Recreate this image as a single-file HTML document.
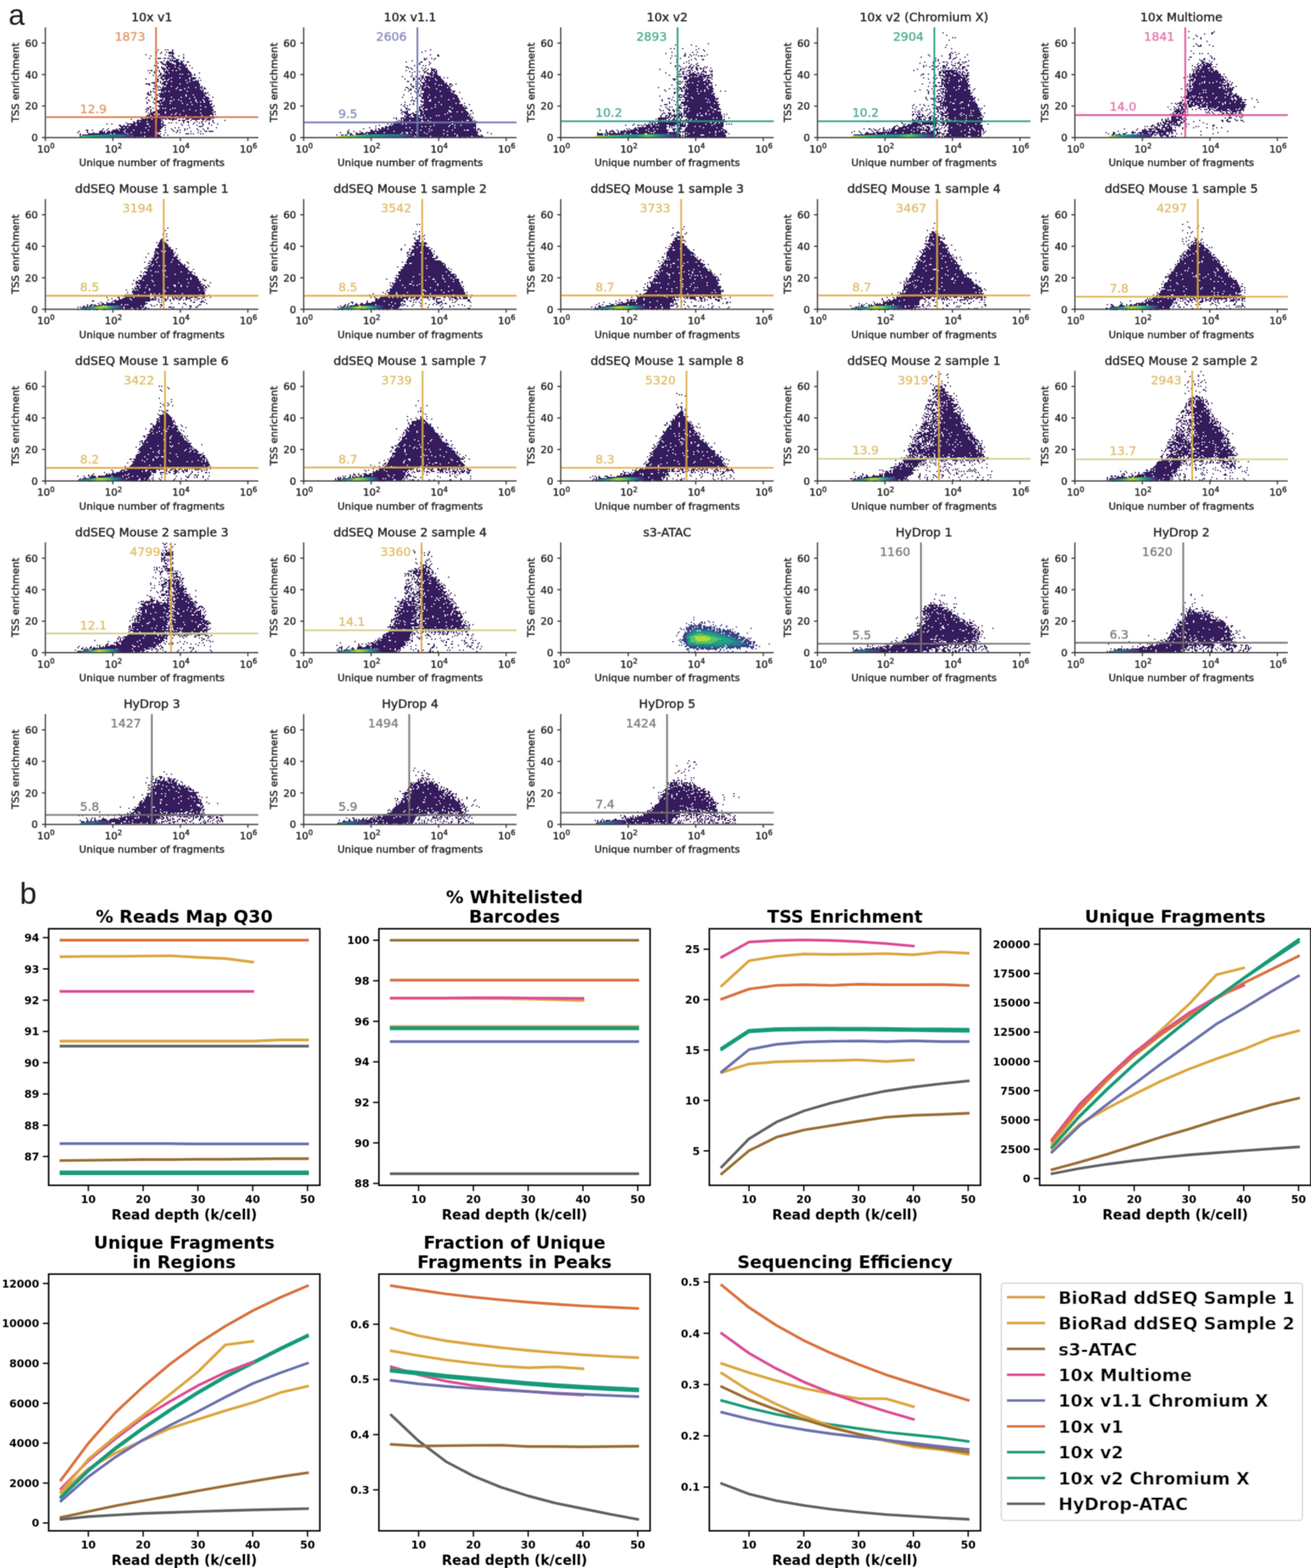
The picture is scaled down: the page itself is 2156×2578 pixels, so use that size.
<!DOCTYPE html><html><head><meta charset="utf-8"><style>html,body{margin:0;padding:0;background:#fff;}svg{display:block;}</style></head><body>
<svg width="2156" height="2578" viewBox="0 0 2156 2578">
<style>.pa text{stroke:currentColor;stroke-width:0.55px;paint-order:stroke}</style>
<rect width="2156" height="2578" fill="#fff"/>
<filter id="soft" x="0" y="0" width="100%" height="100%" filterUnits="userSpaceOnUse"><feConvolveMatrix order="3" kernelMatrix="1 2 1 2 4 2 1 2 1" divisor="16" edgeMode="duplicate" preserveAlpha="false"/></filter>
<g filter="url(#soft)">
<g class="pa" font-family="'DejaVu Sans', 'Liberation Sans', sans-serif" fill="#262626" color="#262626">
<g transform="translate(75 45)"><path fill="#341a5c" d="M184 36h2v2h-2zM196 36h2v2h-2zM200 36h2v2h-2zM208 36h2v2h-2zM208 38h2v2h-2zM182 40h2v2h-2zM190 40h2v2h-2zM198 40h2v2h-2zM202 40h8v2h-8zM188 42h2v2h-2zM202 42h10v2h-10zM164 44h2v2h-2zM180 44h2v2h-2zM196 44h2v2h-2zM208 44h2v2h-2zM226 44h2v2h-2zM172 46h2v2h-2zM202 46h8v2h-8zM218 46h2v2h-2zM208 48h4v2h-4zM226 48h2v2h-2zM170 50h2v2h-2zM184 50h6v2h-6zM194 50h4v2h-4zM200 50h4v2h-4zM206 50h2v2h-2zM210 50h4v2h-4zM226 50h2v2h-2zM180 52h2v2h-2zM204 52h2v2h-2zM208 52h2v2h-2zM214 52h6v2h-6zM194 54h2v2h-2zM200 54h2v2h-2zM204 54h14v2h-14zM222 54h2v2h-2zM226 54h2v2h-2zM180 56h4v2h-4zM188 56h4v2h-4zM198 56h6v2h-6zM210 56h10v2h-10zM222 56h4v2h-4zM232 56h4v2h-4zM184 58h2v2h-2zM190 58h4v2h-4zM198 58h10v2h-10zM214 58h12v2h-12zM192 60h20v2h-20zM214 60h14v2h-14zM230 60h2v2h-2zM178 62h2v2h-2zM182 62h2v2h-2zM196 62h2v2h-2zM200 62h20v2h-20zM222 62h10v2h-10zM236 62h2v2h-2zM184 64h2v2h-2zM190 64h2v2h-2zM198 64h14v2h-14zM214 64h16v2h-16zM184 66h2v2h-2zM190 66h6v2h-6zM198 66h4v2h-4zM204 66h14v2h-14zM220 66h14v2h-14zM240 66h2v2h-2zM180 68h2v2h-2zM192 68h6v2h-6zM200 68h20v2h-20zM222 68h12v2h-12zM168 70h2v2h-2zM172 70h4v2h-4zM182 70h2v2h-2zM186 70h2v2h-2zM194 70h2v2h-2zM198 70h2v2h-2zM202 70h6v2h-6zM210 70h4v2h-4zM216 70h20v2h-20zM178 72h2v2h-2zM186 72h2v2h-2zM194 72h44v2h-44zM170 74h2v2h-2zM178 74h2v2h-2zM188 74h2v2h-2zM196 74h6v2h-6zM204 74h36v2h-36zM252 74h2v2h-2zM188 76h4v2h-4zM194 76h2v2h-2zM198 76h22v2h-22zM222 76h2v2h-2zM226 76h8v2h-8zM236 76h4v2h-4zM244 76h2v2h-2zM176 78h2v2h-2zM186 78h4v2h-4zM192 78h50v2h-50zM244 78h2v2h-2zM184 80h2v2h-2zM190 80h50v2h-50zM188 82h4v2h-4zM196 82h10v2h-10zM208 82h12v2h-12zM222 82h14v2h-14zM238 82h10v2h-10zM252 82h2v2h-2zM164 84h2v2h-2zM182 84h4v2h-4zM190 84h12v2h-12zM204 84h32v2h-32zM238 84h8v2h-8zM184 86h2v2h-2zM192 86h2v2h-2zM198 86h2v2h-2zM202 86h28v2h-28zM232 86h10v2h-10zM246 86h2v2h-2zM250 86h2v2h-2zM254 86h2v2h-2zM182 88h4v2h-4zM188 88h2v2h-2zM194 88h12v2h-12zM208 88h28v2h-28zM238 88h14v2h-14zM174 90h6v2h-6zM188 90h2v2h-2zM192 90h6v2h-6zM200 90h32v2h-32zM234 90h18v2h-18zM164 92h8v2h-8zM178 92h2v2h-2zM190 92h8v2h-8zM200 92h20v2h-20zM222 92h32v2h-32zM170 94h2v2h-2zM180 94h4v2h-4zM194 94h60v2h-60zM178 96h6v2h-6zM186 96h2v2h-2zM192 96h2v2h-2zM198 96h8v2h-8zM208 96h46v2h-46zM256 96h2v2h-2zM184 98h2v2h-2zM188 98h2v2h-2zM192 98h24v2h-24zM218 98h16v2h-16zM236 98h10v2h-10zM248 98h10v2h-10zM260 98h2v2h-2zM176 100h6v2h-6zM190 100h24v2h-24zM216 100h12v2h-12zM230 100h24v2h-24zM256 100h2v2h-2zM260 100h4v2h-4zM184 102h36v2h-36zM224 102h32v2h-32zM258 102h2v2h-2zM172 104h2v2h-2zM176 104h2v2h-2zM190 104h6v2h-6zM198 104h4v2h-4zM204 104h28v2h-28zM234 104h26v2h-26zM168 106h2v2h-2zM172 106h2v2h-2zM178 106h2v2h-2zM190 106h2v2h-2zM194 106h66v2h-66zM262 106h2v2h-2zM266 106h2v2h-2zM166 108h4v2h-4zM186 108h80v2h-80zM168 110h6v2h-6zM180 110h6v2h-6zM188 110h42v2h-42zM232 110h10v2h-10zM244 110h18v2h-18zM268 110h2v2h-2zM186 112h44v2h-44zM232 112h32v2h-32zM166 114h2v2h-2zM174 114h2v2h-2zM182 114h2v2h-2zM188 114h18v2h-18zM208 114h14v2h-14zM224 114h20v2h-20zM246 114h14v2h-14zM262 114h6v2h-6zM274 114h2v2h-2zM164 116h2v2h-2zM178 116h2v2h-2zM182 116h2v2h-2zM192 116h2v2h-2zM196 116h40v2h-40zM238 116h32v2h-32zM168 118h2v2h-2zM178 118h2v2h-2zM188 118h6v2h-6zM196 118h14v2h-14zM212 118h6v2h-6zM220 118h26v2h-26zM248 118h10v2h-10zM260 118h8v2h-8zM170 120h2v2h-2zM182 120h10v2h-10zM194 120h10v2h-10zM208 120h14v2h-14zM224 120h22v2h-22zM248 120h12v2h-12zM262 120h12v2h-12zM166 122h2v2h-2zM176 122h2v2h-2zM182 122h6v2h-6zM190 122h48v2h-48zM240 122h8v2h-8zM250 122h4v2h-4zM256 122h4v2h-4zM262 122h8v2h-8zM166 124h2v2h-2zM178 124h2v2h-2zM186 124h18v2h-18zM206 124h18v2h-18zM226 124h44v2h-44zM272 124h2v2h-2zM188 126h2v2h-2zM192 126h40v2h-40zM234 126h6v2h-6zM242 126h32v2h-32zM184 128h70v2h-70zM256 128h16v2h-16zM276 128h2v2h-2zM170 130h4v2h-4zM186 130h76v2h-76zM264 130h12v2h-12zM166 132h4v2h-4zM176 132h2v2h-2zM188 132h4v2h-4zM194 132h2v2h-2zM198 132h10v2h-10zM210 132h2v2h-2zM214 132h60v2h-60zM164 134h2v2h-2zM168 134h2v2h-2zM172 134h2v2h-2zM182 134h2v2h-2zM186 134h18v2h-18zM206 134h30v2h-30zM238 134h16v2h-16zM256 134h20v2h-20zM166 136h2v2h-2zM172 136h2v2h-2zM182 136h44v2h-44zM228 136h18v2h-18zM248 136h28v2h-28zM164 138h2v2h-2zM172 138h2v2h-2zM176 138h6v2h-6zM184 138h12v2h-12zM198 138h76v2h-76zM276 138h4v2h-4zM168 140h2v2h-2zM172 140h10v2h-10zM184 140h12v2h-12zM198 140h16v2h-16zM216 140h38v2h-38zM256 140h20v2h-20zM170 142h8v2h-8zM182 142h2v2h-2zM188 142h18v2h-18zM208 142h4v2h-4zM214 142h6v2h-6zM222 142h54v2h-54zM278 142h2v2h-2zM166 144h6v2h-6zM174 144h8v2h-8zM184 144h46v2h-46zM232 144h24v2h-24zM258 144h12v2h-12zM274 144h2v2h-2zM164 146h24v2h-24zM190 146h2v2h-2zM194 146h2v2h-2zM198 146h4v2h-4zM206 146h8v2h-8zM216 146h30v2h-30zM248 146h30v2h-30zM280 146h2v2h-2zM156 148h4v2h-4zM164 148h2v2h-2zM168 148h30v2h-30zM200 148h6v2h-6zM208 148h4v2h-4zM214 148h2v2h-2zM218 148h4v2h-4zM224 148h4v2h-4zM230 148h34v2h-34zM266 148h12v2h-12zM140 150h2v2h-2zM158 150h16v2h-16zM176 150h14v2h-14zM192 150h2v2h-2zM196 150h4v2h-4zM202 150h14v2h-14zM230 150h6v2h-6zM240 150h14v2h-14zM256 150h6v2h-6zM264 150h8v2h-8zM150 152h42v2h-42zM208 152h2v2h-2zM218 152h4v2h-4zM224 152h6v2h-6zM238 152h2v2h-2zM246 152h2v2h-2zM258 152h2v2h-2zM264 152h2v2h-2zM268 152h2v2h-2zM274 152h2v2h-2zM294 152h2v2h-2zM144 154h2v2h-2zM150 154h4v2h-4zM156 154h10v2h-10zM168 154h12v2h-12zM182 154h8v2h-8zM192 154h2v2h-2zM226 154h2v2h-2zM232 154h4v2h-4zM248 154h2v2h-2zM256 154h2v2h-2zM262 154h2v2h-2zM274 154h2v2h-2zM132 156h2v2h-2zM144 156h46v2h-46zM192 156h2v2h-2zM202 156h2v2h-2zM206 156h2v2h-2zM214 156h2v2h-2zM226 156h2v2h-2zM234 156h2v2h-2zM244 156h2v2h-2zM252 156h2v2h-2zM256 156h2v2h-2zM268 156h2v2h-2zM276 156h2v2h-2zM100 158h2v2h-2zM108 158h2v2h-2zM134 158h14v2h-14zM150 158h16v2h-16zM170 158h24v2h-24zM222 158h2v2h-2zM242 158h2v2h-2zM258 158h2v2h-2zM268 158h2v2h-2zM282 158h2v2h-2zM120 160h4v2h-4zM128 160h2v2h-2zM134 160h2v2h-2zM140 160h8v2h-8zM150 160h40v2h-40zM192 160h6v2h-6zM224 160h2v2h-2zM234 160h2v2h-2zM248 160h2v2h-2zM258 160h2v2h-2zM272 160h2v2h-2zM122 162h48v2h-48zM172 162h22v2h-22zM252 162h6v2h-6zM124 164h4v2h-4zM130 164h4v2h-4zM136 164h28v2h-28zM166 164h26v2h-26zM196 164h2v2h-2zM212 164h2v2h-2zM218 164h2v2h-2zM236 164h2v2h-2zM266 164h2v2h-2zM280 164h2v2h-2zM94 166h2v2h-2zM102 166h2v2h-2zM116 166h2v2h-2zM120 166h70v2h-70zM206 166h2v2h-2zM228 166h2v2h-2zM232 166h2v2h-2zM248 166h2v2h-2zM258 166h2v2h-2zM266 166h2v2h-2zM66 168h4v2h-4zM76 168h2v2h-2zM92 168h2v2h-2zM100 168h2v2h-2zM110 168h10v2h-10zM122 168h8v2h-8zM132 168h12v2h-12zM146 168h22v2h-22zM170 168h18v2h-18zM196 168h2v2h-2zM208 168h2v2h-2zM216 168h2v2h-2zM220 168h2v2h-2zM228 168h2v2h-2zM250 168h2v2h-2zM260 168h2v2h-2zM54 170h2v2h-2zM68 170h2v2h-2zM88 170h6v2h-6zM96 170h2v2h-2zM102 170h4v2h-4zM108 170h20v2h-20zM130 170h60v2h-60zM210 170h2v2h-2zM216 170h2v2h-2zM238 170h2v2h-2zM254 170h2v2h-2zM262 170h4v2h-4zM268 170h8v2h-8zM52 172h2v2h-2zM68 172h2v2h-2zM78 172h2v2h-2zM88 172h10v2h-10zM100 172h30v2h-30zM132 172h8v2h-8zM142 172h14v2h-14zM158 172h4v2h-4zM164 172h16v2h-16zM184 172h2v2h-2zM196 172h2v2h-2zM214 172h2v2h-2zM220 172h2v2h-2zM250 172h2v2h-2zM56 174h2v2h-2zM70 174h36v2h-36zM108 174h4v2h-4zM114 174h20v2h-20zM136 174h48v2h-48zM188 174h2v2h-2zM230 174h6v2h-6zM238 174h2v2h-2zM242 174h2v2h-2zM254 174h2v2h-2zM258 174h2v2h-2zM56 176h2v2h-2zM60 176h52v2h-52zM114 176h66v2h-66zM182 176h6v2h-6zM194 176h2v2h-2zM200 176h2v2h-2zM56 178h56v2h-56zM114 178h4v2h-4zM120 178h10v2h-10zM132 178h2v2h-2zM136 178h2v2h-2zM140 178h2v2h-2zM144 178h18v2h-18zM164 178h26v2h-26zM58 180h12v2h-12zM72 180h2v2h-2zM80 180h4v2h-4zM94 180h4v2h-4zM100 180h4v2h-4zM106 180h2v2h-2zM114 180h2v2h-2zM120 180h4v2h-4zM128 180h2v2h-2zM132 180h2v2h-2zM136 180h2v2h-2zM144 180h4v2h-4zM152 180h2v2h-2zM160 180h2v2h-2zM164 180h8v2h-8zM174 180h4v2h-4zM180 180h2v2h-2zM184 180h2v2h-2zM188 180h2v2h-2z"/><linearGradient id="vg0" x1="0" x2="1" y1="0" y2="0"><stop offset="0.00" stop-color="#5ec962"/><stop offset="0.25" stop-color="#21a585"/><stop offset="0.50" stop-color="#23898e"/><stop offset="0.75" stop-color="#2d6f8e"/><stop offset="1.00" stop-color="#46307e"/></linearGradient><path fill="url(#vg0)" d="M57.8 181.2L57.8 178.2L100.7 175.9L143.5 175.2L143.5 181.2z"/></g>
<line x1="256.5" y1="226.2" x2="256.5" y2="44.9" stroke="#D9703C" stroke-width="2.9" stroke-opacity="0.9"/>
<line x1="74.6" y1="192.6" x2="424.8" y2="192.6" stroke="#D9703C" stroke-width="2.9" stroke-opacity="0.9"/>
<text x="239" y="67" font-size="19.8" text-anchor="end" fill="#E29C6E" color="#E29C6E">1873</text>
<text x="131.6" y="185.6" font-size="19.8" fill="#E29C6E" color="#E29C6E">12.9</text>
<path d="M74.6 44.9V226.2H424.8" fill="none" stroke="#3a3a3a" stroke-width="2"/>
<line x1="69" y1="226.2" x2="74.6" y2="226.2" stroke="#3a3a3a" stroke-width="2"/>
<text x="62.3" y="232.2" font-size="16.5" text-anchor="end">0</text>
<line x1="69" y1="174.4" x2="74.6" y2="174.4" stroke="#3a3a3a" stroke-width="2"/>
<text x="62.3" y="180.4" font-size="16.5" text-anchor="end">20</text>
<line x1="69" y1="122.6" x2="74.6" y2="122.6" stroke="#3a3a3a" stroke-width="2"/>
<text x="62.3" y="128.6" font-size="16.5" text-anchor="end">40</text>
<line x1="69" y1="70.8" x2="74.6" y2="70.8" stroke="#3a3a3a" stroke-width="2"/>
<text x="62.3" y="76.8" font-size="16.5" text-anchor="end">60</text>
<line x1="74.6" y1="226.2" x2="74.6" y2="231.8" stroke="#3a3a3a" stroke-width="2"/>
<text x="75.6" y="250.6" font-size="16.5" text-anchor="middle">10<tspan font-size="12" dy="-6.5">0</tspan></text>
<line x1="185.6" y1="226.2" x2="185.6" y2="231.8" stroke="#3a3a3a" stroke-width="2"/>
<text x="186.6" y="250.6" font-size="16.5" text-anchor="middle">10<tspan font-size="12" dy="-6.5">2</tspan></text>
<line x1="296.6" y1="226.2" x2="296.6" y2="231.8" stroke="#3a3a3a" stroke-width="2"/>
<text x="297.6" y="250.6" font-size="16.5" text-anchor="middle">10<tspan font-size="12" dy="-6.5">4</tspan></text>
<line x1="407.6" y1="226.2" x2="407.6" y2="231.8" stroke="#3a3a3a" stroke-width="2"/>
<text x="408.6" y="250.6" font-size="16.5" text-anchor="middle">10<tspan font-size="12" dy="-6.5">6</tspan></text>
<text x="249.7" y="273.2" font-size="16.5" text-anchor="middle">Unique number of fragments</text>
<text transform="translate(31.3 135.6) rotate(-90)" font-size="16.5" text-anchor="middle">TSS enrichment</text>
<text x="249.7" y="35.1" font-size="19.8" text-anchor="middle">10x v1</text>
<g transform="translate(499 45)"><path fill="#341a5c" d="M208 36h2v2h-2zM200 38h2v2h-2zM194 40h2v2h-2zM208 44h2v2h-2zM220 44h2v2h-2zM220 46h4v2h-4zM198 50h2v2h-2zM202 50h2v2h-2zM210 50h2v2h-2zM216 50h2v2h-2zM198 52h4v2h-4zM214 52h2v2h-2zM178 54h2v2h-2zM168 56h2v2h-2zM192 56h4v2h-4zM206 56h2v2h-2zM190 58h2v2h-2zM208 58h2v2h-2zM190 60h2v2h-2zM206 60h2v2h-2zM182 62h2v2h-2zM196 62h2v2h-2zM200 62h2v2h-2zM168 64h4v2h-4zM186 64h2v2h-2zM172 66h2v2h-2zM176 66h2v2h-2zM194 66h2v2h-2zM200 66h2v2h-2zM210 66h2v2h-2zM178 68h2v2h-2zM198 68h2v2h-2zM204 68h2v2h-2zM210 68h8v2h-8zM168 70h2v2h-2zM196 70h2v2h-2zM202 70h2v2h-2zM210 70h6v2h-6zM218 70h2v2h-2zM174 72h2v2h-2zM182 72h2v2h-2zM190 72h2v2h-2zM198 72h4v2h-4zM210 72h2v2h-2zM214 72h6v2h-6zM178 74h2v2h-2zM198 74h2v2h-2zM202 74h4v2h-4zM208 74h6v2h-6zM216 74h4v2h-4zM204 76h8v2h-8zM214 76h6v2h-6zM178 78h2v2h-2zM192 78h2v2h-2zM196 78h2v2h-2zM208 78h14v2h-14zM162 80h2v2h-2zM176 80h2v2h-2zM184 80h2v2h-2zM194 80h4v2h-4zM200 80h8v2h-8zM210 80h2v2h-2zM214 80h12v2h-12zM180 82h2v2h-2zM186 82h2v2h-2zM190 82h2v2h-2zM194 82h4v2h-4zM200 82h26v2h-26zM230 82h2v2h-2zM236 82h2v2h-2zM166 84h2v2h-2zM180 84h4v2h-4zM188 84h4v2h-4zM194 84h2v2h-2zM198 84h2v2h-2zM202 84h14v2h-14zM218 84h10v2h-10zM180 86h2v2h-2zM192 86h2v2h-2zM198 86h8v2h-8zM208 86h10v2h-10zM220 86h10v2h-10zM170 88h4v2h-4zM184 88h2v2h-2zM192 88h2v2h-2zM200 88h32v2h-32zM186 90h4v2h-4zM194 90h38v2h-38zM234 90h2v2h-2zM176 92h2v2h-2zM184 92h4v2h-4zM190 92h2v2h-2zM196 92h4v2h-4zM202 92h14v2h-14zM218 92h18v2h-18zM240 92h4v2h-4zM250 92h2v2h-2zM176 94h2v2h-2zM186 94h2v2h-2zM192 94h2v2h-2zM196 94h26v2h-26zM224 94h2v2h-2zM228 94h10v2h-10zM240 94h2v2h-2zM244 94h2v2h-2zM178 96h4v2h-4zM184 96h2v2h-2zM192 96h8v2h-8zM202 96h2v2h-2zM206 96h34v2h-34zM242 96h2v2h-2zM168 98h4v2h-4zM180 98h2v2h-2zM186 98h2v2h-2zM190 98h2v2h-2zM194 98h4v2h-4zM200 98h6v2h-6zM208 98h28v2h-28zM238 98h4v2h-4zM172 100h2v2h-2zM176 100h2v2h-2zM184 100h2v2h-2zM190 100h2v2h-2zM194 100h24v2h-24zM220 100h22v2h-22zM166 102h2v2h-2zM174 102h4v2h-4zM188 102h2v2h-2zM194 102h50v2h-50zM172 104h2v2h-2zM182 104h2v2h-2zM188 104h2v2h-2zM192 104h2v2h-2zM198 104h26v2h-26zM226 104h16v2h-16zM244 104h6v2h-6zM184 106h2v2h-2zM188 106h2v2h-2zM198 106h46v2h-46zM246 106h2v2h-2zM256 106h2v2h-2zM176 108h2v2h-2zM186 108h2v2h-2zM192 108h56v2h-56zM164 110h2v2h-2zM190 110h2v2h-2zM196 110h10v2h-10zM208 110h44v2h-44zM186 112h2v2h-2zM190 112h4v2h-4zM196 112h30v2h-30zM228 112h26v2h-26zM162 114h2v2h-2zM178 114h2v2h-2zM186 114h2v2h-2zM194 114h10v2h-10zM206 114h10v2h-10zM218 114h36v2h-36zM184 116h2v2h-2zM194 116h52v2h-52zM248 116h8v2h-8zM260 116h2v2h-2zM178 118h2v2h-2zM198 118h10v2h-10zM210 118h28v2h-28zM240 118h16v2h-16zM176 120h2v2h-2zM180 120h4v2h-4zM186 120h2v2h-2zM192 120h4v2h-4zM198 120h8v2h-8zM210 120h48v2h-48zM166 122h2v2h-2zM186 122h2v2h-2zM194 122h28v2h-28zM224 122h34v2h-34zM180 124h2v2h-2zM198 124h52v2h-52zM252 124h4v2h-4zM264 124h2v2h-2zM160 126h2v2h-2zM166 126h2v2h-2zM174 126h2v2h-2zM180 126h2v2h-2zM192 126h2v2h-2zM196 126h20v2h-20zM218 126h8v2h-8zM228 126h34v2h-34zM272 126h2v2h-2zM164 128h2v2h-2zM170 128h2v2h-2zM194 128h68v2h-68zM264 128h2v2h-2zM166 130h2v2h-2zM190 130h6v2h-6zM198 130h18v2h-18zM218 130h22v2h-22zM242 130h22v2h-22zM266 130h2v2h-2zM168 132h4v2h-4zM190 132h2v2h-2zM196 132h14v2h-14zM212 132h32v2h-32zM246 132h24v2h-24zM160 134h2v2h-2zM168 134h2v2h-2zM172 134h4v2h-4zM190 134h4v2h-4zM196 134h4v2h-4zM204 134h62v2h-62zM160 136h2v2h-2zM170 136h2v2h-2zM186 136h2v2h-2zM190 136h6v2h-6zM198 136h40v2h-40zM242 136h26v2h-26zM274 136h4v2h-4zM162 138h10v2h-10zM184 138h2v2h-2zM188 138h2v2h-2zM192 138h48v2h-48zM244 138h8v2h-8zM254 138h6v2h-6zM262 138h8v2h-8zM160 140h2v2h-2zM166 140h6v2h-6zM178 140h4v2h-4zM186 140h2v2h-2zM192 140h4v2h-4zM198 140h38v2h-38zM238 140h34v2h-34zM278 140h2v2h-2zM162 142h2v2h-2zM168 142h10v2h-10zM180 142h8v2h-8zM192 142h40v2h-40zM234 142h38v2h-38zM274 142h2v2h-2zM166 144h2v2h-2zM170 144h6v2h-6zM180 144h6v2h-6zM188 144h10v2h-10zM200 144h18v2h-18zM220 144h2v2h-2zM224 144h46v2h-46zM272 144h2v2h-2zM166 146h8v2h-8zM176 146h2v2h-2zM182 146h8v2h-8zM192 146h2v2h-2zM196 146h46v2h-46zM244 146h30v2h-30zM276 146h2v2h-2zM148 148h2v2h-2zM152 148h2v2h-2zM160 148h6v2h-6zM168 148h24v2h-24zM196 148h4v2h-4zM202 148h6v2h-6zM210 148h66v2h-66zM278 148h2v2h-2zM152 150h2v2h-2zM160 150h2v2h-2zM164 150h74v2h-74zM240 150h38v2h-38zM156 152h2v2h-2zM160 152h2v2h-2zM164 152h10v2h-10zM176 152h18v2h-18zM196 152h8v2h-8zM206 152h62v2h-62zM272 152h6v2h-6zM280 152h2v2h-2zM152 154h4v2h-4zM158 154h36v2h-36zM198 154h10v2h-10zM210 154h34v2h-34zM246 154h14v2h-14zM262 154h18v2h-18zM282 154h4v2h-4zM148 156h4v2h-4zM154 156h34v2h-34zM190 156h2v2h-2zM194 156h12v2h-12zM208 156h6v2h-6zM216 156h68v2h-68zM138 158h2v2h-2zM144 158h2v2h-2zM148 158h14v2h-14zM164 158h4v2h-4zM170 158h74v2h-74zM246 158h38v2h-38zM124 160h2v2h-2zM142 160h2v2h-2zM146 160h68v2h-68zM216 160h24v2h-24zM242 160h6v2h-6zM250 160h8v2h-8zM260 160h24v2h-24zM118 162h2v2h-2zM134 162h4v2h-4zM140 162h54v2h-54zM196 162h4v2h-4zM202 162h6v2h-6zM210 162h28v2h-28zM240 162h44v2h-44zM108 164h2v2h-2zM128 164h4v2h-4zM134 164h34v2h-34zM170 164h4v2h-4zM176 164h72v2h-72zM250 164h30v2h-30zM282 164h2v2h-2zM98 166h2v2h-2zM118 166h2v2h-2zM122 166h4v2h-4zM128 166h10v2h-10zM140 166h66v2h-66zM208 166h76v2h-76zM286 166h4v2h-4zM74 168h2v2h-2zM110 168h4v2h-4zM118 168h2v2h-2zM124 168h54v2h-54zM180 168h12v2h-12zM194 168h16v2h-16zM212 168h18v2h-18zM232 168h12v2h-12zM246 168h18v2h-18zM266 168h2v2h-2zM272 168h12v2h-12zM286 168h2v2h-2zM290 168h2v2h-2zM72 170h2v2h-2zM82 170h2v2h-2zM92 170h2v2h-2zM110 170h38v2h-38zM150 170h56v2h-56zM208 170h28v2h-28zM238 170h48v2h-48zM290 170h2v2h-2zM60 172h2v2h-2zM72 172h4v2h-4zM86 172h2v2h-2zM94 172h4v2h-4zM102 172h16v2h-16zM120 172h12v2h-12zM134 172h28v2h-28zM164 172h4v2h-4zM172 172h4v2h-4zM178 172h6v2h-6zM186 172h12v2h-12zM200 172h88v2h-88zM302 172h2v2h-2zM72 174h2v2h-2zM76 174h4v2h-4zM86 174h18v2h-18zM106 174h54v2h-54zM162 174h8v2h-8zM172 174h30v2h-30zM204 174h26v2h-26zM232 174h16v2h-16zM250 174h36v2h-36zM308 174h2v2h-2zM54 176h2v2h-2zM62 176h4v2h-4zM68 176h4v2h-4zM76 176h6v2h-6zM86 176h14v2h-14zM102 176h70v2h-70zM174 176h62v2h-62zM238 176h14v2h-14zM254 176h34v2h-34zM292 176h2v2h-2zM60 178h6v2h-6zM68 178h2v2h-2zM72 178h20v2h-20zM94 178h10v2h-10zM106 178h12v2h-12zM120 178h14v2h-14zM138 178h26v2h-26zM166 178h6v2h-6zM174 178h8v2h-8zM184 178h24v2h-24zM210 178h42v2h-42zM254 178h22v2h-22zM278 178h18v2h-18zM54 180h2v2h-2zM66 180h2v2h-2zM72 180h2v2h-2zM80 180h2v2h-2zM88 180h2v2h-2zM94 180h2v2h-2zM98 180h4v2h-4zM104 180h4v2h-4zM110 180h2v2h-2zM114 180h2v2h-2zM120 180h2v2h-2zM130 180h2v2h-2zM142 180h6v2h-6zM158 180h4v2h-4zM174 180h2v2h-2zM180 180h2v2h-2zM194 180h2v2h-2zM200 180h2v2h-2zM204 180h2v2h-2zM208 180h2v2h-2zM212 180h2v2h-2zM218 180h2v2h-2zM222 180h4v2h-4zM230 180h4v2h-4zM236 180h2v2h-2zM240 180h2v2h-2zM244 180h2v2h-2zM254 180h6v2h-6zM264 180h2v2h-2zM274 180h2v2h-2zM288 180h2v2h-2z"/><linearGradient id="vg1" x1="0" x2="1" y1="0" y2="0"><stop offset="0.00" stop-color="#b8de29"/><stop offset="0.20" stop-color="#5ec962"/><stop offset="0.40" stop-color="#21a585"/><stop offset="0.60" stop-color="#23898e"/><stop offset="0.80" stop-color="#2d6f8e"/><stop offset="1.00" stop-color="#46307e"/></linearGradient><path fill="url(#vg1)" d="M57.8 181.2L57.8 178.2L118.6 175.9L179.4 175.2L179.4 181.2z"/></g>
<line x1="686.4" y1="226.2" x2="686.4" y2="44.9" stroke="#6E74AE" stroke-width="2.9" stroke-opacity="0.9"/>
<line x1="499.4" y1="201.3" x2="849.6" y2="201.3" stroke="#6E74AE" stroke-width="2.9" stroke-opacity="0.9"/>
<text x="668.9" y="67" font-size="19.8" text-anchor="end" fill="#8A8FC0" color="#8A8FC0">2606</text>
<text x="556.4" y="194.3" font-size="19.8" fill="#8A8FC0" color="#8A8FC0">9.5</text>
<path d="M499.4 44.9V226.2H849.6" fill="none" stroke="#3a3a3a" stroke-width="2"/>
<line x1="493.8" y1="226.2" x2="499.4" y2="226.2" stroke="#3a3a3a" stroke-width="2"/>
<text x="487.1" y="232.2" font-size="16.5" text-anchor="end">0</text>
<line x1="493.8" y1="174.4" x2="499.4" y2="174.4" stroke="#3a3a3a" stroke-width="2"/>
<text x="487.1" y="180.4" font-size="16.5" text-anchor="end">20</text>
<line x1="493.8" y1="122.6" x2="499.4" y2="122.6" stroke="#3a3a3a" stroke-width="2"/>
<text x="487.1" y="128.6" font-size="16.5" text-anchor="end">40</text>
<line x1="493.8" y1="70.8" x2="499.4" y2="70.8" stroke="#3a3a3a" stroke-width="2"/>
<text x="487.1" y="76.8" font-size="16.5" text-anchor="end">60</text>
<line x1="499.4" y1="226.2" x2="499.4" y2="231.8" stroke="#3a3a3a" stroke-width="2"/>
<text x="500.4" y="250.6" font-size="16.5" text-anchor="middle">10<tspan font-size="12" dy="-6.5">0</tspan></text>
<line x1="610.4" y1="226.2" x2="610.4" y2="231.8" stroke="#3a3a3a" stroke-width="2"/>
<text x="611.4" y="250.6" font-size="16.5" text-anchor="middle">10<tspan font-size="12" dy="-6.5">2</tspan></text>
<line x1="721.4" y1="226.2" x2="721.4" y2="231.8" stroke="#3a3a3a" stroke-width="2"/>
<text x="722.4" y="250.6" font-size="16.5" text-anchor="middle">10<tspan font-size="12" dy="-6.5">4</tspan></text>
<line x1="832.4" y1="226.2" x2="832.4" y2="231.8" stroke="#3a3a3a" stroke-width="2"/>
<text x="833.4" y="250.6" font-size="16.5" text-anchor="middle">10<tspan font-size="12" dy="-6.5">6</tspan></text>
<text x="674.5" y="273.2" font-size="16.5" text-anchor="middle">Unique number of fragments</text>
<text transform="translate(456.1 135.6) rotate(-90)" font-size="16.5" text-anchor="middle">TSS enrichment</text>
<text x="674.5" y="35.1" font-size="19.8" text-anchor="middle">10x v1.1</text>
<g transform="translate(922 45)"><path fill="#341a5c" d="M242 26h2v2h-2zM188 28h2v2h-2zM214 28h2v2h-2zM222 30h2v2h-2zM180 34h2v2h-2zM186 34h2v2h-2zM200 34h2v2h-2zM226 34h2v2h-2zM222 36h2v2h-2zM234 36h2v2h-2zM236 38h2v2h-2zM182 40h2v2h-2zM216 40h2v2h-2zM224 40h2v2h-2zM172 42h2v2h-2zM204 42h2v2h-2zM204 44h2v2h-2zM212 44h2v2h-2zM218 44h2v2h-2zM222 44h2v2h-2zM240 44h2v2h-2zM182 46h2v2h-2zM188 46h2v2h-2zM202 46h4v2h-4zM214 46h2v2h-2zM226 46h2v2h-2zM230 46h4v2h-4zM236 46h2v2h-2zM210 48h2v2h-2zM180 50h2v2h-2zM196 50h2v2h-2zM220 50h2v2h-2zM190 52h2v2h-2zM214 52h2v2h-2zM222 52h2v2h-2zM232 52h4v2h-4zM210 54h2v2h-2zM190 56h2v2h-2zM206 56h2v2h-2zM180 58h2v2h-2zM202 58h2v2h-2zM210 58h2v2h-2zM224 58h2v2h-2zM214 60h2v2h-2zM222 60h2v2h-2zM188 62h2v2h-2zM194 62h2v2h-2zM212 62h2v2h-2zM218 62h2v2h-2zM224 62h4v2h-4zM188 64h2v2h-2zM196 64h2v2h-2zM206 64h2v2h-2zM210 64h4v2h-4zM216 64h2v2h-2zM222 64h2v2h-2zM236 64h2v2h-2zM240 64h2v2h-2zM200 66h2v2h-2zM204 66h2v2h-2zM210 66h2v2h-2zM214 66h4v2h-4zM222 66h4v2h-4zM228 66h4v2h-4zM234 66h2v2h-2zM238 66h2v2h-2zM246 66h2v2h-2zM162 68h2v2h-2zM190 68h2v2h-2zM196 68h4v2h-4zM202 68h2v2h-2zM214 68h2v2h-2zM222 68h4v2h-4zM230 68h2v2h-2zM234 68h2v2h-2zM196 70h2v2h-2zM208 70h6v2h-6zM216 70h2v2h-2zM224 70h2v2h-2zM234 70h2v2h-2zM244 70h2v2h-2zM248 70h2v2h-2zM194 72h2v2h-2zM200 72h4v2h-4zM206 72h2v2h-2zM212 72h2v2h-2zM220 72h2v2h-2zM232 72h8v2h-8zM246 72h4v2h-4zM172 74h2v2h-2zM200 74h2v2h-2zM210 74h4v2h-4zM216 74h4v2h-4zM224 74h4v2h-4zM230 74h2v2h-2zM238 74h2v2h-2zM194 76h4v2h-4zM200 76h4v2h-4zM206 76h2v2h-2zM212 76h12v2h-12zM226 76h2v2h-2zM230 76h6v2h-6zM246 76h4v2h-4zM178 78h2v2h-2zM192 78h2v2h-2zM208 78h18v2h-18zM228 78h4v2h-4zM234 78h12v2h-12zM248 78h2v2h-2zM190 80h2v2h-2zM194 80h6v2h-6zM202 80h6v2h-6zM210 80h4v2h-4zM216 80h4v2h-4zM222 80h2v2h-2zM226 80h14v2h-14zM242 80h2v2h-2zM248 80h2v2h-2zM202 82h6v2h-6zM212 82h22v2h-22zM236 82h2v2h-2zM240 82h8v2h-8zM184 84h6v2h-6zM202 84h6v2h-6zM210 84h26v2h-26zM240 84h2v2h-2zM248 84h2v2h-2zM186 86h2v2h-2zM208 86h26v2h-26zM238 86h8v2h-8zM194 88h4v2h-4zM200 88h2v2h-2zM204 88h22v2h-22zM228 88h12v2h-12zM242 88h4v2h-4zM190 90h4v2h-4zM198 90h2v2h-2zM206 90h4v2h-4zM212 90h4v2h-4zM218 90h32v2h-32zM192 92h6v2h-6zM204 92h2v2h-2zM208 92h28v2h-28zM238 92h6v2h-6zM246 92h2v2h-2zM182 94h2v2h-2zM204 94h20v2h-20zM226 94h18v2h-18zM248 94h2v2h-2zM254 94h2v2h-2zM192 96h2v2h-2zM202 96h2v2h-2zM206 96h34v2h-34zM242 96h8v2h-8zM160 98h2v2h-2zM194 98h4v2h-4zM200 98h6v2h-6zM208 98h32v2h-32zM242 98h8v2h-8zM178 100h2v2h-2zM186 100h2v2h-2zM190 100h4v2h-4zM196 100h4v2h-4zM202 100h2v2h-2zM206 100h2v2h-2zM210 100h14v2h-14zM226 100h16v2h-16zM244 100h8v2h-8zM170 102h2v2h-2zM194 102h2v2h-2zM198 102h2v2h-2zM204 102h32v2h-32zM238 102h12v2h-12zM172 104h2v2h-2zM192 104h2v2h-2zM198 104h4v2h-4zM204 104h20v2h-20zM226 104h4v2h-4zM232 104h4v2h-4zM238 104h14v2h-14zM262 104h2v2h-2zM270 104h2v2h-2zM186 106h4v2h-4zM192 106h2v2h-2zM204 106h46v2h-46zM186 108h2v2h-2zM204 108h4v2h-4zM210 108h16v2h-16zM228 108h20v2h-20zM250 108h4v2h-4zM194 110h6v2h-6zM202 110h50v2h-50zM162 112h2v2h-2zM194 112h2v2h-2zM200 112h4v2h-4zM208 112h46v2h-46zM184 114h2v2h-2zM194 114h6v2h-6zM202 114h12v2h-12zM216 114h38v2h-38zM176 116h4v2h-4zM204 116h12v2h-12zM218 116h20v2h-20zM240 116h20v2h-20zM166 118h2v2h-2zM182 118h2v2h-2zM194 118h4v2h-4zM200 118h2v2h-2zM204 118h38v2h-38zM244 118h10v2h-10zM256 118h2v2h-2zM166 120h2v2h-2zM186 120h2v2h-2zM192 120h2v2h-2zM204 120h4v2h-4zM210 120h46v2h-46zM178 122h2v2h-2zM190 122h2v2h-2zM198 122h42v2h-42zM242 122h2v2h-2zM246 122h14v2h-14zM178 124h2v2h-2zM198 124h54v2h-54zM254 124h4v2h-4zM170 126h6v2h-6zM188 126h2v2h-2zM192 126h2v2h-2zM196 126h2v2h-2zM202 126h60v2h-60zM164 128h2v2h-2zM194 128h2v2h-2zM198 128h2v2h-2zM202 128h4v2h-4zM208 128h52v2h-52zM172 130h2v2h-2zM178 130h2v2h-2zM182 130h2v2h-2zM194 130h4v2h-4zM208 130h38v2h-38zM248 130h12v2h-12zM174 132h2v2h-2zM192 132h8v2h-8zM202 132h8v2h-8zM212 132h18v2h-18zM232 132h16v2h-16zM250 132h12v2h-12zM162 134h2v2h-2zM176 134h4v2h-4zM184 134h2v2h-2zM190 134h2v2h-2zM202 134h2v2h-2zM206 134h46v2h-46zM256 134h8v2h-8zM164 136h2v2h-2zM168 136h2v2h-2zM178 136h2v2h-2zM184 136h4v2h-4zM190 136h6v2h-6zM202 136h8v2h-8zM212 136h30v2h-30zM244 136h14v2h-14zM186 138h2v2h-2zM196 138h2v2h-2zM202 138h6v2h-6zM210 138h40v2h-40zM252 138h12v2h-12zM168 140h4v2h-4zM176 140h6v2h-6zM194 140h2v2h-2zM198 140h2v2h-2zM202 140h26v2h-26zM230 140h8v2h-8zM240 140h24v2h-24zM166 142h2v2h-2zM178 142h4v2h-4zM186 142h2v2h-2zM190 142h2v2h-2zM194 142h6v2h-6zM202 142h2v2h-2zM206 142h18v2h-18zM226 142h12v2h-12zM240 142h4v2h-4zM246 142h18v2h-18zM268 142h2v2h-2zM272 142h2v2h-2zM164 144h2v2h-2zM172 144h4v2h-4zM178 144h2v2h-2zM182 144h10v2h-10zM194 144h6v2h-6zM202 144h2v2h-2zM206 144h18v2h-18zM226 144h4v2h-4zM234 144h32v2h-32zM164 146h2v2h-2zM172 146h2v2h-2zM176 146h4v2h-4zM182 146h2v2h-2zM186 146h4v2h-4zM192 146h4v2h-4zM198 146h4v2h-4zM204 146h62v2h-62zM268 146h2v2h-2zM160 148h18v2h-18zM180 148h2v2h-2zM186 148h2v2h-2zM190 148h2v2h-2zM194 148h2v2h-2zM198 148h2v2h-2zM208 148h42v2h-42zM252 148h4v2h-4zM258 148h8v2h-8zM276 148h2v2h-2zM156 150h2v2h-2zM160 150h14v2h-14zM178 150h2v2h-2zM184 150h4v2h-4zM190 150h2v2h-2zM196 150h2v2h-2zM206 150h2v2h-2zM210 150h4v2h-4zM216 150h6v2h-6zM224 150h42v2h-42zM268 150h2v2h-2zM160 152h6v2h-6zM168 152h2v2h-2zM172 152h2v2h-2zM176 152h4v2h-4zM182 152h12v2h-12zM196 152h4v2h-4zM202 152h10v2h-10zM214 152h56v2h-56zM146 154h2v2h-2zM150 154h4v2h-4zM158 154h16v2h-16zM176 154h22v2h-22zM200 154h4v2h-4zM206 154h40v2h-40zM248 154h26v2h-26zM146 156h2v2h-2zM150 156h2v2h-2zM154 156h2v2h-2zM160 156h38v2h-38zM200 156h2v2h-2zM204 156h2v2h-2zM208 156h38v2h-38zM248 156h6v2h-6zM256 156h4v2h-4zM262 156h6v2h-6zM120 158h2v2h-2zM138 158h2v2h-2zM144 158h2v2h-2zM148 158h4v2h-4zM154 158h40v2h-40zM196 158h6v2h-6zM204 158h2v2h-2zM210 158h28v2h-28zM240 158h12v2h-12zM254 158h14v2h-14zM272 158h2v2h-2zM276 158h2v2h-2zM280 158h2v2h-2zM106 160h2v2h-2zM118 160h2v2h-2zM126 160h4v2h-4zM132 160h2v2h-2zM136 160h2v2h-2zM140 160h8v2h-8zM150 160h6v2h-6zM158 160h2v2h-2zM162 160h12v2h-12zM178 160h10v2h-10zM190 160h16v2h-16zM208 160h40v2h-40zM250 160h18v2h-18zM134 162h2v2h-2zM140 162h8v2h-8zM150 162h26v2h-26zM178 162h2v2h-2zM182 162h2v2h-2zM186 162h2v2h-2zM192 162h2v2h-2zM196 162h10v2h-10zM208 162h12v2h-12zM222 162h6v2h-6zM230 162h38v2h-38zM122 164h2v2h-2zM126 164h48v2h-48zM178 164h2v2h-2zM182 164h2v2h-2zM194 164h4v2h-4zM206 164h28v2h-28zM236 164h20v2h-20zM258 164h8v2h-8zM108 166h2v2h-2zM112 166h2v2h-2zM120 166h6v2h-6zM128 166h16v2h-16zM146 166h6v2h-6zM154 166h4v2h-4zM160 166h14v2h-14zM184 166h6v2h-6zM192 166h8v2h-8zM204 166h64v2h-64zM64 168h2v2h-2zM74 168h2v2h-2zM84 168h2v2h-2zM92 168h2v2h-2zM104 168h2v2h-2zM110 168h2v2h-2zM114 168h26v2h-26zM142 168h36v2h-36zM184 168h4v2h-4zM192 168h4v2h-4zM204 168h60v2h-60zM266 168h6v2h-6zM74 170h2v2h-2zM80 170h8v2h-8zM94 170h2v2h-2zM98 170h26v2h-26zM126 170h18v2h-18zM146 170h8v2h-8zM156 170h20v2h-20zM186 170h2v2h-2zM190 170h8v2h-8zM200 170h54v2h-54zM256 170h4v2h-4zM262 170h6v2h-6zM270 170h4v2h-4zM60 172h2v2h-2zM74 172h4v2h-4zM80 172h2v2h-2zM86 172h4v2h-4zM94 172h2v2h-2zM98 172h8v2h-8zM108 172h18v2h-18zM128 172h20v2h-20zM150 172h2v2h-2zM154 172h40v2h-40zM196 172h2v2h-2zM200 172h2v2h-2zM204 172h2v2h-2zM208 172h10v2h-10zM220 172h24v2h-24zM246 172h8v2h-8zM256 172h18v2h-18zM60 174h10v2h-10zM72 174h2v2h-2zM76 174h28v2h-28zM106 174h8v2h-8zM116 174h22v2h-22zM142 174h34v2h-34zM178 174h18v2h-18zM204 174h6v2h-6zM212 174h58v2h-58zM276 174h2v2h-2zM60 176h10v2h-10zM72 176h6v2h-6zM80 176h28v2h-28zM110 176h4v2h-4zM116 176h48v2h-48zM166 176h32v2h-32zM200 176h2v2h-2zM204 176h2v2h-2zM208 176h22v2h-22zM236 176h18v2h-18zM256 176h16v2h-16zM58 178h40v2h-40zM100 178h14v2h-14zM116 178h20v2h-20zM138 178h10v2h-10zM150 178h18v2h-18zM170 178h28v2h-28zM200 178h2v2h-2zM204 178h68v2h-68zM54 180h2v2h-2zM60 180h2v2h-2zM64 180h2v2h-2zM68 180h2v2h-2zM74 180h8v2h-8zM84 180h2v2h-2zM92 180h12v2h-12zM106 180h4v2h-4zM112 180h8v2h-8zM124 180h2v2h-2zM138 180h2v2h-2zM142 180h2v2h-2zM148 180h4v2h-4zM154 180h2v2h-2zM162 180h38v2h-38zM202 180h4v2h-4zM208 180h34v2h-34zM244 180h28v2h-28z"/><linearGradient id="vg2" x1="0" x2="1" y1="0" y2="0"><stop offset="0.00" stop-color="#b8de29"/><stop offset="0.15" stop-color="#5ec962"/><stop offset="0.35" stop-color="#21a585"/><stop offset="0.50" stop-color="#23898e"/><stop offset="0.65" stop-color="#5ec962"/><stop offset="0.80" stop-color="#23898e"/><stop offset="1.00" stop-color="#46307e"/></linearGradient><path fill="url(#vg2)" d="M57.8 181.2L57.8 178.2L123.6 175.9L189.4 175.2L189.4 181.2z"/></g>
<line x1="1114.3" y1="226.2" x2="1114.3" y2="44.9" stroke="#1E9A7E" stroke-width="2.9" stroke-opacity="0.9"/>
<line x1="922.2" y1="199.4" x2="1272.4" y2="199.4" stroke="#1E9A7E" stroke-width="2.9" stroke-opacity="0.9"/>
<text x="1096.8" y="67" font-size="19.8" text-anchor="end" fill="#4FAE93" color="#4FAE93">2893</text>
<text x="979.2" y="192.4" font-size="19.8" fill="#4FAE93" color="#4FAE93">10.2</text>
<path d="M922.2 44.9V226.2H1272.4" fill="none" stroke="#3a3a3a" stroke-width="2"/>
<line x1="916.6" y1="226.2" x2="922.2" y2="226.2" stroke="#3a3a3a" stroke-width="2"/>
<text x="909.9" y="232.2" font-size="16.5" text-anchor="end">0</text>
<line x1="916.6" y1="174.4" x2="922.2" y2="174.4" stroke="#3a3a3a" stroke-width="2"/>
<text x="909.9" y="180.4" font-size="16.5" text-anchor="end">20</text>
<line x1="916.6" y1="122.6" x2="922.2" y2="122.6" stroke="#3a3a3a" stroke-width="2"/>
<text x="909.9" y="128.6" font-size="16.5" text-anchor="end">40</text>
<line x1="916.6" y1="70.8" x2="922.2" y2="70.8" stroke="#3a3a3a" stroke-width="2"/>
<text x="909.9" y="76.8" font-size="16.5" text-anchor="end">60</text>
<line x1="922.2" y1="226.2" x2="922.2" y2="231.8" stroke="#3a3a3a" stroke-width="2"/>
<text x="923.2" y="250.6" font-size="16.5" text-anchor="middle">10<tspan font-size="12" dy="-6.5">0</tspan></text>
<line x1="1033.2" y1="226.2" x2="1033.2" y2="231.8" stroke="#3a3a3a" stroke-width="2"/>
<text x="1034.2" y="250.6" font-size="16.5" text-anchor="middle">10<tspan font-size="12" dy="-6.5">2</tspan></text>
<line x1="1144.2" y1="226.2" x2="1144.2" y2="231.8" stroke="#3a3a3a" stroke-width="2"/>
<text x="1145.2" y="250.6" font-size="16.5" text-anchor="middle">10<tspan font-size="12" dy="-6.5">4</tspan></text>
<line x1="1255.2" y1="226.2" x2="1255.2" y2="231.8" stroke="#3a3a3a" stroke-width="2"/>
<text x="1256.2" y="250.6" font-size="16.5" text-anchor="middle">10<tspan font-size="12" dy="-6.5">6</tspan></text>
<text x="1097.3" y="273.2" font-size="16.5" text-anchor="middle">Unique number of fragments</text>
<text transform="translate(878.9 135.6) rotate(-90)" font-size="16.5" text-anchor="middle">TSS enrichment</text>
<text x="1097.3" y="35.1" font-size="19.8" text-anchor="middle">10x v2</text>
<g transform="translate(1344 45)"><path fill="#341a5c" d="M206 8h2v2h-2zM212 12h2v2h-2zM222 16h2v2h-2zM226 16h2v2h-2zM216 20h2v2h-2zM212 28h2v2h-2zM210 32h2v2h-2zM220 34h2v2h-2zM220 40h2v2h-2zM226 40h2v2h-2zM218 42h2v2h-2zM222 42h2v2h-2zM232 42h2v2h-2zM182 44h2v2h-2zM216 44h4v2h-4zM228 44h2v2h-2zM246 44h2v2h-2zM184 46h2v2h-2zM204 46h2v2h-2zM218 46h2v2h-2zM170 48h2v2h-2zM218 48h2v2h-2zM228 48h2v2h-2zM242 48h2v2h-2zM194 50h2v2h-2zM216 50h4v2h-4zM224 50h4v2h-4zM198 52h2v2h-2zM222 52h2v2h-2zM234 52h2v2h-2zM194 54h2v2h-2zM198 54h2v2h-2zM248 54h2v2h-2zM176 56h2v2h-2zM190 56h2v2h-2zM206 56h4v2h-4zM212 56h2v2h-2zM220 56h2v2h-2zM232 56h2v2h-2zM238 56h2v2h-2zM242 56h4v2h-4zM168 58h2v2h-2zM190 58h2v2h-2zM200 58h2v2h-2zM214 58h2v2h-2zM226 58h2v2h-2zM230 58h4v2h-4zM240 58h2v2h-2zM212 60h2v2h-2zM220 60h2v2h-2zM234 60h4v2h-4zM174 62h2v2h-2zM178 62h2v2h-2zM188 62h4v2h-4zM198 62h2v2h-2zM206 62h4v2h-4zM212 62h2v2h-2zM222 62h6v2h-6zM234 62h2v2h-2zM246 62h4v2h-4zM174 64h2v2h-2zM184 64h2v2h-2zM194 64h4v2h-4zM206 64h6v2h-6zM232 64h2v2h-2zM238 64h6v2h-6zM202 66h2v2h-2zM206 66h2v2h-2zM210 66h2v2h-2zM214 66h4v2h-4zM222 66h2v2h-2zM226 66h4v2h-4zM232 66h2v2h-2zM238 66h4v2h-4zM164 68h2v2h-2zM188 68h6v2h-6zM198 68h2v2h-2zM208 68h2v2h-2zM220 68h2v2h-2zM230 68h2v2h-2zM234 68h2v2h-2zM238 68h2v2h-2zM244 68h2v2h-2zM158 70h2v2h-2zM204 70h4v2h-4zM210 70h20v2h-20zM244 70h4v2h-4zM200 72h4v2h-4zM206 72h20v2h-20zM228 72h2v2h-2zM232 72h4v2h-4zM238 72h4v2h-4zM192 74h2v2h-2zM200 74h4v2h-4zM206 74h6v2h-6zM214 74h4v2h-4zM220 74h12v2h-12zM234 74h2v2h-2zM238 74h2v2h-2zM242 74h2v2h-2zM246 74h4v2h-4zM172 76h4v2h-4zM182 76h2v2h-2zM200 76h2v2h-2zM210 76h10v2h-10zM222 76h12v2h-12zM236 76h4v2h-4zM246 76h2v2h-2zM170 78h2v2h-2zM194 78h2v2h-2zM200 78h8v2h-8zM210 78h14v2h-14zM228 78h8v2h-8zM238 78h12v2h-12zM206 80h32v2h-32zM240 80h2v2h-2zM244 80h4v2h-4zM174 82h2v2h-2zM190 82h2v2h-2zM196 82h2v2h-2zM202 82h2v2h-2zM208 82h2v2h-2zM212 82h4v2h-4zM218 82h28v2h-28zM182 84h2v2h-2zM192 84h4v2h-4zM204 84h4v2h-4zM210 84h26v2h-26zM238 84h6v2h-6zM246 84h4v2h-4zM204 86h12v2h-12zM218 86h14v2h-14zM234 86h2v2h-2zM238 86h10v2h-10zM192 88h2v2h-2zM204 88h2v2h-2zM208 88h24v2h-24zM234 88h12v2h-12zM248 88h2v2h-2zM184 90h2v2h-2zM190 90h4v2h-4zM198 90h4v2h-4zM204 90h4v2h-4zM210 90h4v2h-4zM216 90h32v2h-32zM172 92h2v2h-2zM204 92h44v2h-44zM194 94h2v2h-2zM204 94h2v2h-2zM208 94h44v2h-44zM182 96h2v2h-2zM190 96h2v2h-2zM194 96h4v2h-4zM200 96h6v2h-6zM208 96h24v2h-24zM236 96h14v2h-14zM210 98h14v2h-14zM226 98h22v2h-22zM250 98h2v2h-2zM188 100h2v2h-2zM202 100h8v2h-8zM212 100h20v2h-20zM234 100h14v2h-14zM258 100h2v2h-2zM168 102h2v2h-2zM180 102h2v2h-2zM198 102h4v2h-4zM206 102h2v2h-2zM210 102h18v2h-18zM230 102h12v2h-12zM244 102h8v2h-8zM256 102h2v2h-2zM160 104h2v2h-2zM182 104h2v2h-2zM190 104h2v2h-2zM196 104h2v2h-2zM202 104h2v2h-2zM206 104h2v2h-2zM210 104h2v2h-2zM214 104h38v2h-38zM182 106h2v2h-2zM192 106h2v2h-2zM204 106h48v2h-48zM254 106h2v2h-2zM182 108h2v2h-2zM190 108h2v2h-2zM198 108h4v2h-4zM204 108h2v2h-2zM210 108h44v2h-44zM206 110h2v2h-2zM210 110h42v2h-42zM196 112h8v2h-8zM208 112h10v2h-10zM220 112h36v2h-36zM178 114h2v2h-2zM196 114h2v2h-2zM204 114h4v2h-4zM210 114h46v2h-46zM258 114h2v2h-2zM178 116h2v2h-2zM186 116h6v2h-6zM194 116h2v2h-2zM198 116h4v2h-4zM204 116h2v2h-2zM208 116h52v2h-52zM180 118h2v2h-2zM190 118h4v2h-4zM198 118h2v2h-2zM204 118h2v2h-2zM208 118h18v2h-18zM228 118h30v2h-30zM264 118h2v2h-2zM194 120h2v2h-2zM200 120h6v2h-6zM208 120h2v2h-2zM212 120h38v2h-38zM252 120h4v2h-4zM258 120h2v2h-2zM196 122h8v2h-8zM206 122h12v2h-12zM220 122h16v2h-16zM240 122h20v2h-20zM202 124h20v2h-20zM226 124h8v2h-8zM236 124h26v2h-26zM158 126h2v2h-2zM168 126h2v2h-2zM174 126h2v2h-2zM188 126h6v2h-6zM202 126h2v2h-2zM206 126h42v2h-42zM250 126h14v2h-14zM156 128h2v2h-2zM176 128h2v2h-2zM182 128h2v2h-2zM194 128h2v2h-2zM202 128h46v2h-46zM250 128h14v2h-14zM274 128h2v2h-2zM162 130h2v2h-2zM196 130h6v2h-6zM206 130h2v2h-2zM210 130h2v2h-2zM214 130h50v2h-50zM156 132h2v2h-2zM172 132h2v2h-2zM190 132h8v2h-8zM200 132h8v2h-8zM210 132h2v2h-2zM214 132h22v2h-22zM238 132h2v2h-2zM242 132h26v2h-26zM270 132h2v2h-2zM160 134h2v2h-2zM170 134h2v2h-2zM180 134h2v2h-2zM184 134h2v2h-2zM196 134h4v2h-4zM202 134h2v2h-2zM206 134h2v2h-2zM212 134h12v2h-12zM228 134h38v2h-38zM268 134h2v2h-2zM166 136h2v2h-2zM172 136h2v2h-2zM178 136h2v2h-2zM198 136h2v2h-2zM208 136h2v2h-2zM212 136h40v2h-40zM254 136h2v2h-2zM258 136h10v2h-10zM156 138h2v2h-2zM160 138h2v2h-2zM164 138h2v2h-2zM168 138h2v2h-2zM186 138h2v2h-2zM192 138h2v2h-2zM196 138h4v2h-4zM202 138h4v2h-4zM210 138h58v2h-58zM166 140h2v2h-2zM184 140h2v2h-2zM190 140h4v2h-4zM200 140h2v2h-2zM204 140h10v2h-10zM216 140h20v2h-20zM238 140h14v2h-14zM254 140h16v2h-16zM274 140h2v2h-2zM156 142h4v2h-4zM162 142h2v2h-2zM166 142h4v2h-4zM172 142h2v2h-2zM182 142h2v2h-2zM194 142h2v2h-2zM202 142h6v2h-6zM214 142h20v2h-20zM236 142h4v2h-4zM242 142h28v2h-28zM156 144h2v2h-2zM164 144h2v2h-2zM172 144h4v2h-4zM180 144h2v2h-2zM188 144h2v2h-2zM198 144h2v2h-2zM204 144h32v2h-32zM238 144h6v2h-6zM246 144h4v2h-4zM252 144h2v2h-2zM256 144h16v2h-16zM164 146h10v2h-10zM176 146h2v2h-2zM184 146h4v2h-4zM190 146h2v2h-2zM198 146h2v2h-2zM204 146h2v2h-2zM210 146h4v2h-4zM216 146h52v2h-52zM272 146h2v2h-2zM162 148h2v2h-2zM166 148h4v2h-4zM178 148h2v2h-2zM182 148h6v2h-6zM190 148h2v2h-2zM194 148h4v2h-4zM202 148h2v2h-2zM206 148h2v2h-2zM210 148h2v2h-2zM214 148h12v2h-12zM228 148h16v2h-16zM246 148h18v2h-18zM266 148h6v2h-6zM156 150h2v2h-2zM162 150h2v2h-2zM166 150h6v2h-6zM174 150h4v2h-4zM184 150h4v2h-4zM190 150h2v2h-2zM194 150h2v2h-2zM202 150h6v2h-6zM212 150h2v2h-2zM216 150h56v2h-56zM156 152h6v2h-6zM164 152h4v2h-4zM170 152h2v2h-2zM176 152h2v2h-2zM182 152h4v2h-4zM190 152h10v2h-10zM206 152h2v2h-2zM210 152h6v2h-6zM220 152h6v2h-6zM228 152h16v2h-16zM246 152h26v2h-26zM82 154h2v2h-2zM138 154h2v2h-2zM152 154h2v2h-2zM158 154h4v2h-4zM164 154h4v2h-4zM170 154h6v2h-6zM178 154h18v2h-18zM200 154h2v2h-2zM206 154h4v2h-4zM212 154h24v2h-24zM238 154h34v2h-34zM274 154h2v2h-2zM138 156h2v2h-2zM156 156h10v2h-10zM168 156h2v2h-2zM172 156h26v2h-26zM202 156h8v2h-8zM212 156h30v2h-30zM244 156h26v2h-26zM140 158h2v2h-2zM144 158h2v2h-2zM150 158h2v2h-2zM154 158h16v2h-16zM172 158h24v2h-24zM198 158h2v2h-2zM206 158h4v2h-4zM212 158h18v2h-18zM232 158h28v2h-28zM262 158h6v2h-6zM280 158h2v2h-2zM130 160h2v2h-2zM142 160h2v2h-2zM148 160h26v2h-26zM176 160h2v2h-2zM186 160h2v2h-2zM190 160h2v2h-2zM194 160h2v2h-2zM200 160h2v2h-2zM204 160h4v2h-4zM210 160h4v2h-4zM216 160h18v2h-18zM236 160h36v2h-36zM126 162h4v2h-4zM132 162h2v2h-2zM140 162h26v2h-26zM168 162h4v2h-4zM178 162h6v2h-6zM190 162h6v2h-6zM210 162h2v2h-2zM216 162h32v2h-32zM250 162h22v2h-22zM108 164h2v2h-2zM124 164h4v2h-4zM134 164h14v2h-14zM150 164h8v2h-8zM160 164h4v2h-4zM166 164h2v2h-2zM172 164h4v2h-4zM180 164h6v2h-6zM188 164h2v2h-2zM198 164h2v2h-2zM204 164h2v2h-2zM208 164h2v2h-2zM214 164h6v2h-6zM222 164h32v2h-32zM256 164h16v2h-16zM76 166h2v2h-2zM84 166h4v2h-4zM92 166h2v2h-2zM102 166h2v2h-2zM108 166h2v2h-2zM118 166h2v2h-2zM122 166h6v2h-6zM132 166h10v2h-10zM144 166h28v2h-28zM174 166h2v2h-2zM178 166h2v2h-2zM182 166h4v2h-4zM192 166h8v2h-8zM202 166h2v2h-2zM216 166h34v2h-34zM252 166h4v2h-4zM258 166h16v2h-16zM88 168h2v2h-2zM94 168h4v2h-4zM100 168h2v2h-2zM108 168h4v2h-4zM114 168h2v2h-2zM118 168h2v2h-2zM122 168h32v2h-32zM156 168h8v2h-8zM166 168h20v2h-20zM190 168h8v2h-8zM200 168h2v2h-2zM210 168h2v2h-2zM214 168h28v2h-28zM244 168h6v2h-6zM252 168h6v2h-6zM260 168h10v2h-10zM272 168h2v2h-2zM60 170h2v2h-2zM68 170h2v2h-2zM90 170h2v2h-2zM98 170h2v2h-2zM108 170h2v2h-2zM112 170h2v2h-2zM116 170h2v2h-2zM120 170h38v2h-38zM160 170h10v2h-10zM178 170h6v2h-6zM186 170h6v2h-6zM196 170h2v2h-2zM208 170h4v2h-4zM214 170h22v2h-22zM238 170h26v2h-26zM266 170h4v2h-4zM272 170h2v2h-2zM276 170h2v2h-2zM56 172h2v2h-2zM70 172h2v2h-2zM80 172h4v2h-4zM92 172h2v2h-2zM96 172h32v2h-32zM130 172h10v2h-10zM142 172h28v2h-28zM172 172h6v2h-6zM180 172h12v2h-12zM196 172h8v2h-8zM216 172h32v2h-32zM252 172h18v2h-18zM274 172h2v2h-2zM72 174h2v2h-2zM78 174h18v2h-18zM98 174h14v2h-14zM114 174h40v2h-40zM156 174h38v2h-38zM196 174h6v2h-6zM204 174h6v2h-6zM212 174h58v2h-58zM272 174h2v2h-2zM60 176h48v2h-48zM110 176h44v2h-44zM156 176h42v2h-42zM206 176h2v2h-2zM212 176h6v2h-6zM220 176h22v2h-22zM244 176h20v2h-20zM266 176h4v2h-4zM58 178h4v2h-4zM66 178h14v2h-14zM82 178h6v2h-6zM90 178h6v2h-6zM98 178h14v2h-14zM116 178h30v2h-30zM148 178h48v2h-48zM198 178h4v2h-4zM204 178h2v2h-2zM208 178h40v2h-40zM252 178h18v2h-18zM56 180h2v2h-2zM60 180h2v2h-2zM64 180h4v2h-4zM70 180h2v2h-2zM78 180h4v2h-4zM86 180h2v2h-2zM90 180h4v2h-4zM96 180h2v2h-2zM104 180h2v2h-2zM112 180h2v2h-2zM118 180h2v2h-2zM122 180h4v2h-4zM128 180h2v2h-2zM142 180h4v2h-4zM156 180h2v2h-2zM162 180h4v2h-4zM168 180h4v2h-4zM174 180h14v2h-14zM214 180h2v2h-2zM218 180h2v2h-2zM228 180h2v2h-2zM232 180h2v2h-2zM238 180h4v2h-4zM258 180h2v2h-2zM264 180h2v2h-2zM280 180h2v2h-2z"/><linearGradient id="vg3" x1="0" x2="1" y1="0" y2="0"><stop offset="0.00" stop-color="#b8de29"/><stop offset="0.15" stop-color="#5ec962"/><stop offset="0.35" stop-color="#21a585"/><stop offset="0.55" stop-color="#23898e"/><stop offset="0.70" stop-color="#5ec962"/><stop offset="0.85" stop-color="#23898e"/><stop offset="1.00" stop-color="#46307e"/></linearGradient><path fill="url(#vg3)" d="M57.8 181.2L57.8 178.2L123.6 175.9L189.4 175.2L189.4 181.2z"/></g>
<line x1="1536.6" y1="226.2" x2="1536.6" y2="44.9" stroke="#1E9A7E" stroke-width="2.9" stroke-opacity="0.9"/>
<line x1="1344.4" y1="199.4" x2="1694.6" y2="199.4" stroke="#1E9A7E" stroke-width="2.9" stroke-opacity="0.9"/>
<text x="1519.1" y="67" font-size="19.8" text-anchor="end" fill="#4FAE93" color="#4FAE93">2904</text>
<text x="1401.4" y="192.4" font-size="19.8" fill="#4FAE93" color="#4FAE93">10.2</text>
<path d="M1344.4 44.9V226.2H1694.6" fill="none" stroke="#3a3a3a" stroke-width="2"/>
<line x1="1338.8" y1="226.2" x2="1344.4" y2="226.2" stroke="#3a3a3a" stroke-width="2"/>
<text x="1332.1" y="232.2" font-size="16.5" text-anchor="end">0</text>
<line x1="1338.8" y1="174.4" x2="1344.4" y2="174.4" stroke="#3a3a3a" stroke-width="2"/>
<text x="1332.1" y="180.4" font-size="16.5" text-anchor="end">20</text>
<line x1="1338.8" y1="122.6" x2="1344.4" y2="122.6" stroke="#3a3a3a" stroke-width="2"/>
<text x="1332.1" y="128.6" font-size="16.5" text-anchor="end">40</text>
<line x1="1338.8" y1="70.8" x2="1344.4" y2="70.8" stroke="#3a3a3a" stroke-width="2"/>
<text x="1332.1" y="76.8" font-size="16.5" text-anchor="end">60</text>
<line x1="1344.4" y1="226.2" x2="1344.4" y2="231.8" stroke="#3a3a3a" stroke-width="2"/>
<text x="1345.4" y="250.6" font-size="16.5" text-anchor="middle">10<tspan font-size="12" dy="-6.5">0</tspan></text>
<line x1="1455.4" y1="226.2" x2="1455.4" y2="231.8" stroke="#3a3a3a" stroke-width="2"/>
<text x="1456.4" y="250.6" font-size="16.5" text-anchor="middle">10<tspan font-size="12" dy="-6.5">2</tspan></text>
<line x1="1566.4" y1="226.2" x2="1566.4" y2="231.8" stroke="#3a3a3a" stroke-width="2"/>
<text x="1567.4" y="250.6" font-size="16.5" text-anchor="middle">10<tspan font-size="12" dy="-6.5">4</tspan></text>
<line x1="1677.4" y1="226.2" x2="1677.4" y2="231.8" stroke="#3a3a3a" stroke-width="2"/>
<text x="1678.4" y="250.6" font-size="16.5" text-anchor="middle">10<tspan font-size="12" dy="-6.5">6</tspan></text>
<text x="1519.5" y="273.2" font-size="16.5" text-anchor="middle">Unique number of fragments</text>
<text transform="translate(1301.1 135.6) rotate(-90)" font-size="16.5" text-anchor="middle">TSS enrichment</text>
<text x="1519.5" y="35.1" font-size="19.8" text-anchor="middle">10x v2 (Chromium X)</text>
<g transform="translate(1768 45)"><path fill="#341a5c" d="M186 6h2v2h-2zM228 6h2v2h-2zM224 8h4v2h-4zM212 10h2v2h-2zM224 10h2v2h-2zM198 12h2v2h-2zM200 14h2v2h-2zM186 16h2v2h-2zM206 16h2v2h-2zM194 18h2v2h-2zM206 18h2v2h-2zM216 22h2v2h-2zM198 26h2v2h-2zM200 28h2v2h-2zM206 28h2v2h-2zM220 28h2v2h-2zM194 30h2v2h-2zM202 30h6v2h-6zM226 30h2v2h-2zM190 38h2v2h-2zM194 42h2v2h-2zM204 42h2v2h-2zM208 42h2v2h-2zM218 42h2v2h-2zM222 46h2v2h-2zM188 48h4v2h-4zM224 48h2v2h-2zM212 50h2v2h-2zM224 50h2v2h-2zM228 50h2v2h-2zM186 52h2v2h-2zM204 52h2v2h-2zM210 52h4v2h-4zM228 52h2v2h-2zM206 54h4v2h-4zM220 54h2v2h-2zM208 56h6v2h-6zM224 56h2v2h-2zM202 58h2v2h-2zM208 58h4v2h-4zM214 58h6v2h-6zM222 58h2v2h-2zM200 60h2v2h-2zM206 60h2v2h-2zM210 60h4v2h-4zM216 60h10v2h-10zM232 60h2v2h-2zM192 62h2v2h-2zM202 62h6v2h-6zM210 62h14v2h-14zM196 64h2v2h-2zM200 64h4v2h-4zM208 64h16v2h-16zM226 64h2v2h-2zM230 64h2v2h-2zM198 66h2v2h-2zM202 66h4v2h-4zM208 66h10v2h-10zM222 66h4v2h-4zM192 68h2v2h-2zM196 68h2v2h-2zM200 68h4v2h-4zM206 68h22v2h-22zM194 70h2v2h-2zM198 70h22v2h-22zM222 70h6v2h-6zM230 70h4v2h-4zM194 72h2v2h-2zM198 72h4v2h-4zM204 72h6v2h-6zM212 72h12v2h-12zM226 72h10v2h-10zM194 74h2v2h-2zM198 74h38v2h-38zM188 76h2v2h-2zM192 76h48v2h-48zM244 76h2v2h-2zM188 78h2v2h-2zM192 78h6v2h-6zM200 78h40v2h-40zM184 80h2v2h-2zM188 80h20v2h-20zM210 80h2v2h-2zM214 80h30v2h-30zM246 80h2v2h-2zM178 82h4v2h-4zM188 82h2v2h-2zM194 82h46v2h-46zM242 82h2v2h-2zM248 82h2v2h-2zM190 84h6v2h-6zM198 84h48v2h-48zM186 86h10v2h-10zM198 86h50v2h-50zM250 86h2v2h-2zM188 88h2v2h-2zM192 88h2v2h-2zM196 88h16v2h-16zM214 88h18v2h-18zM234 88h10v2h-10zM248 88h2v2h-2zM254 88h2v2h-2zM188 90h2v2h-2zM194 90h14v2h-14zM210 90h2v2h-2zM214 90h6v2h-6zM222 90h4v2h-4zM228 90h10v2h-10zM240 90h8v2h-8zM250 90h2v2h-2zM258 90h2v2h-2zM184 92h2v2h-2zM188 92h2v2h-2zM192 92h12v2h-12zM206 92h36v2h-36zM250 92h4v2h-4zM256 92h2v2h-2zM180 94h2v2h-2zM184 94h2v2h-2zM188 94h2v2h-2zM192 94h62v2h-62zM256 94h2v2h-2zM182 96h2v2h-2zM186 96h6v2h-6zM194 96h48v2h-48zM244 96h4v2h-4zM250 96h4v2h-4zM264 96h2v2h-2zM188 98h2v2h-2zM194 98h42v2h-42zM240 98h4v2h-4zM246 98h2v2h-2zM250 98h2v2h-2zM254 98h2v2h-2zM258 98h4v2h-4zM174 100h2v2h-2zM184 100h2v2h-2zM188 100h56v2h-56zM246 100h14v2h-14zM182 102h4v2h-4zM188 102h2v2h-2zM192 102h18v2h-18zM212 102h2v2h-2zM216 102h32v2h-32zM250 102h10v2h-10zM184 104h4v2h-4zM190 104h68v2h-68zM184 106h26v2h-26zM212 106h2v2h-2zM216 106h36v2h-36zM254 106h4v2h-4zM184 108h20v2h-20zM206 108h20v2h-20zM228 108h18v2h-18zM248 108h2v2h-2zM252 108h8v2h-8zM264 108h2v2h-2zM184 110h66v2h-66zM252 110h6v2h-6zM260 110h6v2h-6zM182 112h10v2h-10zM194 112h2v2h-2zM198 112h58v2h-58zM258 112h12v2h-12zM174 114h2v2h-2zM178 114h10v2h-10zM190 114h4v2h-4zM196 114h6v2h-6zM204 114h2v2h-2zM210 114h6v2h-6zM218 114h14v2h-14zM234 114h12v2h-12zM248 114h14v2h-14zM264 114h6v2h-6zM272 114h2v2h-2zM182 116h48v2h-48zM232 116h24v2h-24zM260 116h2v2h-2zM266 116h8v2h-8zM290 116h2v2h-2zM176 118h2v2h-2zM188 118h20v2h-20zM210 118h48v2h-48zM260 118h4v2h-4zM266 118h10v2h-10zM278 118h4v2h-4zM298 118h2v2h-2zM176 120h2v2h-2zM184 120h6v2h-6zM192 120h6v2h-6zM200 120h8v2h-8zM210 120h64v2h-64zM172 122h4v2h-4zM184 122h4v2h-4zM190 122h12v2h-12zM204 122h8v2h-8zM214 122h8v2h-8zM224 122h12v2h-12zM238 122h8v2h-8zM248 122h14v2h-14zM264 122h16v2h-16zM300 122h2v2h-2zM158 124h2v2h-2zM164 124h2v2h-2zM168 124h8v2h-8zM178 124h4v2h-4zM184 124h4v2h-4zM190 124h4v2h-4zM196 124h14v2h-14zM212 124h4v2h-4zM218 124h24v2h-24zM244 124h2v2h-2zM248 124h6v2h-6zM256 124h16v2h-16zM274 124h4v2h-4zM166 126h2v2h-2zM172 126h2v2h-2zM176 126h4v2h-4zM182 126h2v2h-2zM186 126h8v2h-8zM196 126h10v2h-10zM208 126h34v2h-34zM244 126h38v2h-38zM170 128h6v2h-6zM178 128h6v2h-6zM186 128h12v2h-12zM202 128h4v2h-4zM208 128h8v2h-8zM218 128h62v2h-62zM152 130h2v2h-2zM162 130h2v2h-2zM168 130h2v2h-2zM174 130h4v2h-4zM180 130h4v2h-4zM186 130h6v2h-6zM204 130h12v2h-12zM218 130h16v2h-16zM236 130h44v2h-44zM294 130h2v2h-2zM164 132h2v2h-2zM170 132h2v2h-2zM174 132h4v2h-4zM182 132h2v2h-2zM202 132h4v2h-4zM218 132h4v2h-4zM224 132h2v2h-2zM228 132h4v2h-4zM234 132h36v2h-36zM272 132h6v2h-6zM156 134h2v2h-2zM162 134h2v2h-2zM166 134h6v2h-6zM174 134h8v2h-8zM184 134h2v2h-2zM192 134h2v2h-2zM198 134h2v2h-2zM206 134h2v2h-2zM212 134h6v2h-6zM220 134h4v2h-4zM226 134h2v2h-2zM232 134h18v2h-18zM254 134h10v2h-10zM266 134h2v2h-2zM270 134h8v2h-8zM164 136h12v2h-12zM178 136h4v2h-4zM220 136h2v2h-2zM228 136h12v2h-12zM242 136h12v2h-12zM256 136h18v2h-18zM276 136h2v2h-2zM162 138h12v2h-12zM176 138h6v2h-6zM184 138h2v2h-2zM214 138h2v2h-2zM218 138h2v2h-2zM224 138h2v2h-2zM238 138h4v2h-4zM248 138h2v2h-2zM254 138h2v2h-2zM258 138h8v2h-8zM270 138h2v2h-2zM160 140h2v2h-2zM166 140h4v2h-4zM172 140h6v2h-6zM180 140h2v2h-2zM216 140h2v2h-2zM220 140h2v2h-2zM226 140h2v2h-2zM242 140h4v2h-4zM248 140h4v2h-4zM256 140h4v2h-4zM264 140h2v2h-2zM268 140h6v2h-6zM156 142h2v2h-2zM160 142h8v2h-8zM170 142h4v2h-4zM176 142h4v2h-4zM184 142h2v2h-2zM228 142h2v2h-2zM236 142h2v2h-2zM240 142h4v2h-4zM250 142h14v2h-14zM274 142h2v2h-2zM160 144h6v2h-6zM170 144h2v2h-2zM176 144h2v2h-2zM180 144h6v2h-6zM252 144h4v2h-4zM266 144h2v2h-2zM276 144h2v2h-2zM158 146h18v2h-18zM180 146h2v2h-2zM254 146h2v2h-2zM264 146h2v2h-2zM270 146h2v2h-2zM274 146h2v2h-2zM152 148h2v2h-2zM158 148h8v2h-8zM170 148h6v2h-6zM178 148h2v2h-2zM246 148h2v2h-2zM252 148h6v2h-6zM272 148h2v2h-2zM142 150h2v2h-2zM148 150h2v2h-2zM152 150h2v2h-2zM158 150h14v2h-14zM174 150h4v2h-4zM182 150h2v2h-2zM250 150h2v2h-2zM262 150h2v2h-2zM142 152h2v2h-2zM148 152h4v2h-4zM154 152h2v2h-2zM158 152h16v2h-16zM178 152h4v2h-4zM204 152h2v2h-2zM240 152h4v2h-4zM248 152h4v2h-4zM264 152h4v2h-4zM272 152h4v2h-4zM144 154h2v2h-2zM148 154h20v2h-20zM174 154h2v2h-2zM178 154h4v2h-4zM194 154h2v2h-2zM242 154h2v2h-2zM250 154h6v2h-6zM276 154h2v2h-2zM136 156h2v2h-2zM140 156h2v2h-2zM144 156h6v2h-6zM154 156h6v2h-6zM162 156h6v2h-6zM172 156h6v2h-6zM210 156h2v2h-2zM134 158h4v2h-4zM140 158h2v2h-2zM146 158h10v2h-10zM158 158h6v2h-6zM166 158h4v2h-4zM172 158h2v2h-2zM182 158h2v2h-2zM186 158h2v2h-2zM216 158h2v2h-2zM126 160h4v2h-4zM136 160h4v2h-4zM142 160h6v2h-6zM152 160h4v2h-4zM158 160h2v2h-2zM162 160h12v2h-12zM226 160h4v2h-4zM114 162h2v2h-2zM118 162h2v2h-2zM124 162h4v2h-4zM130 162h2v2h-2zM134 162h2v2h-2zM138 162h2v2h-2zM144 162h4v2h-4zM150 162h8v2h-8zM170 162h2v2h-2zM182 162h2v2h-2zM198 162h2v2h-2zM202 162h2v2h-2zM226 162h2v2h-2zM130 164h6v2h-6zM142 164h10v2h-10zM154 164h6v2h-6zM164 164h2v2h-2zM176 164h2v2h-2zM194 164h2v2h-2zM216 164h2v2h-2zM232 164h2v2h-2zM240 164h2v2h-2zM80 166h2v2h-2zM102 166h2v2h-2zM114 166h2v2h-2zM120 166h10v2h-10zM132 166h8v2h-8zM142 166h2v2h-2zM148 166h12v2h-12zM176 166h2v2h-2zM226 166h2v2h-2zM100 168h2v2h-2zM110 168h8v2h-8zM122 168h4v2h-4zM130 168h2v2h-2zM134 168h12v2h-12zM148 168h18v2h-18zM70 170h2v2h-2zM94 170h2v2h-2zM110 170h22v2h-22zM136 170h24v2h-24zM164 170h2v2h-2zM206 170h2v2h-2zM250 170h2v2h-2zM50 172h2v2h-2zM62 172h4v2h-4zM84 172h2v2h-2zM92 172h8v2h-8zM104 172h16v2h-16zM122 172h2v2h-2zM126 172h24v2h-24zM154 172h2v2h-2zM158 172h4v2h-4zM234 172h2v2h-2zM54 174h2v2h-2zM62 174h4v2h-4zM72 174h2v2h-2zM78 174h6v2h-6zM94 174h2v2h-2zM102 174h2v2h-2zM106 174h4v2h-4zM112 174h10v2h-10zM124 174h6v2h-6zM134 174h2v2h-2zM138 174h4v2h-4zM144 174h6v2h-6zM154 174h2v2h-2zM158 174h2v2h-2zM166 174h2v2h-2zM174 174h2v2h-2zM226 174h2v2h-2zM60 176h4v2h-4zM66 176h10v2h-10zM80 176h2v2h-2zM86 176h2v2h-2zM92 176h8v2h-8zM102 176h6v2h-6zM110 176h2v2h-2zM114 176h2v2h-2zM118 176h4v2h-4zM124 176h4v2h-4zM130 176h4v2h-4zM138 176h16v2h-16zM206 176h2v2h-2zM60 178h2v2h-2zM66 178h4v2h-4zM74 178h2v2h-2zM84 178h6v2h-6zM92 178h8v2h-8zM102 178h8v2h-8zM116 178h4v2h-4zM122 178h4v2h-4zM140 178h4v2h-4zM150 178h4v2h-4zM158 178h4v2h-4zM164 178h2v2h-2zM52 180h2v2h-2zM68 180h2v2h-2zM72 180h2v2h-2zM76 180h4v2h-4zM86 180h4v2h-4zM96 180h2v2h-2zM102 180h2v2h-2zM128 180h6v2h-6zM142 180h2v2h-2zM146 180h2v2h-2zM150 180h8v2h-8z"/><linearGradient id="vg4" x1="0" x2="1" y1="0" y2="0"><stop offset="0.00" stop-color="#b8de29"/><stop offset="0.30" stop-color="#21a585"/><stop offset="0.60" stop-color="#2d6f8e"/><stop offset="1.00" stop-color="#46307e"/></linearGradient><path fill="url(#vg4)" d="M55.8 181.2L55.8 178.2L89.7 175.9L123.6 175.2L123.6 181.2z"/></g>
<line x1="1949.2" y1="226.2" x2="1949.2" y2="44.9" stroke="#DB4A92" stroke-width="2.9" stroke-opacity="0.9"/>
<line x1="1767.7" y1="189.2" x2="2117.9" y2="189.2" stroke="#DB4A92" stroke-width="2.9" stroke-opacity="0.9"/>
<text x="1931.7" y="67" font-size="19.8" text-anchor="end" fill="#E27AAE" color="#E27AAE">1841</text>
<text x="1824.7" y="182.2" font-size="19.8" fill="#E27AAE" color="#E27AAE">14.0</text>
<path d="M1767.7 44.9V226.2H2117.9" fill="none" stroke="#3a3a3a" stroke-width="2"/>
<line x1="1762.1" y1="226.2" x2="1767.7" y2="226.2" stroke="#3a3a3a" stroke-width="2"/>
<text x="1755.4" y="232.2" font-size="16.5" text-anchor="end">0</text>
<line x1="1762.1" y1="174.4" x2="1767.7" y2="174.4" stroke="#3a3a3a" stroke-width="2"/>
<text x="1755.4" y="180.4" font-size="16.5" text-anchor="end">20</text>
<line x1="1762.1" y1="122.6" x2="1767.7" y2="122.6" stroke="#3a3a3a" stroke-width="2"/>
<text x="1755.4" y="128.6" font-size="16.5" text-anchor="end">40</text>
<line x1="1762.1" y1="70.8" x2="1767.7" y2="70.8" stroke="#3a3a3a" stroke-width="2"/>
<text x="1755.4" y="76.8" font-size="16.5" text-anchor="end">60</text>
<line x1="1767.7" y1="226.2" x2="1767.7" y2="231.8" stroke="#3a3a3a" stroke-width="2"/>
<text x="1768.7" y="250.6" font-size="16.5" text-anchor="middle">10<tspan font-size="12" dy="-6.5">0</tspan></text>
<line x1="1878.7" y1="226.2" x2="1878.7" y2="231.8" stroke="#3a3a3a" stroke-width="2"/>
<text x="1879.7" y="250.6" font-size="16.5" text-anchor="middle">10<tspan font-size="12" dy="-6.5">2</tspan></text>
<line x1="1989.7" y1="226.2" x2="1989.7" y2="231.8" stroke="#3a3a3a" stroke-width="2"/>
<text x="1990.7" y="250.6" font-size="16.5" text-anchor="middle">10<tspan font-size="12" dy="-6.5">4</tspan></text>
<line x1="2100.7" y1="226.2" x2="2100.7" y2="231.8" stroke="#3a3a3a" stroke-width="2"/>
<text x="2101.7" y="250.6" font-size="16.5" text-anchor="middle">10<tspan font-size="12" dy="-6.5">6</tspan></text>
<text x="1942.8" y="273.2" font-size="16.5" text-anchor="middle">Unique number of fragments</text>
<text transform="translate(1724.4 135.6) rotate(-90)" font-size="16.5" text-anchor="middle">TSS enrichment</text>
<text x="1942.8" y="35.1" font-size="19.8" text-anchor="middle">10x Multiome</text>
<g transform="translate(75 328)"><path fill="#341a5c" d="M200 46h2v2h-2zM196 50h2v2h-2zM192 56h2v2h-2zM198 56h2v2h-2zM198 60h2v2h-2zM190 64h4v2h-4zM188 66h4v2h-4zM198 66h4v2h-4zM188 68h8v2h-8zM182 70h2v2h-2zM186 70h12v2h-12zM186 72h14v2h-14zM184 74h18v2h-18zM184 76h18v2h-18zM186 78h8v2h-8zM196 78h10v2h-10zM180 80h26v2h-26zM214 80h2v2h-2zM180 82h30v2h-30zM180 84h10v2h-10zM192 84h4v2h-4zM198 84h12v2h-12zM178 86h4v2h-4zM184 86h10v2h-10zM196 86h14v2h-14zM212 86h2v2h-2zM168 88h2v2h-2zM180 88h4v2h-4zM186 88h26v2h-26zM178 90h34v2h-34zM216 90h2v2h-2zM178 92h32v2h-32zM214 92h2v2h-2zM164 94h2v2h-2zM178 94h6v2h-6zM186 94h32v2h-32zM174 96h8v2h-8zM184 96h32v2h-32zM176 98h4v2h-4zM182 98h26v2h-26zM210 98h8v2h-8zM220 98h2v2h-2zM170 100h2v2h-2zM174 100h46v2h-46zM162 102h2v2h-2zM172 102h10v2h-10zM184 102h22v2h-22zM208 102h14v2h-14zM232 102h2v2h-2zM168 104h4v2h-4zM174 104h50v2h-50zM234 104h2v2h-2zM172 106h4v2h-4zM178 106h40v2h-40zM220 106h6v2h-6zM228 106h2v2h-2zM168 108h6v2h-6zM176 108h10v2h-10zM188 108h8v2h-8zM198 108h32v2h-32zM166 110h2v2h-2zM170 110h60v2h-60zM234 110h2v2h-2zM162 112h4v2h-4zM168 112h66v2h-66zM166 114h68v2h-68zM242 114h2v2h-2zM168 116h4v2h-4zM174 116h18v2h-18zM194 116h2v2h-2zM198 116h38v2h-38zM156 118h2v2h-2zM162 118h18v2h-18zM182 118h2v2h-2zM186 118h36v2h-36zM224 118h18v2h-18zM160 120h2v2h-2zM164 120h70v2h-70zM236 120h4v2h-4zM244 120h2v2h-2zM166 122h46v2h-46zM214 122h28v2h-28zM154 124h4v2h-4zM160 124h14v2h-14zM176 124h18v2h-18zM196 124h50v2h-50zM156 126h2v2h-2zM160 126h38v2h-38zM200 126h50v2h-50zM150 128h2v2h-2zM158 128h80v2h-80zM240 128h10v2h-10zM158 130h74v2h-74zM234 130h4v2h-4zM240 130h12v2h-12zM258 130h2v2h-2zM144 132h2v2h-2zM152 132h8v2h-8zM162 132h12v2h-12zM176 132h76v2h-76zM260 132h4v2h-4zM148 134h4v2h-4zM154 134h22v2h-22zM178 134h78v2h-78zM148 136h70v2h-70zM220 136h14v2h-14zM236 136h18v2h-18zM270 136h2v2h-2zM142 138h2v2h-2zM148 138h2v2h-2zM152 138h106v2h-106zM150 140h2v2h-2zM156 140h10v2h-10zM168 140h10v2h-10zM180 140h30v2h-30zM214 140h8v2h-8zM224 140h32v2h-32zM258 140h4v2h-4zM266 140h2v2h-2zM148 142h64v2h-64zM214 142h8v2h-8zM224 142h8v2h-8zM234 142h26v2h-26zM262 142h2v2h-2zM268 142h2v2h-2zM146 144h2v2h-2zM150 144h4v2h-4zM156 144h8v2h-8zM166 144h34v2h-34zM202 144h48v2h-48zM252 144h8v2h-8zM262 144h4v2h-4zM142 146h2v2h-2zM146 146h24v2h-24zM172 146h90v2h-90zM132 148h2v2h-2zM144 148h2v2h-2zM148 148h2v2h-2zM152 148h18v2h-18zM172 148h22v2h-22zM196 148h56v2h-56zM254 148h6v2h-6zM262 148h2v2h-2zM142 150h54v2h-54zM198 150h14v2h-14zM214 150h48v2h-48zM134 152h2v2h-2zM142 152h20v2h-20zM164 152h98v2h-98zM144 154h28v2h-28zM174 154h4v2h-4zM180 154h6v2h-6zM188 154h36v2h-36zM226 154h36v2h-36zM130 156h22v2h-22zM154 156h18v2h-18zM176 156h18v2h-18zM196 156h58v2h-58zM256 156h6v2h-6zM268 156h2v2h-2zM126 158h44v2h-44zM174 158h2v2h-2zM178 158h16v2h-16zM200 158h14v2h-14zM216 158h20v2h-20zM240 158h26v2h-26zM100 160h2v2h-2zM118 160h4v2h-4zM130 160h14v2h-14zM146 160h26v2h-26zM178 160h4v2h-4zM188 160h6v2h-6zM200 160h2v2h-2zM208 160h2v2h-2zM212 160h4v2h-4zM218 160h2v2h-2zM222 160h4v2h-4zM230 160h4v2h-4zM236 160h6v2h-6zM244 160h6v2h-6zM258 160h4v2h-4zM270 160h2v2h-2zM108 162h2v2h-2zM120 162h2v2h-2zM126 162h12v2h-12zM140 162h32v2h-32zM174 162h4v2h-4zM180 162h2v2h-2zM184 162h2v2h-2zM194 162h4v2h-4zM200 162h2v2h-2zM208 162h4v2h-4zM214 162h4v2h-4zM220 162h4v2h-4zM230 162h8v2h-8zM250 162h4v2h-4zM256 162h2v2h-2zM102 164h2v2h-2zM114 164h2v2h-2zM120 164h20v2h-20zM142 164h40v2h-40zM186 164h2v2h-2zM190 164h2v2h-2zM196 164h4v2h-4zM204 164h2v2h-2zM210 164h2v2h-2zM218 164h4v2h-4zM226 164h2v2h-2zM230 164h2v2h-2zM238 164h2v2h-2zM244 164h2v2h-2zM248 164h2v2h-2zM262 164h2v2h-2zM76 166h4v2h-4zM110 166h62v2h-62zM184 166h2v2h-2zM196 166h2v2h-2zM204 166h2v2h-2zM238 166h2v2h-2zM256 166h4v2h-4zM90 168h2v2h-2zM100 168h2v2h-2zM108 168h2v2h-2zM114 168h50v2h-50zM186 168h2v2h-2zM190 168h2v2h-2zM242 168h4v2h-4zM254 168h4v2h-4zM260 168h2v2h-2zM86 170h2v2h-2zM92 170h4v2h-4zM100 170h68v2h-68zM206 170h2v2h-2zM218 170h2v2h-2zM226 170h4v2h-4zM264 170h2v2h-2zM68 172h2v2h-2zM74 172h4v2h-4zM80 172h2v2h-2zM88 172h2v2h-2zM92 172h32v2h-32zM126 172h4v2h-4zM132 172h2v2h-2zM136 172h28v2h-28zM172 172h2v2h-2zM182 172h2v2h-2zM188 172h4v2h-4zM230 172h2v2h-2zM252 172h4v2h-4zM62 174h2v2h-2zM68 174h2v2h-2zM72 174h4v2h-4zM78 174h16v2h-16zM96 174h2v2h-2zM100 174h16v2h-16zM118 174h38v2h-38zM158 174h4v2h-4zM174 174h2v2h-2zM178 174h2v2h-2zM190 174h2v2h-2zM236 174h4v2h-4zM250 174h2v2h-2zM52 176h2v2h-2zM56 176h2v2h-2zM60 176h64v2h-64zM126 176h2v2h-2zM130 176h32v2h-32zM164 176h2v2h-2zM188 176h2v2h-2zM202 176h6v2h-6zM210 176h2v2h-2zM224 176h2v2h-2zM238 176h2v2h-2zM246 176h4v2h-4zM58 178h46v2h-46zM106 178h18v2h-18zM126 178h2v2h-2zM130 178h10v2h-10zM144 178h6v2h-6zM152 178h6v2h-6zM162 178h4v2h-4zM168 178h2v2h-2zM208 178h2v2h-2zM236 178h2v2h-2zM52 180h2v2h-2zM60 180h2v2h-2zM64 180h4v2h-4zM70 180h4v2h-4zM78 180h2v2h-2zM82 180h4v2h-4zM94 180h6v2h-6zM104 180h2v2h-2zM114 180h2v2h-2zM118 180h2v2h-2zM130 180h4v2h-4zM136 180h2v2h-2zM140 180h2v2h-2zM146 180h4v2h-4zM152 180h6v2h-6zM160 180h4v2h-4z"/><linearGradient id="vg5" x1="0" x2="1" y1="0" y2="0"><stop offset="0.00" stop-color="#2a6f8e"/><stop offset="0.25" stop-color="#22a384"/><stop offset="0.45" stop-color="#b5dd2b"/><stop offset="0.60" stop-color="#6ccd5a"/><stop offset="0.75" stop-color="#1f9a8a"/><stop offset="0.90" stop-color="#3b528b"/><stop offset="1.00" stop-color="#3f2373"/></linearGradient><path fill="url(#vg5)" d="M57.8 180.5L57.8 178.0L92.7 175.2L127.6 174.0L127.6 180.5z"/></g>
<line x1="269.2" y1="508.5" x2="269.2" y2="327.2" stroke="#DDAA40" stroke-width="2.9" stroke-opacity="0.9"/>
<line x1="74.6" y1="486.2" x2="424.8" y2="486.2" stroke="#DDAA40" stroke-width="2.9" stroke-opacity="0.9"/>
<text x="251.7" y="349.3" font-size="19.8" text-anchor="end" fill="#E2C070" color="#E2C070">3194</text>
<text x="131.6" y="479.2" font-size="19.8" fill="#E2C070" color="#E2C070">8.5</text>
<path d="M74.6 327.2V508.5H424.8" fill="none" stroke="#3a3a3a" stroke-width="2"/>
<line x1="69" y1="508.5" x2="74.6" y2="508.5" stroke="#3a3a3a" stroke-width="2"/>
<text x="62.3" y="514.5" font-size="16.5" text-anchor="end">0</text>
<line x1="69" y1="456.7" x2="74.6" y2="456.7" stroke="#3a3a3a" stroke-width="2"/>
<text x="62.3" y="462.7" font-size="16.5" text-anchor="end">20</text>
<line x1="69" y1="404.9" x2="74.6" y2="404.9" stroke="#3a3a3a" stroke-width="2"/>
<text x="62.3" y="410.9" font-size="16.5" text-anchor="end">40</text>
<line x1="69" y1="353.1" x2="74.6" y2="353.1" stroke="#3a3a3a" stroke-width="2"/>
<text x="62.3" y="359.1" font-size="16.5" text-anchor="end">60</text>
<line x1="74.6" y1="508.5" x2="74.6" y2="514.1" stroke="#3a3a3a" stroke-width="2"/>
<text x="75.6" y="532.9" font-size="16.5" text-anchor="middle">10<tspan font-size="12" dy="-6.5">0</tspan></text>
<line x1="185.6" y1="508.5" x2="185.6" y2="514.1" stroke="#3a3a3a" stroke-width="2"/>
<text x="186.6" y="532.9" font-size="16.5" text-anchor="middle">10<tspan font-size="12" dy="-6.5">2</tspan></text>
<line x1="296.6" y1="508.5" x2="296.6" y2="514.1" stroke="#3a3a3a" stroke-width="2"/>
<text x="297.6" y="532.9" font-size="16.5" text-anchor="middle">10<tspan font-size="12" dy="-6.5">4</tspan></text>
<line x1="407.6" y1="508.5" x2="407.6" y2="514.1" stroke="#3a3a3a" stroke-width="2"/>
<text x="408.6" y="532.9" font-size="16.5" text-anchor="middle">10<tspan font-size="12" dy="-6.5">6</tspan></text>
<text x="249.7" y="555.5" font-size="16.5" text-anchor="middle">Unique number of fragments</text>
<text transform="translate(31.3 417.9) rotate(-90)" font-size="16.5" text-anchor="middle">TSS enrichment</text>
<text x="249.7" y="317.4" font-size="19.8" text-anchor="middle">ddSEQ Mouse 1 sample 1</text>
<g transform="translate(499 328)"><path fill="#341a5c" d="M186 40h2v2h-2zM190 40h2v2h-2zM184 52h2v2h-2zM190 52h2v2h-2zM180 56h2v2h-2zM184 56h2v2h-2zM190 58h2v2h-2zM198 58h2v2h-2zM188 60h4v2h-4zM196 60h2v2h-2zM182 62h2v2h-2zM190 62h2v2h-2zM182 64h2v2h-2zM190 64h2v2h-2zM198 64h2v2h-2zM184 66h8v2h-8zM186 68h4v2h-4zM194 68h4v2h-4zM182 70h14v2h-14zM198 70h4v2h-4zM182 72h22v2h-22zM166 74h2v2h-2zM184 74h6v2h-6zM192 74h4v2h-4zM198 74h2v2h-2zM178 76h24v2h-24zM180 78h6v2h-6zM188 78h20v2h-20zM160 80h2v2h-2zM174 80h2v2h-2zM182 80h24v2h-24zM210 80h2v2h-2zM160 82h2v2h-2zM174 82h2v2h-2zM178 82h32v2h-32zM178 84h32v2h-32zM214 84h2v2h-2zM170 86h4v2h-4zM176 86h16v2h-16zM194 86h18v2h-18zM170 88h2v2h-2zM176 88h4v2h-4zM182 88h22v2h-22zM206 88h6v2h-6zM214 88h2v2h-2zM172 90h6v2h-6zM182 90h32v2h-32zM170 92h2v2h-2zM176 92h38v2h-38zM218 92h2v2h-2zM172 94h40v2h-40zM218 94h4v2h-4zM172 96h28v2h-28zM202 96h18v2h-18zM170 98h46v2h-46zM170 100h56v2h-56zM162 102h2v2h-2zM168 102h60v2h-60zM170 104h4v2h-4zM178 104h54v2h-54zM166 106h64v2h-64zM232 106h2v2h-2zM166 108h36v2h-36zM204 108h30v2h-30zM154 110h2v2h-2zM162 110h72v2h-72zM164 112h38v2h-38zM204 112h32v2h-32zM238 112h2v2h-2zM160 114h78v2h-78zM242 114h2v2h-2zM160 116h80v2h-80zM156 118h78v2h-78zM236 118h8v2h-8zM156 120h86v2h-86zM158 122h32v2h-32zM192 122h58v2h-58zM152 124h76v2h-76zM230 124h8v2h-8zM240 124h8v2h-8zM250 124h2v2h-2zM156 126h24v2h-24zM182 126h24v2h-24zM208 126h44v2h-44zM150 128h4v2h-4zM156 128h72v2h-72zM230 128h12v2h-12zM244 128h6v2h-6zM136 130h2v2h-2zM152 130h60v2h-60zM216 130h14v2h-14zM232 130h14v2h-14zM248 130h8v2h-8zM150 132h8v2h-8zM160 132h40v2h-40zM202 132h54v2h-54zM152 134h26v2h-26zM180 134h36v2h-36zM218 134h14v2h-14zM234 134h12v2h-12zM248 134h8v2h-8zM260 134h2v2h-2zM142 136h2v2h-2zM146 136h2v2h-2zM150 136h108v2h-108zM260 136h2v2h-2zM146 138h28v2h-28zM178 138h12v2h-12zM192 138h28v2h-28zM222 138h36v2h-36zM142 140h2v2h-2zM148 140h14v2h-14zM164 140h16v2h-16zM182 140h4v2h-4zM188 140h32v2h-32zM222 140h38v2h-38zM144 142h94v2h-94zM240 142h20v2h-20zM262 142h2v2h-2zM146 144h20v2h-20zM168 144h40v2h-40zM210 144h52v2h-52zM142 146h122v2h-122zM138 148h2v2h-2zM142 148h54v2h-54zM200 148h16v2h-16zM218 148h8v2h-8zM228 148h16v2h-16zM246 148h18v2h-18zM136 150h2v2h-2zM142 150h58v2h-58zM202 150h36v2h-36zM240 150h24v2h-24zM130 152h2v2h-2zM138 152h14v2h-14zM154 152h16v2h-16zM172 152h58v2h-58zM232 152h34v2h-34zM268 152h2v2h-2zM114 154h2v2h-2zM134 154h2v2h-2zM140 154h12v2h-12zM154 154h42v2h-42zM198 154h10v2h-10zM210 154h56v2h-56zM108 156h2v2h-2zM138 156h16v2h-16zM156 156h8v2h-8zM166 156h30v2h-30zM198 156h48v2h-48zM248 156h22v2h-22zM276 156h2v2h-2zM118 158h2v2h-2zM128 158h2v2h-2zM132 158h34v2h-34zM168 158h46v2h-46zM216 158h2v2h-2zM220 158h26v2h-26zM248 158h22v2h-22zM110 160h2v2h-2zM116 160h2v2h-2zM126 160h14v2h-14zM142 160h4v2h-4zM148 160h6v2h-6zM156 160h4v2h-4zM162 160h12v2h-12zM176 160h6v2h-6zM184 160h8v2h-8zM194 160h12v2h-12zM208 160h2v2h-2zM212 160h6v2h-6zM230 160h4v2h-4zM238 160h2v2h-2zM242 160h10v2h-10zM256 160h2v2h-2zM262 160h8v2h-8zM274 160h2v2h-2zM118 162h4v2h-4zM124 162h42v2h-42zM168 162h4v2h-4zM176 162h2v2h-2zM184 162h6v2h-6zM204 162h2v2h-2zM212 162h4v2h-4zM218 162h8v2h-8zM240 162h2v2h-2zM248 162h6v2h-6zM256 162h4v2h-4zM262 162h8v2h-8zM118 164h46v2h-46zM170 164h2v2h-2zM180 164h4v2h-4zM186 164h2v2h-2zM192 164h4v2h-4zM206 164h2v2h-2zM214 164h2v2h-2zM218 164h2v2h-2zM230 164h2v2h-2zM240 164h2v2h-2zM244 164h2v2h-2zM252 164h2v2h-2zM270 164h4v2h-4zM104 166h2v2h-2zM118 166h14v2h-14zM134 166h34v2h-34zM174 166h4v2h-4zM194 166h2v2h-2zM218 166h2v2h-2zM226 166h2v2h-2zM250 166h2v2h-2zM270 166h4v2h-4zM78 168h4v2h-4zM104 168h2v2h-2zM112 168h32v2h-32zM146 168h14v2h-14zM166 168h2v2h-2zM180 168h2v2h-2zM184 168h2v2h-2zM190 168h2v2h-2zM218 168h10v2h-10zM244 168h2v2h-2zM248 168h2v2h-2zM274 168h2v2h-2zM74 170h2v2h-2zM80 170h2v2h-2zM86 170h2v2h-2zM94 170h4v2h-4zM102 170h48v2h-48zM152 170h8v2h-8zM162 170h2v2h-2zM192 170h4v2h-4zM200 170h2v2h-2zM214 170h2v2h-2zM220 170h4v2h-4zM228 170h2v2h-2zM232 170h4v2h-4zM68 172h2v2h-2zM72 172h2v2h-2zM84 172h6v2h-6zM92 172h26v2h-26zM120 172h20v2h-20zM142 172h20v2h-20zM164 172h4v2h-4zM180 172h2v2h-2zM194 172h2v2h-2zM206 172h2v2h-2zM212 172h2v2h-2zM218 172h2v2h-2zM226 172h2v2h-2zM254 172h2v2h-2zM260 172h2v2h-2zM60 174h2v2h-2zM66 174h4v2h-4zM72 174h2v2h-2zM76 174h16v2h-16zM94 174h30v2h-30zM126 174h20v2h-20zM148 174h12v2h-12zM162 174h2v2h-2zM170 174h2v2h-2zM178 174h2v2h-2zM192 174h2v2h-2zM224 174h2v2h-2zM240 174h2v2h-2zM246 174h2v2h-2zM264 174h2v2h-2zM274 174h2v2h-2zM56 176h2v2h-2zM62 176h6v2h-6zM70 176h14v2h-14zM86 176h34v2h-34zM122 176h36v2h-36zM204 176h2v2h-2zM228 176h2v2h-2zM240 176h2v2h-2zM58 178h22v2h-22zM82 178h12v2h-12zM96 178h4v2h-4zM104 178h4v2h-4zM110 178h14v2h-14zM126 178h18v2h-18zM146 178h10v2h-10zM226 178h2v2h-2zM270 178h4v2h-4zM52 180h2v2h-2zM56 180h2v2h-2zM62 180h4v2h-4zM72 180h2v2h-2zM78 180h2v2h-2zM94 180h4v2h-4zM100 180h2v2h-2zM104 180h2v2h-2zM110 180h2v2h-2zM116 180h2v2h-2zM124 180h2v2h-2zM130 180h2v2h-2zM136 180h4v2h-4zM150 180h2v2h-2zM154 180h2v2h-2zM158 180h4v2h-4z"/><linearGradient id="vg6" x1="0" x2="1" y1="0" y2="0"><stop offset="0.00" stop-color="#2a6f8e"/><stop offset="0.25" stop-color="#22a384"/><stop offset="0.45" stop-color="#b5dd2b"/><stop offset="0.60" stop-color="#6ccd5a"/><stop offset="0.75" stop-color="#1f9a8a"/><stop offset="0.90" stop-color="#3b528b"/><stop offset="1.00" stop-color="#3f2373"/></linearGradient><path fill="url(#vg6)" d="M57.8 180.5L57.8 178.0L94.7 175.2L131.6 174.0L131.6 180.5z"/></g>
<line x1="694.3" y1="508.5" x2="694.3" y2="327.2" stroke="#DDAA40" stroke-width="2.9" stroke-opacity="0.9"/>
<line x1="499.4" y1="486.2" x2="849.6" y2="486.2" stroke="#DDAA40" stroke-width="2.9" stroke-opacity="0.9"/>
<text x="676.8" y="349.3" font-size="19.8" text-anchor="end" fill="#E2C070" color="#E2C070">3542</text>
<text x="556.4" y="479.2" font-size="19.8" fill="#E2C070" color="#E2C070">8.5</text>
<path d="M499.4 327.2V508.5H849.6" fill="none" stroke="#3a3a3a" stroke-width="2"/>
<line x1="493.8" y1="508.5" x2="499.4" y2="508.5" stroke="#3a3a3a" stroke-width="2"/>
<text x="487.1" y="514.5" font-size="16.5" text-anchor="end">0</text>
<line x1="493.8" y1="456.7" x2="499.4" y2="456.7" stroke="#3a3a3a" stroke-width="2"/>
<text x="487.1" y="462.7" font-size="16.5" text-anchor="end">20</text>
<line x1="493.8" y1="404.9" x2="499.4" y2="404.9" stroke="#3a3a3a" stroke-width="2"/>
<text x="487.1" y="410.9" font-size="16.5" text-anchor="end">40</text>
<line x1="493.8" y1="353.1" x2="499.4" y2="353.1" stroke="#3a3a3a" stroke-width="2"/>
<text x="487.1" y="359.1" font-size="16.5" text-anchor="end">60</text>
<line x1="499.4" y1="508.5" x2="499.4" y2="514.1" stroke="#3a3a3a" stroke-width="2"/>
<text x="500.4" y="532.9" font-size="16.5" text-anchor="middle">10<tspan font-size="12" dy="-6.5">0</tspan></text>
<line x1="610.4" y1="508.5" x2="610.4" y2="514.1" stroke="#3a3a3a" stroke-width="2"/>
<text x="611.4" y="532.9" font-size="16.5" text-anchor="middle">10<tspan font-size="12" dy="-6.5">2</tspan></text>
<line x1="721.4" y1="508.5" x2="721.4" y2="514.1" stroke="#3a3a3a" stroke-width="2"/>
<text x="722.4" y="532.9" font-size="16.5" text-anchor="middle">10<tspan font-size="12" dy="-6.5">4</tspan></text>
<line x1="832.4" y1="508.5" x2="832.4" y2="514.1" stroke="#3a3a3a" stroke-width="2"/>
<text x="833.4" y="532.9" font-size="16.5" text-anchor="middle">10<tspan font-size="12" dy="-6.5">6</tspan></text>
<text x="674.5" y="555.5" font-size="16.5" text-anchor="middle">Unique number of fragments</text>
<text transform="translate(456.1 417.9) rotate(-90)" font-size="16.5" text-anchor="middle">TSS enrichment</text>
<text x="674.5" y="317.4" font-size="19.8" text-anchor="middle">ddSEQ Mouse 1 sample 2</text>
<g transform="translate(922 328)"><path fill="#341a5c" d="M202 44h2v2h-2zM184 46h2v2h-2zM200 48h2v2h-2zM192 52h2v2h-2zM190 54h6v2h-6zM206 54h2v2h-2zM184 56h2v2h-2zM204 56h2v2h-2zM182 58h2v2h-2zM190 58h2v2h-2zM192 60h10v2h-10zM188 62h10v2h-10zM200 62h2v2h-2zM186 64h6v2h-6zM196 64h2v2h-2zM188 66h10v2h-10zM200 66h4v2h-4zM184 68h16v2h-16zM204 68h2v2h-2zM184 70h16v2h-16zM180 72h24v2h-24zM182 74h22v2h-22zM178 76h2v2h-2zM182 76h26v2h-26zM172 78h2v2h-2zM180 78h4v2h-4zM186 78h22v2h-22zM176 80h20v2h-20zM198 80h12v2h-12zM178 82h6v2h-6zM188 82h24v2h-24zM218 82h2v2h-2zM176 84h38v2h-38zM174 86h44v2h-44zM170 88h2v2h-2zM174 88h46v2h-46zM174 90h28v2h-28zM204 90h10v2h-10zM216 90h2v2h-2zM220 90h2v2h-2zM174 92h46v2h-46zM166 94h4v2h-4zM174 94h2v2h-2zM178 94h44v2h-44zM224 94h2v2h-2zM174 96h50v2h-50zM168 98h2v2h-2zM172 98h2v2h-2zM176 98h2v2h-2zM180 98h12v2h-12zM194 98h32v2h-32zM228 98h4v2h-4zM160 100h2v2h-2zM170 100h60v2h-60zM234 100h2v2h-2zM166 102h2v2h-2zM170 102h38v2h-38zM210 102h12v2h-12zM224 102h6v2h-6zM162 104h2v2h-2zM168 104h16v2h-16zM188 104h14v2h-14zM204 104h30v2h-30zM166 106h4v2h-4zM172 106h2v2h-2zM176 106h4v2h-4zM182 106h56v2h-56zM242 106h2v2h-2zM164 108h10v2h-10zM176 108h24v2h-24zM202 108h24v2h-24zM228 108h8v2h-8zM160 110h4v2h-4zM166 110h14v2h-14zM182 110h10v2h-10zM194 110h40v2h-40zM236 110h2v2h-2zM164 112h34v2h-34zM200 112h40v2h-40zM162 114h56v2h-56zM220 114h22v2h-22zM244 114h2v2h-2zM156 116h4v2h-4zM162 116h4v2h-4zM168 116h42v2h-42zM212 116h30v2h-30zM246 116h2v2h-2zM154 118h2v2h-2zM160 118h2v2h-2zM164 118h38v2h-38zM204 118h12v2h-12zM218 118h10v2h-10zM230 118h18v2h-18zM154 120h4v2h-4zM160 120h14v2h-14zM176 120h8v2h-8zM186 120h8v2h-8zM196 120h20v2h-20zM218 120h32v2h-32zM158 122h2v2h-2zM162 122h14v2h-14zM180 122h30v2h-30zM212 122h38v2h-38zM252 122h2v2h-2zM262 122h2v2h-2zM154 124h24v2h-24zM180 124h34v2h-34zM216 124h4v2h-4zM222 124h2v2h-2zM226 124h4v2h-4zM232 124h20v2h-20zM148 126h2v2h-2zM156 126h82v2h-82zM240 126h18v2h-18zM144 128h4v2h-4zM154 128h2v2h-2zM158 128h20v2h-20zM180 128h32v2h-32zM214 128h18v2h-18zM234 128h22v2h-22zM258 128h2v2h-2zM152 130h48v2h-48zM202 130h18v2h-18zM222 130h34v2h-34zM258 130h2v2h-2zM152 132h44v2h-44zM198 132h64v2h-64zM146 134h2v2h-2zM150 134h36v2h-36zM188 134h70v2h-70zM142 136h2v2h-2zM146 136h6v2h-6zM154 136h2v2h-2zM160 136h2v2h-2zM164 136h54v2h-54zM220 136h20v2h-20zM242 136h18v2h-18zM138 138h2v2h-2zM148 138h28v2h-28zM178 138h22v2h-22zM202 138h12v2h-12zM216 138h44v2h-44zM142 140h2v2h-2zM148 140h92v2h-92zM242 140h16v2h-16zM142 142h2v2h-2zM148 142h52v2h-52zM202 142h10v2h-10zM214 142h50v2h-50zM136 144h2v2h-2zM142 144h22v2h-22zM166 144h24v2h-24zM192 144h28v2h-28zM222 144h2v2h-2zM226 144h38v2h-38zM144 146h30v2h-30zM176 146h6v2h-6zM184 146h22v2h-22zM208 146h54v2h-54zM136 148h82v2h-82zM220 148h32v2h-32zM254 148h10v2h-10zM266 148h2v2h-2zM124 150h2v2h-2zM142 150h14v2h-14zM158 150h24v2h-24zM184 150h84v2h-84zM140 152h108v2h-108zM250 152h4v2h-4zM256 152h8v2h-8zM130 154h2v2h-2zM136 154h72v2h-72zM210 154h54v2h-54zM124 156h2v2h-2zM128 156h32v2h-32zM162 156h32v2h-32zM196 156h24v2h-24zM222 156h4v2h-4zM228 156h6v2h-6zM236 156h28v2h-28zM124 158h4v2h-4zM130 158h40v2h-40zM172 158h26v2h-26zM200 158h30v2h-30zM232 158h16v2h-16zM250 158h16v2h-16zM116 160h2v2h-2zM126 160h48v2h-48zM176 160h12v2h-12zM190 160h4v2h-4zM196 160h2v2h-2zM202 160h2v2h-2zM206 160h4v2h-4zM212 160h10v2h-10zM228 160h4v2h-4zM234 160h2v2h-2zM242 160h6v2h-6zM250 160h4v2h-4zM258 160h6v2h-6zM278 160h2v2h-2zM126 162h10v2h-10zM138 162h46v2h-46zM186 162h2v2h-2zM204 162h2v2h-2zM208 162h2v2h-2zM212 162h10v2h-10zM228 162h6v2h-6zM236 162h2v2h-2zM246 162h2v2h-2zM254 162h2v2h-2zM264 162h2v2h-2zM270 162h2v2h-2zM96 164h2v2h-2zM108 164h4v2h-4zM114 164h8v2h-8zM124 164h12v2h-12zM138 164h52v2h-52zM192 164h2v2h-2zM220 164h4v2h-4zM230 164h2v2h-2zM236 164h2v2h-2zM240 164h2v2h-2zM254 164h8v2h-8zM90 166h2v2h-2zM110 166h2v2h-2zM114 166h4v2h-4zM120 166h2v2h-2zM124 166h34v2h-34zM160 166h26v2h-26zM188 166h2v2h-2zM198 166h2v2h-2zM202 166h2v2h-2zM226 166h2v2h-2zM230 166h4v2h-4zM236 166h2v2h-2zM258 166h4v2h-4zM70 168h2v2h-2zM94 168h2v2h-2zM98 168h4v2h-4zM108 168h38v2h-38zM148 168h38v2h-38zM198 168h2v2h-2zM204 168h2v2h-2zM214 168h2v2h-2zM272 168h4v2h-4zM278 168h2v2h-2zM62 170h2v2h-2zM80 170h2v2h-2zM90 170h2v2h-2zM96 170h2v2h-2zM100 170h24v2h-24zM126 170h54v2h-54zM184 170h2v2h-2zM188 170h4v2h-4zM248 170h2v2h-2zM266 170h2v2h-2zM272 170h2v2h-2zM58 172h2v2h-2zM68 172h2v2h-2zM82 172h6v2h-6zM92 172h18v2h-18zM112 172h24v2h-24zM138 172h26v2h-26zM166 172h14v2h-14zM182 172h2v2h-2zM186 172h2v2h-2zM190 172h2v2h-2zM202 172h2v2h-2zM242 172h2v2h-2zM62 174h4v2h-4zM74 174h112v2h-112zM192 174h2v2h-2zM208 174h2v2h-2zM218 174h6v2h-6zM230 174h2v2h-2zM250 174h2v2h-2zM50 176h2v2h-2zM56 176h2v2h-2zM62 176h40v2h-40zM104 176h14v2h-14zM120 176h26v2h-26zM148 176h8v2h-8zM158 176h8v2h-8zM168 176h12v2h-12zM190 176h2v2h-2zM210 176h2v2h-2zM228 176h2v2h-2zM234 176h2v2h-2zM248 176h2v2h-2zM260 176h2v2h-2zM276 176h2v2h-2zM56 178h12v2h-12zM70 178h4v2h-4zM78 178h10v2h-10zM90 178h34v2h-34zM126 178h40v2h-40zM168 178h12v2h-12zM204 178h2v2h-2zM242 178h2v2h-2zM248 178h2v2h-2zM274 178h2v2h-2zM54 180h2v2h-2zM58 180h4v2h-4zM66 180h4v2h-4zM72 180h2v2h-2zM76 180h2v2h-2zM86 180h2v2h-2zM92 180h2v2h-2zM96 180h2v2h-2zM102 180h2v2h-2zM106 180h2v2h-2zM110 180h6v2h-6zM124 180h2v2h-2zM130 180h2v2h-2zM134 180h2v2h-2zM150 180h2v2h-2zM158 180h2v2h-2zM168 180h2v2h-2zM172 180h2v2h-2zM176 180h2v2h-2z"/><linearGradient id="vg7" x1="0" x2="1" y1="0" y2="0"><stop offset="0.00" stop-color="#2a6f8e"/><stop offset="0.25" stop-color="#22a384"/><stop offset="0.45" stop-color="#b5dd2b"/><stop offset="0.60" stop-color="#6ccd5a"/><stop offset="0.75" stop-color="#1f9a8a"/><stop offset="0.90" stop-color="#3b528b"/><stop offset="1.00" stop-color="#3f2373"/></linearGradient><path fill="url(#vg7)" d="M57.8 180.5L57.8 178.0L98.7 175.2L139.5 174.0L139.5 180.5z"/></g>
<line x1="1120.2" y1="508.5" x2="1120.2" y2="327.2" stroke="#DDAA40" stroke-width="2.9" stroke-opacity="0.9"/>
<line x1="922.2" y1="485.7" x2="1272.4" y2="485.7" stroke="#DDAA40" stroke-width="2.9" stroke-opacity="0.9"/>
<text x="1102.7" y="349.3" font-size="19.8" text-anchor="end" fill="#E2C070" color="#E2C070">3733</text>
<text x="979.2" y="478.7" font-size="19.8" fill="#E2C070" color="#E2C070">8.7</text>
<path d="M922.2 327.2V508.5H1272.4" fill="none" stroke="#3a3a3a" stroke-width="2"/>
<line x1="916.6" y1="508.5" x2="922.2" y2="508.5" stroke="#3a3a3a" stroke-width="2"/>
<text x="909.9" y="514.5" font-size="16.5" text-anchor="end">0</text>
<line x1="916.6" y1="456.7" x2="922.2" y2="456.7" stroke="#3a3a3a" stroke-width="2"/>
<text x="909.9" y="462.7" font-size="16.5" text-anchor="end">20</text>
<line x1="916.6" y1="404.9" x2="922.2" y2="404.9" stroke="#3a3a3a" stroke-width="2"/>
<text x="909.9" y="410.9" font-size="16.5" text-anchor="end">40</text>
<line x1="916.6" y1="353.1" x2="922.2" y2="353.1" stroke="#3a3a3a" stroke-width="2"/>
<text x="909.9" y="359.1" font-size="16.5" text-anchor="end">60</text>
<line x1="922.2" y1="508.5" x2="922.2" y2="514.1" stroke="#3a3a3a" stroke-width="2"/>
<text x="923.2" y="532.9" font-size="16.5" text-anchor="middle">10<tspan font-size="12" dy="-6.5">0</tspan></text>
<line x1="1033.2" y1="508.5" x2="1033.2" y2="514.1" stroke="#3a3a3a" stroke-width="2"/>
<text x="1034.2" y="532.9" font-size="16.5" text-anchor="middle">10<tspan font-size="12" dy="-6.5">2</tspan></text>
<line x1="1144.2" y1="508.5" x2="1144.2" y2="514.1" stroke="#3a3a3a" stroke-width="2"/>
<text x="1145.2" y="532.9" font-size="16.5" text-anchor="middle">10<tspan font-size="12" dy="-6.5">4</tspan></text>
<line x1="1255.2" y1="508.5" x2="1255.2" y2="514.1" stroke="#3a3a3a" stroke-width="2"/>
<text x="1256.2" y="532.9" font-size="16.5" text-anchor="middle">10<tspan font-size="12" dy="-6.5">6</tspan></text>
<text x="1097.3" y="555.5" font-size="16.5" text-anchor="middle">Unique number of fragments</text>
<text transform="translate(878.9 417.9) rotate(-90)" font-size="16.5" text-anchor="middle">TSS enrichment</text>
<text x="1097.3" y="317.4" font-size="19.8" text-anchor="middle">ddSEQ Mouse 1 sample 3</text>
<g transform="translate(1344 328)"><path fill="#341a5c" d="M192 38h2v2h-2zM190 46h2v2h-2zM180 50h2v2h-2zM188 52h4v2h-4zM194 52h2v2h-2zM188 54h6v2h-6zM196 54h2v2h-2zM184 56h12v2h-12zM198 56h2v2h-2zM186 58h2v2h-2zM190 58h8v2h-8zM206 58h2v2h-2zM180 60h2v2h-2zM184 60h18v2h-18zM178 62h2v2h-2zM184 62h22v2h-22zM208 62h2v2h-2zM184 64h6v2h-6zM192 64h10v2h-10zM206 64h4v2h-4zM178 66h2v2h-2zM182 66h20v2h-20zM178 68h2v2h-2zM182 68h24v2h-24zM184 70h2v2h-2zM188 70h20v2h-20zM176 72h12v2h-12zM190 72h10v2h-10zM202 72h8v2h-8zM180 74h6v2h-6zM188 74h2v2h-2zM192 74h22v2h-22zM220 74h2v2h-2zM178 76h2v2h-2zM182 76h30v2h-30zM178 78h4v2h-4zM184 78h22v2h-22zM208 78h2v2h-2zM214 78h2v2h-2zM176 80h8v2h-8zM186 80h30v2h-30zM172 82h42v2h-42zM226 82h2v2h-2zM168 84h2v2h-2zM174 84h2v2h-2zM178 84h38v2h-38zM170 86h2v2h-2zM174 86h40v2h-40zM216 86h2v2h-2zM172 88h30v2h-30zM204 88h14v2h-14zM172 90h48v2h-48zM222 90h2v2h-2zM164 92h2v2h-2zM170 92h4v2h-4zM178 92h28v2h-28zM208 92h2v2h-2zM212 92h10v2h-10zM168 94h50v2h-50zM220 94h2v2h-2zM224 94h2v2h-2zM228 94h2v2h-2zM234 94h2v2h-2zM162 96h2v2h-2zM168 96h18v2h-18zM188 96h16v2h-16zM206 96h18v2h-18zM228 96h2v2h-2zM164 98h2v2h-2zM170 98h56v2h-56zM236 98h2v2h-2zM166 100h4v2h-4zM172 100h4v2h-4zM178 100h42v2h-42zM222 100h6v2h-6zM162 102h12v2h-12zM176 102h34v2h-34zM212 102h18v2h-18zM160 104h2v2h-2zM164 104h62v2h-62zM228 104h2v2h-2zM164 106h20v2h-20zM188 106h44v2h-44zM162 108h16v2h-16zM180 108h56v2h-56zM156 110h2v2h-2zM162 110h50v2h-50zM214 110h20v2h-20zM162 112h12v2h-12zM176 112h28v2h-28zM206 112h22v2h-22zM230 112h4v2h-4zM156 114h2v2h-2zM160 114h30v2h-30zM196 114h38v2h-38zM236 114h2v2h-2zM158 116h20v2h-20zM180 116h18v2h-18zM200 116h14v2h-14zM216 116h22v2h-22zM158 118h82v2h-82zM152 120h88v2h-88zM246 120h4v2h-4zM252 120h2v2h-2zM260 120h2v2h-2zM152 122h2v2h-2zM156 122h2v2h-2zM160 122h50v2h-50zM212 122h14v2h-14zM228 122h14v2h-14zM244 122h2v2h-2zM248 122h2v2h-2zM154 124h60v2h-60zM216 124h30v2h-30zM154 126h12v2h-12zM168 126h62v2h-62zM232 126h10v2h-10zM244 126h2v2h-2zM146 128h2v2h-2zM152 128h20v2h-20zM174 128h16v2h-16zM192 128h12v2h-12zM206 128h16v2h-16zM224 128h26v2h-26zM146 130h2v2h-2zM150 130h36v2h-36zM190 130h30v2h-30zM224 130h30v2h-30zM146 132h2v2h-2zM150 132h10v2h-10zM162 132h2v2h-2zM166 132h60v2h-60zM228 132h26v2h-26zM260 132h2v2h-2zM142 134h2v2h-2zM146 134h10v2h-10zM158 134h12v2h-12zM172 134h84v2h-84zM266 134h2v2h-2zM136 136h2v2h-2zM144 136h2v2h-2zM148 136h2v2h-2zM154 136h50v2h-50zM206 136h18v2h-18zM226 136h12v2h-12zM240 136h18v2h-18zM142 138h2v2h-2zM146 138h2v2h-2zM150 138h108v2h-108zM260 138h2v2h-2zM142 140h2v2h-2zM146 140h12v2h-12zM160 140h24v2h-24zM186 140h78v2h-78zM142 142h20v2h-20zM164 142h40v2h-40zM206 142h60v2h-60zM142 144h18v2h-18zM162 144h34v2h-34zM198 144h58v2h-58zM260 144h10v2h-10zM142 146h4v2h-4zM148 146h26v2h-26zM176 146h24v2h-24zM202 146h68v2h-68zM274 146h2v2h-2zM140 148h46v2h-46zM188 148h20v2h-20zM210 148h56v2h-56zM268 148h4v2h-4zM276 148h2v2h-2zM140 150h2v2h-2zM146 150h30v2h-30zM178 150h4v2h-4zM184 150h88v2h-88zM132 152h2v2h-2zM136 152h2v2h-2zM140 152h2v2h-2zM144 152h26v2h-26zM172 152h22v2h-22zM196 152h64v2h-64zM262 152h4v2h-4zM268 152h2v2h-2zM122 154h2v2h-2zM136 154h138v2h-138zM132 156h136v2h-136zM270 156h2v2h-2zM130 158h2v2h-2zM134 158h2v2h-2zM138 158h100v2h-100zM240 158h2v2h-2zM244 158h6v2h-6zM252 158h20v2h-20zM274 158h2v2h-2zM114 160h2v2h-2zM124 160h2v2h-2zM130 160h44v2h-44zM178 160h10v2h-10zM192 160h2v2h-2zM198 160h2v2h-2zM202 160h2v2h-2zM206 160h2v2h-2zM210 160h4v2h-4zM218 160h2v2h-2zM224 160h6v2h-6zM236 160h2v2h-2zM240 160h10v2h-10zM252 160h2v2h-2zM256 160h4v2h-4zM262 160h10v2h-10zM274 160h4v2h-4zM106 162h2v2h-2zM126 162h2v2h-2zM130 162h48v2h-48zM182 162h4v2h-4zM198 162h4v2h-4zM204 162h6v2h-6zM212 162h4v2h-4zM242 162h4v2h-4zM248 162h8v2h-8zM260 162h4v2h-4zM270 162h2v2h-2zM106 164h2v2h-2zM116 164h4v2h-4zM124 164h18v2h-18zM144 164h26v2h-26zM176 164h2v2h-2zM188 164h6v2h-6zM204 164h2v2h-2zM208 164h2v2h-2zM212 164h2v2h-2zM216 164h2v2h-2zM220 164h2v2h-2zM230 164h2v2h-2zM234 164h10v2h-10zM246 164h2v2h-2zM268 164h4v2h-4zM274 164h2v2h-2zM108 166h2v2h-2zM114 166h2v2h-2zM118 166h16v2h-16zM136 166h32v2h-32zM178 166h2v2h-2zM190 166h2v2h-2zM234 166h2v2h-2zM246 166h2v2h-2zM256 166h2v2h-2zM92 168h2v2h-2zM108 168h60v2h-60zM176 168h2v2h-2zM182 168h2v2h-2zM194 168h2v2h-2zM206 168h2v2h-2zM224 168h2v2h-2zM228 168h2v2h-2zM236 168h2v2h-2zM252 168h2v2h-2zM266 168h2v2h-2zM274 168h2v2h-2zM68 170h2v2h-2zM80 170h2v2h-2zM94 170h2v2h-2zM98 170h2v2h-2zM102 170h2v2h-2zM108 170h60v2h-60zM184 170h2v2h-2zM206 170h2v2h-2zM216 170h2v2h-2zM224 170h2v2h-2zM240 170h4v2h-4zM248 170h4v2h-4zM72 172h2v2h-2zM76 172h2v2h-2zM84 172h2v2h-2zM88 172h2v2h-2zM94 172h18v2h-18zM114 172h10v2h-10zM126 172h42v2h-42zM172 172h4v2h-4zM182 172h2v2h-2zM212 172h2v2h-2zM274 172h4v2h-4zM54 174h2v2h-2zM68 174h2v2h-2zM72 174h4v2h-4zM84 174h10v2h-10zM96 174h24v2h-24zM122 174h22v2h-22zM146 174h4v2h-4zM152 174h8v2h-8zM162 174h2v2h-2zM172 174h2v2h-2zM180 174h2v2h-2zM184 174h2v2h-2zM192 174h4v2h-4zM212 174h4v2h-4zM230 174h2v2h-2zM234 174h2v2h-2zM276 174h2v2h-2zM62 176h6v2h-6zM70 176h46v2h-46zM118 176h26v2h-26zM146 176h24v2h-24zM174 176h2v2h-2zM228 176h2v2h-2zM232 176h2v2h-2zM270 176h2v2h-2zM56 178h18v2h-18zM76 178h32v2h-32zM110 178h28v2h-28zM140 178h18v2h-18zM160 178h2v2h-2zM178 178h2v2h-2zM206 178h2v2h-2zM248 178h2v2h-2zM258 178h2v2h-2zM262 178h2v2h-2zM62 180h2v2h-2zM66 180h8v2h-8zM86 180h4v2h-4zM92 180h2v2h-2zM100 180h4v2h-4zM106 180h2v2h-2zM110 180h2v2h-2zM114 180h4v2h-4zM126 180h2v2h-2zM132 180h2v2h-2zM138 180h2v2h-2zM154 180h2v2h-2zM160 180h2v2h-2zM166 180h2v2h-2z"/><linearGradient id="vg8" x1="0" x2="1" y1="0" y2="0"><stop offset="0.00" stop-color="#2a6f8e"/><stop offset="0.25" stop-color="#22a384"/><stop offset="0.45" stop-color="#b5dd2b"/><stop offset="0.60" stop-color="#6ccd5a"/><stop offset="0.75" stop-color="#1f9a8a"/><stop offset="0.90" stop-color="#3b528b"/><stop offset="1.00" stop-color="#3f2373"/></linearGradient><path fill="url(#vg8)" d="M57.8 180.5L57.8 178.0L98.7 175.2L139.5 174.0L139.5 180.5z"/></g>
<line x1="1541.1" y1="508.5" x2="1541.1" y2="327.2" stroke="#DDAA40" stroke-width="2.9" stroke-opacity="0.9"/>
<line x1="1344.4" y1="485.7" x2="1694.6" y2="485.7" stroke="#DDAA40" stroke-width="2.9" stroke-opacity="0.9"/>
<text x="1523.6" y="349.3" font-size="19.8" text-anchor="end" fill="#E2C070" color="#E2C070">3467</text>
<text x="1401.4" y="478.7" font-size="19.8" fill="#E2C070" color="#E2C070">8.7</text>
<path d="M1344.4 327.2V508.5H1694.6" fill="none" stroke="#3a3a3a" stroke-width="2"/>
<line x1="1338.8" y1="508.5" x2="1344.4" y2="508.5" stroke="#3a3a3a" stroke-width="2"/>
<text x="1332.1" y="514.5" font-size="16.5" text-anchor="end">0</text>
<line x1="1338.8" y1="456.7" x2="1344.4" y2="456.7" stroke="#3a3a3a" stroke-width="2"/>
<text x="1332.1" y="462.7" font-size="16.5" text-anchor="end">20</text>
<line x1="1338.8" y1="404.9" x2="1344.4" y2="404.9" stroke="#3a3a3a" stroke-width="2"/>
<text x="1332.1" y="410.9" font-size="16.5" text-anchor="end">40</text>
<line x1="1338.8" y1="353.1" x2="1344.4" y2="353.1" stroke="#3a3a3a" stroke-width="2"/>
<text x="1332.1" y="359.1" font-size="16.5" text-anchor="end">60</text>
<line x1="1344.4" y1="508.5" x2="1344.4" y2="514.1" stroke="#3a3a3a" stroke-width="2"/>
<text x="1345.4" y="532.9" font-size="16.5" text-anchor="middle">10<tspan font-size="12" dy="-6.5">0</tspan></text>
<line x1="1455.4" y1="508.5" x2="1455.4" y2="514.1" stroke="#3a3a3a" stroke-width="2"/>
<text x="1456.4" y="532.9" font-size="16.5" text-anchor="middle">10<tspan font-size="12" dy="-6.5">2</tspan></text>
<line x1="1566.4" y1="508.5" x2="1566.4" y2="514.1" stroke="#3a3a3a" stroke-width="2"/>
<text x="1567.4" y="532.9" font-size="16.5" text-anchor="middle">10<tspan font-size="12" dy="-6.5">4</tspan></text>
<line x1="1677.4" y1="508.5" x2="1677.4" y2="514.1" stroke="#3a3a3a" stroke-width="2"/>
<text x="1678.4" y="532.9" font-size="16.5" text-anchor="middle">10<tspan font-size="12" dy="-6.5">6</tspan></text>
<text x="1519.5" y="555.5" font-size="16.5" text-anchor="middle">Unique number of fragments</text>
<text transform="translate(1301.1 417.9) rotate(-90)" font-size="16.5" text-anchor="middle">TSS enrichment</text>
<text x="1519.5" y="317.4" font-size="19.8" text-anchor="middle">ddSEQ Mouse 1 sample 4</text>
<g transform="translate(1768 328)"><path fill="#341a5c" d="M184 36h2v2h-2zM176 40h2v2h-2zM202 42h2v2h-2zM186 44h2v2h-2zM188 46h2v2h-2zM200 46h2v2h-2zM210 46h2v2h-2zM176 50h2v2h-2zM192 52h2v2h-2zM208 52h2v2h-2zM184 54h2v2h-2zM190 54h2v2h-2zM188 60h2v2h-2zM182 62h2v2h-2zM196 62h2v2h-2zM176 64h2v2h-2zM198 64h4v2h-4zM208 64h2v2h-2zM186 66h2v2h-2zM196 66h4v2h-4zM206 66h2v2h-2zM176 68h2v2h-2zM182 68h2v2h-2zM192 68h2v2h-2zM198 68h2v2h-2zM202 68h2v2h-2zM190 70h2v2h-2zM194 70h10v2h-10zM206 70h2v2h-2zM210 70h2v2h-2zM178 72h2v2h-2zM186 72h2v2h-2zM194 72h2v2h-2zM198 72h10v2h-10zM184 74h2v2h-2zM190 74h22v2h-22zM216 74h2v2h-2zM186 76h2v2h-2zM190 76h14v2h-14zM206 76h6v2h-6zM186 78h28v2h-28zM220 78h2v2h-2zM224 78h2v2h-2zM188 80h30v2h-30zM184 82h4v2h-4zM190 82h22v2h-22zM214 82h6v2h-6zM180 84h2v2h-2zM184 84h14v2h-14zM200 84h22v2h-22zM178 86h2v2h-2zM182 86h18v2h-18zM202 86h18v2h-18zM222 86h2v2h-2zM176 88h2v2h-2zM182 88h12v2h-12zM196 88h28v2h-28zM176 90h6v2h-6zM184 90h4v2h-4zM190 90h34v2h-34zM226 90h4v2h-4zM172 92h4v2h-4zM178 92h6v2h-6zM186 92h40v2h-40zM174 94h2v2h-2zM178 94h2v2h-2zM182 94h28v2h-28zM212 94h20v2h-20zM172 96h2v2h-2zM176 96h54v2h-54zM232 96h2v2h-2zM172 98h4v2h-4zM178 98h48v2h-48zM228 98h4v2h-4zM234 98h2v2h-2zM168 100h2v2h-2zM172 100h20v2h-20zM194 100h14v2h-14zM210 100h28v2h-28zM172 102h32v2h-32zM206 102h2v2h-2zM210 102h24v2h-24zM236 102h2v2h-2zM242 102h2v2h-2zM168 104h12v2h-12zM182 104h20v2h-20zM204 104h34v2h-34zM164 106h2v2h-2zM168 106h72v2h-72zM166 108h74v2h-74zM244 108h2v2h-2zM248 108h2v2h-2zM164 110h80v2h-80zM164 112h22v2h-22zM188 112h44v2h-44zM234 112h10v2h-10zM156 114h2v2h-2zM162 114h72v2h-72zM236 114h10v2h-10zM250 114h2v2h-2zM162 116h18v2h-18zM182 116h2v2h-2zM186 116h48v2h-48zM236 116h10v2h-10zM252 116h2v2h-2zM158 118h70v2h-70zM230 118h16v2h-16zM248 118h2v2h-2zM256 118h2v2h-2zM158 120h8v2h-8zM168 120h24v2h-24zM194 120h36v2h-36zM232 120h22v2h-22zM152 122h2v2h-2zM156 122h18v2h-18zM176 122h28v2h-28zM206 122h12v2h-12zM220 122h32v2h-32zM154 124h12v2h-12zM168 124h30v2h-30zM200 124h30v2h-30zM232 124h20v2h-20zM254 124h2v2h-2zM148 126h46v2h-46zM196 126h2v2h-2zM200 126h14v2h-14zM216 126h20v2h-20zM238 126h14v2h-14zM254 126h2v2h-2zM148 128h2v2h-2zM154 128h56v2h-56zM212 128h28v2h-28zM242 128h16v2h-16zM260 128h2v2h-2zM154 130h22v2h-22zM178 130h44v2h-44zM224 130h36v2h-36zM152 132h4v2h-4zM158 132h46v2h-46zM206 132h60v2h-60zM144 134h2v2h-2zM152 134h76v2h-76zM230 134h4v2h-4zM236 134h6v2h-6zM244 134h22v2h-22zM148 136h18v2h-18zM168 136h100v2h-100zM142 138h2v2h-2zM146 138h22v2h-22zM170 138h76v2h-76zM248 138h12v2h-12zM262 138h6v2h-6zM274 138h2v2h-2zM146 140h124v2h-124zM146 142h10v2h-10zM158 142h20v2h-20zM180 142h76v2h-76zM258 142h12v2h-12zM272 142h4v2h-4zM142 144h66v2h-66zM210 144h18v2h-18zM230 144h30v2h-30zM262 144h10v2h-10zM278 144h2v2h-2zM138 146h2v2h-2zM148 146h34v2h-34zM184 146h22v2h-22zM208 146h20v2h-20zM230 146h42v2h-42zM142 148h10v2h-10zM154 148h2v2h-2zM158 148h4v2h-4zM164 148h108v2h-108zM274 148h2v2h-2zM278 148h2v2h-2zM140 150h38v2h-38zM180 150h44v2h-44zM226 150h18v2h-18zM246 150h28v2h-28zM134 152h2v2h-2zM140 152h88v2h-88zM230 152h4v2h-4zM236 152h28v2h-28zM266 152h6v2h-6zM278 152h2v2h-2zM136 154h106v2h-106zM244 154h20v2h-20zM266 154h2v2h-2zM128 156h2v2h-2zM134 156h2v2h-2zM138 156h20v2h-20zM162 156h18v2h-18zM182 156h46v2h-46zM230 156h4v2h-4zM236 156h18v2h-18zM256 156h18v2h-18zM132 158h20v2h-20zM154 158h118v2h-118zM274 158h4v2h-4zM128 160h8v2h-8zM138 160h8v2h-8zM148 160h48v2h-48zM198 160h12v2h-12zM212 160h6v2h-6zM222 160h20v2h-20zM244 160h22v2h-22zM270 160h6v2h-6zM278 160h2v2h-2zM118 162h2v2h-2zM122 162h2v2h-2zM126 162h26v2h-26zM154 162h4v2h-4zM160 162h6v2h-6zM172 162h6v2h-6zM180 162h2v2h-2zM188 162h2v2h-2zM194 162h4v2h-4zM200 162h6v2h-6zM208 162h4v2h-4zM214 162h2v2h-2zM220 162h6v2h-6zM228 162h22v2h-22zM254 162h2v2h-2zM260 162h2v2h-2zM264 162h2v2h-2zM268 162h2v2h-2zM274 162h6v2h-6zM116 164h2v2h-2zM120 164h2v2h-2zM124 164h42v2h-42zM168 164h2v2h-2zM178 164h2v2h-2zM182 164h2v2h-2zM188 164h6v2h-6zM196 164h2v2h-2zM200 164h2v2h-2zM208 164h2v2h-2zM214 164h6v2h-6zM222 164h2v2h-2zM226 164h2v2h-2zM230 164h2v2h-2zM234 164h2v2h-2zM240 164h2v2h-2zM248 164h2v2h-2zM256 164h8v2h-8zM266 164h6v2h-6zM274 164h2v2h-2zM90 166h2v2h-2zM114 166h4v2h-4zM120 166h6v2h-6zM128 166h12v2h-12zM142 166h20v2h-20zM172 166h2v2h-2zM176 166h2v2h-2zM184 166h4v2h-4zM190 166h2v2h-2zM198 166h2v2h-2zM206 166h6v2h-6zM214 166h2v2h-2zM220 166h4v2h-4zM228 166h2v2h-2zM234 166h2v2h-2zM246 166h4v2h-4zM254 166h8v2h-8zM264 166h2v2h-2zM274 166h2v2h-2zM278 166h2v2h-2zM74 168h2v2h-2zM110 168h2v2h-2zM116 168h20v2h-20zM138 168h24v2h-24zM164 168h4v2h-4zM180 168h2v2h-2zM186 168h2v2h-2zM192 168h2v2h-2zM204 168h6v2h-6zM230 168h2v2h-2zM234 168h2v2h-2zM244 168h2v2h-2zM264 168h2v2h-2zM76 170h2v2h-2zM100 170h60v2h-60zM162 170h2v2h-2zM166 170h2v2h-2zM180 170h2v2h-2zM202 170h2v2h-2zM224 170h4v2h-4zM236 170h2v2h-2zM262 170h2v2h-2zM274 170h2v2h-2zM52 172h2v2h-2zM58 172h4v2h-4zM74 172h4v2h-4zM84 172h2v2h-2zM90 172h4v2h-4zM96 172h6v2h-6zM104 172h14v2h-14zM120 172h40v2h-40zM170 172h2v2h-2zM182 172h4v2h-4zM198 172h2v2h-2zM204 172h2v2h-2zM222 172h2v2h-2zM230 172h2v2h-2zM260 172h4v2h-4zM274 172h2v2h-2zM60 174h4v2h-4zM72 174h10v2h-10zM84 174h2v2h-2zM88 174h30v2h-30zM120 174h38v2h-38zM162 174h2v2h-2zM168 174h2v2h-2zM190 174h2v2h-2zM232 174h2v2h-2zM248 174h2v2h-2zM252 174h2v2h-2zM266 174h2v2h-2zM270 174h2v2h-2zM274 174h4v2h-4zM58 176h86v2h-86zM146 176h10v2h-10zM160 176h2v2h-2zM170 176h4v2h-4zM178 176h2v2h-2zM264 176h2v2h-2zM268 176h2v2h-2zM272 176h2v2h-2zM278 176h2v2h-2zM50 178h4v2h-4zM58 178h4v2h-4zM64 178h26v2h-26zM92 178h12v2h-12zM106 178h4v2h-4zM112 178h18v2h-18zM132 178h24v2h-24zM192 178h2v2h-2zM206 178h2v2h-2zM232 178h2v2h-2zM238 178h2v2h-2zM244 178h2v2h-2zM254 178h2v2h-2zM58 180h2v2h-2zM62 180h8v2h-8zM78 180h2v2h-2zM82 180h4v2h-4zM90 180h2v2h-2zM94 180h2v2h-2zM100 180h2v2h-2zM106 180h2v2h-2zM110 180h2v2h-2zM114 180h4v2h-4zM120 180h8v2h-8zM130 180h8v2h-8zM142 180h2v2h-2zM146 180h2v2h-2zM152 180h2v2h-2z"/><linearGradient id="vg9" x1="0" x2="1" y1="0" y2="0"><stop offset="0.00" stop-color="#2a6f8e"/><stop offset="0.25" stop-color="#22a384"/><stop offset="0.45" stop-color="#b5dd2b"/><stop offset="0.60" stop-color="#6ccd5a"/><stop offset="0.75" stop-color="#1f9a8a"/><stop offset="0.90" stop-color="#3b528b"/><stop offset="1.00" stop-color="#3f2373"/></linearGradient><path fill="url(#vg9)" d="M55.8 180.5L55.8 178.0L96.7 175.2L137.5 174.0L137.5 180.5z"/></g>
<line x1="1969.8" y1="508.5" x2="1969.8" y2="327.2" stroke="#DDAA40" stroke-width="2.9" stroke-opacity="0.9"/>
<line x1="1767.7" y1="487.9" x2="2117.9" y2="487.9" stroke="#DDAA40" stroke-width="2.9" stroke-opacity="0.9"/>
<text x="1952.3" y="349.3" font-size="19.8" text-anchor="end" fill="#E2C070" color="#E2C070">4297</text>
<text x="1824.7" y="480.9" font-size="19.8" fill="#E2C070" color="#E2C070">7.8</text>
<path d="M1767.7 327.2V508.5H2117.9" fill="none" stroke="#3a3a3a" stroke-width="2"/>
<line x1="1762.1" y1="508.5" x2="1767.7" y2="508.5" stroke="#3a3a3a" stroke-width="2"/>
<text x="1755.4" y="514.5" font-size="16.5" text-anchor="end">0</text>
<line x1="1762.1" y1="456.7" x2="1767.7" y2="456.7" stroke="#3a3a3a" stroke-width="2"/>
<text x="1755.4" y="462.7" font-size="16.5" text-anchor="end">20</text>
<line x1="1762.1" y1="404.9" x2="1767.7" y2="404.9" stroke="#3a3a3a" stroke-width="2"/>
<text x="1755.4" y="410.9" font-size="16.5" text-anchor="end">40</text>
<line x1="1762.1" y1="353.1" x2="1767.7" y2="353.1" stroke="#3a3a3a" stroke-width="2"/>
<text x="1755.4" y="359.1" font-size="16.5" text-anchor="end">60</text>
<line x1="1767.7" y1="508.5" x2="1767.7" y2="514.1" stroke="#3a3a3a" stroke-width="2"/>
<text x="1768.7" y="532.9" font-size="16.5" text-anchor="middle">10<tspan font-size="12" dy="-6.5">0</tspan></text>
<line x1="1878.7" y1="508.5" x2="1878.7" y2="514.1" stroke="#3a3a3a" stroke-width="2"/>
<text x="1879.7" y="532.9" font-size="16.5" text-anchor="middle">10<tspan font-size="12" dy="-6.5">2</tspan></text>
<line x1="1989.7" y1="508.5" x2="1989.7" y2="514.1" stroke="#3a3a3a" stroke-width="2"/>
<text x="1990.7" y="532.9" font-size="16.5" text-anchor="middle">10<tspan font-size="12" dy="-6.5">4</tspan></text>
<line x1="2100.7" y1="508.5" x2="2100.7" y2="514.1" stroke="#3a3a3a" stroke-width="2"/>
<text x="2101.7" y="532.9" font-size="16.5" text-anchor="middle">10<tspan font-size="12" dy="-6.5">6</tspan></text>
<text x="1942.8" y="555.5" font-size="16.5" text-anchor="middle">Unique number of fragments</text>
<text transform="translate(1724.4 417.9) rotate(-90)" font-size="16.5" text-anchor="middle">TSS enrichment</text>
<text x="1942.8" y="317.4" font-size="19.8" text-anchor="middle">ddSEQ Mouse 1 sample 5</text>
<g transform="translate(75 610)"><path fill="#341a5c" d="M186 24h2v2h-2zM190 24h2v2h-2zM200 26h2v2h-2zM202 28h2v2h-2zM188 30h2v2h-2zM190 32h2v2h-2zM186 44h2v2h-2zM206 46h2v2h-2zM206 50h2v2h-2zM188 52h2v2h-2zM200 52h2v2h-2zM192 54h2v2h-2zM202 54h2v2h-2zM194 56h2v2h-2zM200 56h2v2h-2zM208 56h2v2h-2zM188 58h2v2h-2zM186 64h2v2h-2zM190 64h2v2h-2zM198 64h4v2h-4zM192 66h6v2h-6zM194 68h6v2h-6zM184 70h2v2h-2zM192 70h2v2h-2zM196 70h6v2h-6zM186 72h18v2h-18zM188 74h18v2h-18zM186 76h22v2h-22zM182 78h4v2h-4zM188 78h20v2h-20zM184 80h24v2h-24zM210 80h2v2h-2zM182 82h4v2h-4zM188 82h24v2h-24zM182 84h28v2h-28zM212 84h2v2h-2zM172 86h4v2h-4zM182 86h28v2h-28zM176 88h2v2h-2zM180 88h34v2h-34zM222 88h2v2h-2zM176 90h26v2h-26zM204 90h6v2h-6zM212 90h6v2h-6zM224 90h2v2h-2zM176 92h10v2h-10zM188 92h20v2h-20zM210 92h6v2h-6zM230 92h2v2h-2zM164 94h2v2h-2zM172 94h4v2h-4zM178 94h22v2h-22zM202 94h16v2h-16zM172 96h22v2h-22zM196 96h22v2h-22zM222 96h2v2h-2zM170 98h4v2h-4zM176 98h10v2h-10zM188 98h8v2h-8zM200 98h16v2h-16zM218 98h2v2h-2zM226 98h2v2h-2zM172 100h10v2h-10zM184 100h38v2h-38zM170 102h6v2h-6zM178 102h12v2h-12zM192 102h32v2h-32zM166 104h56v2h-56zM224 104h2v2h-2zM160 106h4v2h-4zM168 106h38v2h-38zM208 106h18v2h-18zM228 106h2v2h-2zM232 106h2v2h-2zM162 108h2v2h-2zM166 108h38v2h-38zM206 108h20v2h-20zM228 108h2v2h-2zM166 110h38v2h-38zM206 110h22v2h-22zM230 110h2v2h-2zM164 112h30v2h-30zM196 112h32v2h-32zM232 112h2v2h-2zM156 114h4v2h-4zM162 114h70v2h-70zM234 114h2v2h-2zM154 116h2v2h-2zM158 116h2v2h-2zM162 116h4v2h-4zM168 116h36v2h-36zM206 116h28v2h-28zM158 118h60v2h-60zM220 118h20v2h-20zM154 120h2v2h-2zM160 120h78v2h-78zM256 120h2v2h-2zM158 122h26v2h-26zM186 122h18v2h-18zM206 122h2v2h-2zM210 122h30v2h-30zM148 124h2v2h-2zM156 124h50v2h-50zM208 124h34v2h-34zM154 126h18v2h-18zM174 126h62v2h-62zM238 126h2v2h-2zM242 126h2v2h-2zM152 128h78v2h-78zM232 128h10v2h-10zM244 128h4v2h-4zM154 130h32v2h-32zM188 130h6v2h-6zM196 130h32v2h-32zM230 130h8v2h-8zM240 130h10v2h-10zM152 132h2v2h-2zM156 132h20v2h-20zM178 132h6v2h-6zM186 132h50v2h-50zM238 132h6v2h-6zM246 132h6v2h-6zM154 134h32v2h-32zM188 134h16v2h-16zM206 134h44v2h-44zM258 134h2v2h-2zM150 136h18v2h-18zM170 136h44v2h-44zM216 136h42v2h-42zM148 138h108v2h-108zM258 138h4v2h-4zM148 140h14v2h-14zM164 140h16v2h-16zM182 140h2v2h-2zM186 140h4v2h-4zM194 140h22v2h-22zM218 140h36v2h-36zM256 140h6v2h-6zM148 142h34v2h-34zM184 142h80v2h-80zM138 144h4v2h-4zM144 144h22v2h-22zM168 144h8v2h-8zM178 144h80v2h-80zM260 144h2v2h-2zM264 144h2v2h-2zM146 146h12v2h-12zM160 146h16v2h-16zM178 146h24v2h-24zM204 146h46v2h-46zM252 146h10v2h-10zM264 146h2v2h-2zM142 148h20v2h-20zM164 148h40v2h-40zM206 148h26v2h-26zM234 148h6v2h-6zM242 148h14v2h-14zM258 148h4v2h-4zM264 148h4v2h-4zM134 150h2v2h-2zM144 150h124v2h-124zM142 152h128v2h-128zM140 154h30v2h-30zM172 154h16v2h-16zM190 154h70v2h-70zM262 154h8v2h-8zM130 156h2v2h-2zM138 156h130v2h-130zM270 156h2v2h-2zM130 158h4v2h-4zM136 158h4v2h-4zM142 158h16v2h-16zM160 158h2v2h-2zM164 158h18v2h-18zM184 158h4v2h-4zM190 158h6v2h-6zM200 158h10v2h-10zM212 158h4v2h-4zM220 158h4v2h-4zM230 158h2v2h-2zM234 158h2v2h-2zM238 158h16v2h-16zM256 158h8v2h-8zM130 160h64v2h-64zM196 160h4v2h-4zM206 160h8v2h-8zM218 160h6v2h-6zM228 160h2v2h-2zM232 160h2v2h-2zM236 160h2v2h-2zM240 160h2v2h-2zM244 160h12v2h-12zM264 160h2v2h-2zM270 160h2v2h-2zM108 162h2v2h-2zM124 162h6v2h-6zM134 162h30v2h-30zM168 162h14v2h-14zM186 162h2v2h-2zM194 162h2v2h-2zM198 162h2v2h-2zM204 162h4v2h-4zM212 162h4v2h-4zM218 162h2v2h-2zM224 162h2v2h-2zM228 162h6v2h-6zM246 162h2v2h-2zM250 162h2v2h-2zM256 162h2v2h-2zM260 162h2v2h-2zM264 162h2v2h-2zM110 164h2v2h-2zM122 164h4v2h-4zM128 164h30v2h-30zM160 164h4v2h-4zM166 164h6v2h-6zM174 164h8v2h-8zM198 164h2v2h-2zM202 164h2v2h-2zM210 164h8v2h-8zM224 164h4v2h-4zM230 164h4v2h-4zM240 164h2v2h-2zM256 164h2v2h-2zM96 166h2v2h-2zM110 166h2v2h-2zM116 166h58v2h-58zM176 166h6v2h-6zM188 166h10v2h-10zM202 166h4v2h-4zM212 166h4v2h-4zM218 166h2v2h-2zM226 166h2v2h-2zM240 166h2v2h-2zM250 166h2v2h-2zM262 166h4v2h-4zM268 166h2v2h-2zM78 168h2v2h-2zM100 168h2v2h-2zM104 168h2v2h-2zM108 168h28v2h-28zM138 168h36v2h-36zM188 168h2v2h-2zM198 168h2v2h-2zM210 168h4v2h-4zM238 168h2v2h-2zM70 170h2v2h-2zM76 170h2v2h-2zM98 170h32v2h-32zM132 170h2v2h-2zM136 170h38v2h-38zM176 170h2v2h-2zM190 170h2v2h-2zM236 170h2v2h-2zM244 170h4v2h-4zM250 170h2v2h-2zM52 172h2v2h-2zM62 172h2v2h-2zM70 172h2v2h-2zM74 172h8v2h-8zM86 172h22v2h-22zM110 172h16v2h-16zM128 172h14v2h-14zM144 172h6v2h-6zM152 172h20v2h-20zM214 172h2v2h-2zM230 172h2v2h-2zM234 172h2v2h-2zM248 172h2v2h-2zM258 172h2v2h-2zM268 172h2v2h-2zM64 174h2v2h-2zM72 174h12v2h-12zM86 174h50v2h-50zM138 174h32v2h-32zM176 174h2v2h-2zM190 174h2v2h-2zM232 174h4v2h-4zM244 174h2v2h-2zM248 174h2v2h-2zM258 174h2v2h-2zM56 176h2v2h-2zM60 176h58v2h-58zM120 176h12v2h-12zM134 176h20v2h-20zM156 176h6v2h-6zM164 176h6v2h-6zM174 176h2v2h-2zM186 176h2v2h-2zM212 176h2v2h-2zM222 176h2v2h-2zM266 176h2v2h-2zM54 178h22v2h-22zM78 178h4v2h-4zM84 178h2v2h-2zM88 178h24v2h-24zM114 178h2v2h-2zM120 178h8v2h-8zM130 178h22v2h-22zM156 178h12v2h-12zM170 178h2v2h-2zM176 178h2v2h-2zM188 178h2v2h-2zM210 178h2v2h-2zM230 178h2v2h-2zM262 178h2v2h-2zM52 180h2v2h-2zM58 180h2v2h-2zM62 180h2v2h-2zM66 180h2v2h-2zM70 180h4v2h-4zM78 180h2v2h-2zM90 180h2v2h-2zM100 180h4v2h-4zM106 180h2v2h-2zM140 180h2v2h-2zM144 180h2v2h-2zM148 180h2v2h-2zM154 180h4v2h-4zM160 180h2v2h-2zM166 180h2v2h-2zM170 180h2v2h-2z"/><linearGradient id="vg10" x1="0" x2="1" y1="0" y2="0"><stop offset="0.00" stop-color="#2a6f8e"/><stop offset="0.25" stop-color="#22a384"/><stop offset="0.45" stop-color="#b5dd2b"/><stop offset="0.60" stop-color="#6ccd5a"/><stop offset="0.75" stop-color="#1f9a8a"/><stop offset="0.90" stop-color="#3b528b"/><stop offset="1.00" stop-color="#3f2373"/></linearGradient><path fill="url(#vg10)" d="M55.8 180.8L55.8 178.3L92.7 175.5L129.6 174.3L129.6 180.8z"/></g>
<line x1="271.3" y1="790.8" x2="271.3" y2="609.5" stroke="#DDAA40" stroke-width="2.9" stroke-opacity="0.9"/>
<line x1="74.6" y1="769.3" x2="424.8" y2="769.3" stroke="#DDAA40" stroke-width="2.9" stroke-opacity="0.9"/>
<text x="253.8" y="631.6" font-size="19.8" text-anchor="end" fill="#E2C070" color="#E2C070">3422</text>
<text x="131.6" y="762.3" font-size="19.8" fill="#E2C070" color="#E2C070">8.2</text>
<path d="M74.6 609.5V790.8H424.8" fill="none" stroke="#3a3a3a" stroke-width="2"/>
<line x1="69" y1="790.8" x2="74.6" y2="790.8" stroke="#3a3a3a" stroke-width="2"/>
<text x="62.3" y="796.8" font-size="16.5" text-anchor="end">0</text>
<line x1="69" y1="739" x2="74.6" y2="739" stroke="#3a3a3a" stroke-width="2"/>
<text x="62.3" y="745" font-size="16.5" text-anchor="end">20</text>
<line x1="69" y1="687.2" x2="74.6" y2="687.2" stroke="#3a3a3a" stroke-width="2"/>
<text x="62.3" y="693.2" font-size="16.5" text-anchor="end">40</text>
<line x1="69" y1="635.4" x2="74.6" y2="635.4" stroke="#3a3a3a" stroke-width="2"/>
<text x="62.3" y="641.4" font-size="16.5" text-anchor="end">60</text>
<line x1="74.6" y1="790.8" x2="74.6" y2="796.4" stroke="#3a3a3a" stroke-width="2"/>
<text x="75.6" y="815.2" font-size="16.5" text-anchor="middle">10<tspan font-size="12" dy="-6.5">0</tspan></text>
<line x1="185.6" y1="790.8" x2="185.6" y2="796.4" stroke="#3a3a3a" stroke-width="2"/>
<text x="186.6" y="815.2" font-size="16.5" text-anchor="middle">10<tspan font-size="12" dy="-6.5">2</tspan></text>
<line x1="296.6" y1="790.8" x2="296.6" y2="796.4" stroke="#3a3a3a" stroke-width="2"/>
<text x="297.6" y="815.2" font-size="16.5" text-anchor="middle">10<tspan font-size="12" dy="-6.5">4</tspan></text>
<line x1="407.6" y1="790.8" x2="407.6" y2="796.4" stroke="#3a3a3a" stroke-width="2"/>
<text x="408.6" y="815.2" font-size="16.5" text-anchor="middle">10<tspan font-size="12" dy="-6.5">6</tspan></text>
<text x="249.7" y="837.8" font-size="16.5" text-anchor="middle">Unique number of fragments</text>
<text transform="translate(31.3 700.1) rotate(-90)" font-size="16.5" text-anchor="middle">TSS enrichment</text>
<text x="249.7" y="599.7" font-size="19.8" text-anchor="middle">ddSEQ Mouse 1 sample 6</text>
<g transform="translate(499 610)"><path fill="#341a5c" d="M188 48h2v2h-2zM184 56h2v2h-2zM202 56h2v2h-2zM192 60h2v2h-2zM192 64h2v2h-2zM188 66h2v2h-2zM192 66h2v2h-2zM196 68h2v2h-2zM200 70h2v2h-2zM170 74h2v2h-2zM192 74h2v2h-2zM202 74h2v2h-2zM184 76h2v2h-2zM192 76h4v2h-4zM176 78h2v2h-2zM186 78h2v2h-2zM192 78h6v2h-6zM202 78h2v2h-2zM210 78h2v2h-2zM170 80h2v2h-2zM186 80h14v2h-14zM178 82h24v2h-24zM172 84h2v2h-2zM178 84h20v2h-20zM200 84h4v2h-4zM172 86h2v2h-2zM178 86h28v2h-28zM208 86h2v2h-2zM174 88h8v2h-8zM184 88h26v2h-26zM174 90h36v2h-36zM170 92h2v2h-2zM174 92h40v2h-40zM220 92h2v2h-2zM152 94h2v2h-2zM170 94h44v2h-44zM166 96h4v2h-4zM172 96h44v2h-44zM168 98h4v2h-4zM174 98h12v2h-12zM188 98h28v2h-28zM164 100h2v2h-2zM168 100h18v2h-18zM188 100h30v2h-30zM164 102h2v2h-2zM168 102h54v2h-54zM226 102h2v2h-2zM162 104h2v2h-2zM168 104h54v2h-54zM166 106h32v2h-32zM200 106h26v2h-26zM228 106h2v2h-2zM158 108h2v2h-2zM162 108h62v2h-62zM226 108h4v2h-4zM162 110h6v2h-6zM170 110h56v2h-56zM156 112h2v2h-2zM162 112h20v2h-20zM184 112h26v2h-26zM212 112h16v2h-16zM234 112h2v2h-2zM160 114h28v2h-28zM190 114h18v2h-18zM210 114h18v2h-18zM234 114h2v2h-2zM242 114h2v2h-2zM158 116h74v2h-74zM156 118h48v2h-48zM206 118h32v2h-32zM154 120h12v2h-12zM168 120h22v2h-22zM192 120h48v2h-48zM244 120h2v2h-2zM150 122h4v2h-4zM156 122h8v2h-8zM166 122h8v2h-8zM176 122h60v2h-60zM242 122h2v2h-2zM144 124h4v2h-4zM154 124h2v2h-2zM158 124h24v2h-24zM184 124h8v2h-8zM194 124h46v2h-46zM146 126h2v2h-2zM152 126h28v2h-28zM182 126h4v2h-4zM188 126h58v2h-58zM248 126h2v2h-2zM150 128h16v2h-16zM168 128h32v2h-32zM202 128h4v2h-4zM208 128h16v2h-16zM226 128h18v2h-18zM144 130h2v2h-2zM150 130h16v2h-16zM168 130h80v2h-80zM142 132h2v2h-2zM152 132h14v2h-14zM168 132h40v2h-40zM210 132h24v2h-24zM236 132h14v2h-14zM252 132h2v2h-2zM146 134h104v2h-104zM252 134h2v2h-2zM146 136h22v2h-22zM170 136h26v2h-26zM198 136h54v2h-54zM256 136h2v2h-2zM146 138h2v2h-2zM150 138h48v2h-48zM200 138h2v2h-2zM204 138h6v2h-6zM212 138h12v2h-12zM226 138h28v2h-28zM266 138h2v2h-2zM144 140h2v2h-2zM148 140h44v2h-44zM194 140h22v2h-22zM218 140h12v2h-12zM232 140h24v2h-24zM262 140h2v2h-2zM142 142h116v2h-116zM260 142h2v2h-2zM264 142h2v2h-2zM138 144h2v2h-2zM142 144h30v2h-30zM176 144h20v2h-20zM198 144h6v2h-6zM206 144h36v2h-36zM244 144h20v2h-20zM272 144h2v2h-2zM132 146h2v2h-2zM140 146h26v2h-26zM168 146h6v2h-6zM176 146h68v2h-68zM246 146h12v2h-12zM140 148h24v2h-24zM166 148h30v2h-30zM198 148h54v2h-54zM254 148h6v2h-6zM264 148h2v2h-2zM124 150h2v2h-2zM134 150h2v2h-2zM138 150h26v2h-26zM166 150h40v2h-40zM208 150h8v2h-8zM220 150h18v2h-18zM240 150h22v2h-22zM132 152h4v2h-4zM138 152h58v2h-58zM198 152h14v2h-14zM214 152h10v2h-10zM226 152h38v2h-38zM110 154h2v2h-2zM130 154h2v2h-2zM136 154h34v2h-34zM172 154h30v2h-30zM204 154h52v2h-52zM258 154h8v2h-8zM116 156h2v2h-2zM124 156h2v2h-2zM132 156h12v2h-12zM146 156h46v2h-46zM194 156h70v2h-70zM126 158h2v2h-2zM130 158h18v2h-18zM150 158h2v2h-2zM154 158h30v2h-30zM186 158h6v2h-6zM194 158h16v2h-16zM212 158h24v2h-24zM238 158h12v2h-12zM252 158h14v2h-14zM114 160h2v2h-2zM124 160h58v2h-58zM186 160h2v2h-2zM196 160h4v2h-4zM204 160h4v2h-4zM210 160h4v2h-4zM220 160h4v2h-4zM226 160h10v2h-10zM238 160h4v2h-4zM244 160h2v2h-2zM248 160h2v2h-2zM252 160h2v2h-2zM256 160h4v2h-4zM262 160h2v2h-2zM268 160h4v2h-4zM100 162h2v2h-2zM106 162h2v2h-2zM120 162h2v2h-2zM124 162h8v2h-8zM134 162h38v2h-38zM176 162h2v2h-2zM186 162h2v2h-2zM190 162h2v2h-2zM196 162h2v2h-2zM208 162h4v2h-4zM220 162h10v2h-10zM234 162h2v2h-2zM238 162h2v2h-2zM246 162h2v2h-2zM252 162h2v2h-2zM260 162h2v2h-2zM264 162h2v2h-2zM270 162h6v2h-6zM102 164h2v2h-2zM114 164h2v2h-2zM118 164h18v2h-18zM138 164h26v2h-26zM166 164h4v2h-4zM172 164h2v2h-2zM180 164h2v2h-2zM186 164h6v2h-6zM194 164h2v2h-2zM198 164h2v2h-2zM202 164h4v2h-4zM210 164h6v2h-6zM224 164h6v2h-6zM232 164h2v2h-2zM240 164h2v2h-2zM244 164h8v2h-8zM254 164h2v2h-2zM258 164h8v2h-8zM268 164h2v2h-2zM272 164h2v2h-2zM114 166h54v2h-54zM170 166h2v2h-2zM178 166h2v2h-2zM182 166h2v2h-2zM202 166h2v2h-2zM206 166h2v2h-2zM220 166h2v2h-2zM224 166h2v2h-2zM228 166h2v2h-2zM234 166h4v2h-4zM240 166h2v2h-2zM248 166h4v2h-4zM256 166h2v2h-2zM260 166h4v2h-4zM268 166h6v2h-6zM82 168h2v2h-2zM90 168h2v2h-2zM98 168h6v2h-6zM108 168h60v2h-60zM172 168h2v2h-2zM196 168h2v2h-2zM244 168h2v2h-2zM248 168h2v2h-2zM256 168h2v2h-2zM270 168h2v2h-2zM76 170h2v2h-2zM82 170h4v2h-4zM90 170h2v2h-2zM94 170h2v2h-2zM100 170h12v2h-12zM114 170h24v2h-24zM140 170h8v2h-8zM150 170h18v2h-18zM170 170h6v2h-6zM202 170h2v2h-2zM240 170h2v2h-2zM252 170h2v2h-2zM64 172h2v2h-2zM68 172h2v2h-2zM76 172h2v2h-2zM80 172h2v2h-2zM86 172h2v2h-2zM92 172h4v2h-4zM98 172h42v2h-42zM142 172h24v2h-24zM168 172h4v2h-4zM174 172h4v2h-4zM180 172h2v2h-2zM220 172h2v2h-2zM240 172h2v2h-2zM248 172h2v2h-2zM274 172h2v2h-2zM56 174h2v2h-2zM60 174h2v2h-2zM66 174h2v2h-2zM74 174h4v2h-4zM80 174h66v2h-66zM148 174h18v2h-18zM168 174h2v2h-2zM182 174h4v2h-4zM192 174h2v2h-2zM224 174h2v2h-2zM250 174h2v2h-2zM52 176h2v2h-2zM56 176h6v2h-6zM64 176h24v2h-24zM90 176h40v2h-40zM132 176h2v2h-2zM136 176h28v2h-28zM166 176h2v2h-2zM170 176h2v2h-2zM258 176h2v2h-2zM274 176h2v2h-2zM52 178h2v2h-2zM56 178h12v2h-12zM70 178h2v2h-2zM76 178h10v2h-10zM88 178h6v2h-6zM96 178h6v2h-6zM104 178h16v2h-16zM122 178h26v2h-26zM152 178h10v2h-10zM164 178h2v2h-2zM174 178h2v2h-2zM178 178h4v2h-4zM188 178h2v2h-2zM206 178h2v2h-2zM214 178h2v2h-2zM240 178h4v2h-4zM258 178h2v2h-2zM48 180h2v2h-2zM54 180h4v2h-4zM60 180h4v2h-4zM66 180h4v2h-4zM78 180h2v2h-2zM84 180h2v2h-2zM88 180h4v2h-4zM94 180h2v2h-2zM114 180h2v2h-2zM124 180h2v2h-2zM128 180h6v2h-6zM144 180h2v2h-2zM150 180h2v2h-2zM158 180h2v2h-2zM162 180h2v2h-2z"/><linearGradient id="vg11" x1="0" x2="1" y1="0" y2="0"><stop offset="0.00" stop-color="#2a6f8e"/><stop offset="0.25" stop-color="#22a384"/><stop offset="0.45" stop-color="#b5dd2b"/><stop offset="0.60" stop-color="#6ccd5a"/><stop offset="0.75" stop-color="#1f9a8a"/><stop offset="0.90" stop-color="#3b528b"/><stop offset="1.00" stop-color="#3f2373"/></linearGradient><path fill="url(#vg11)" d="M57.8 180.8L57.8 178.3L90.7 175.5L123.6 174.3L123.6 180.8z"/></g>
<line x1="694.9" y1="790.8" x2="694.9" y2="609.5" stroke="#DDAA40" stroke-width="2.9" stroke-opacity="0.9"/>
<line x1="499.4" y1="768.6" x2="849.6" y2="768.6" stroke="#DDAA40" stroke-width="2.9" stroke-opacity="0.9"/>
<text x="677.4" y="631.6" font-size="19.8" text-anchor="end" fill="#E2C070" color="#E2C070">3739</text>
<text x="556.4" y="761.6" font-size="19.8" fill="#E2C070" color="#E2C070">8.7</text>
<path d="M499.4 609.5V790.8H849.6" fill="none" stroke="#3a3a3a" stroke-width="2"/>
<line x1="493.8" y1="790.8" x2="499.4" y2="790.8" stroke="#3a3a3a" stroke-width="2"/>
<text x="487.1" y="796.8" font-size="16.5" text-anchor="end">0</text>
<line x1="493.8" y1="739" x2="499.4" y2="739" stroke="#3a3a3a" stroke-width="2"/>
<text x="487.1" y="745" font-size="16.5" text-anchor="end">20</text>
<line x1="493.8" y1="687.2" x2="499.4" y2="687.2" stroke="#3a3a3a" stroke-width="2"/>
<text x="487.1" y="693.2" font-size="16.5" text-anchor="end">40</text>
<line x1="493.8" y1="635.4" x2="499.4" y2="635.4" stroke="#3a3a3a" stroke-width="2"/>
<text x="487.1" y="641.4" font-size="16.5" text-anchor="end">60</text>
<line x1="499.4" y1="790.8" x2="499.4" y2="796.4" stroke="#3a3a3a" stroke-width="2"/>
<text x="500.4" y="815.2" font-size="16.5" text-anchor="middle">10<tspan font-size="12" dy="-6.5">0</tspan></text>
<line x1="610.4" y1="790.8" x2="610.4" y2="796.4" stroke="#3a3a3a" stroke-width="2"/>
<text x="611.4" y="815.2" font-size="16.5" text-anchor="middle">10<tspan font-size="12" dy="-6.5">2</tspan></text>
<line x1="721.4" y1="790.8" x2="721.4" y2="796.4" stroke="#3a3a3a" stroke-width="2"/>
<text x="722.4" y="815.2" font-size="16.5" text-anchor="middle">10<tspan font-size="12" dy="-6.5">4</tspan></text>
<line x1="832.4" y1="790.8" x2="832.4" y2="796.4" stroke="#3a3a3a" stroke-width="2"/>
<text x="833.4" y="815.2" font-size="16.5" text-anchor="middle">10<tspan font-size="12" dy="-6.5">6</tspan></text>
<text x="674.5" y="837.8" font-size="16.5" text-anchor="middle">Unique number of fragments</text>
<text transform="translate(456.1 700.1) rotate(-90)" font-size="16.5" text-anchor="middle">TSS enrichment</text>
<text x="674.5" y="599.7" font-size="19.8" text-anchor="middle">ddSEQ Mouse 1 sample 7</text>
<g transform="translate(922 610)"><path fill="#341a5c" d="M190 36h2v2h-2zM194 38h2v2h-2zM198 38h2v2h-2zM204 40h4v2h-4zM198 52h2v2h-2zM190 54h2v2h-2zM192 58h2v2h-2zM196 58h4v2h-4zM192 60h2v2h-2zM198 60h2v2h-2zM198 62h2v2h-2zM204 62h2v2h-2zM198 64h2v2h-2zM204 64h2v2h-2zM196 66h6v2h-6zM194 68h8v2h-8zM192 70h10v2h-10zM204 70h2v2h-2zM186 72h2v2h-2zM190 72h12v2h-12zM188 74h6v2h-6zM196 74h14v2h-14zM188 76h18v2h-18zM184 78h2v2h-2zM188 78h18v2h-18zM184 80h24v2h-24zM180 82h30v2h-30zM212 82h2v2h-2zM174 84h2v2h-2zM182 84h12v2h-12zM196 84h16v2h-16zM214 84h2v2h-2zM174 86h2v2h-2zM182 86h12v2h-12zM196 86h18v2h-18zM226 86h2v2h-2zM170 88h4v2h-4zM178 88h2v2h-2zM182 88h12v2h-12zM196 88h22v2h-22zM178 90h16v2h-16zM196 90h18v2h-18zM216 90h2v2h-2zM222 90h2v2h-2zM176 92h44v2h-44zM224 92h2v2h-2zM228 92h2v2h-2zM174 94h6v2h-6zM182 94h36v2h-36zM174 96h28v2h-28zM204 96h16v2h-16zM168 98h2v2h-2zM172 98h40v2h-40zM214 98h8v2h-8zM168 100h44v2h-44zM214 100h6v2h-6zM222 100h2v2h-2zM226 100h2v2h-2zM170 102h16v2h-16zM188 102h6v2h-6zM196 102h8v2h-8zM206 102h20v2h-20zM228 102h2v2h-2zM168 104h40v2h-40zM210 104h8v2h-8zM220 104h4v2h-4zM228 104h2v2h-2zM156 106h2v2h-2zM166 106h22v2h-22zM190 106h4v2h-4zM196 106h16v2h-16zM214 106h14v2h-14zM234 106h2v2h-2zM164 108h66v2h-66zM162 110h2v2h-2zM166 110h32v2h-32zM202 110h26v2h-26zM164 112h30v2h-30zM196 112h6v2h-6zM204 112h26v2h-26zM232 112h4v2h-4zM162 114h4v2h-4zM168 114h66v2h-66zM160 116h8v2h-8zM170 116h26v2h-26zM200 116h14v2h-14zM216 116h4v2h-4zM222 116h14v2h-14zM238 116h2v2h-2zM158 118h2v2h-2zM162 118h18v2h-18zM182 118h18v2h-18zM202 118h12v2h-12zM216 118h24v2h-24zM242 118h2v2h-2zM252 118h2v2h-2zM152 120h2v2h-2zM160 120h38v2h-38zM200 120h26v2h-26zM228 120h14v2h-14zM154 122h2v2h-2zM158 122h14v2h-14zM174 122h14v2h-14zM190 122h34v2h-34zM228 122h14v2h-14zM154 124h2v2h-2zM158 124h8v2h-8zM170 124h10v2h-10zM182 124h62v2h-62zM246 124h4v2h-4zM150 126h4v2h-4zM156 126h90v2h-90zM154 128h30v2h-30zM186 128h62v2h-62zM152 130h24v2h-24zM178 130h30v2h-30zM210 130h14v2h-14zM226 130h28v2h-28zM150 132h68v2h-68zM220 132h6v2h-6zM228 132h4v2h-4zM234 132h6v2h-6zM242 132h12v2h-12zM262 132h2v2h-2zM146 134h4v2h-4zM152 134h32v2h-32zM186 134h14v2h-14zM202 134h52v2h-52zM148 136h40v2h-40zM190 136h28v2h-28zM220 136h36v2h-36zM258 136h2v2h-2zM146 138h2v2h-2zM152 138h22v2h-22zM176 138h26v2h-26zM204 138h30v2h-30zM236 138h18v2h-18zM256 138h4v2h-4zM142 140h2v2h-2zM148 140h60v2h-60zM210 140h38v2h-38zM250 140h10v2h-10zM262 140h4v2h-4zM146 142h18v2h-18zM166 142h76v2h-76zM244 142h20v2h-20zM266 142h2v2h-2zM144 144h62v2h-62zM208 144h22v2h-22zM232 144h32v2h-32zM268 144h2v2h-2zM272 144h2v2h-2zM144 146h42v2h-42zM188 146h80v2h-80zM276 146h2v2h-2zM140 148h2v2h-2zM146 148h46v2h-46zM194 148h26v2h-26zM222 148h24v2h-24zM248 148h18v2h-18zM138 150h2v2h-2zM144 150h30v2h-30zM176 150h42v2h-42zM220 150h30v2h-30zM252 150h14v2h-14zM268 150h2v2h-2zM136 152h2v2h-2zM140 152h8v2h-8zM150 152h14v2h-14zM166 152h28v2h-28zM196 152h72v2h-72zM270 152h2v2h-2zM274 152h2v2h-2zM140 154h6v2h-6zM148 154h12v2h-12zM162 154h108v2h-108zM140 156h20v2h-20zM162 156h96v2h-96zM260 156h14v2h-14zM126 158h2v2h-2zM134 158h2v2h-2zM138 158h42v2h-42zM182 158h2v2h-2zM186 158h12v2h-12zM200 158h18v2h-18zM220 158h40v2h-40zM262 158h6v2h-6zM270 158h4v2h-4zM124 160h2v2h-2zM130 160h6v2h-6zM138 160h42v2h-42zM182 160h6v2h-6zM192 160h2v2h-2zM196 160h6v2h-6zM204 160h6v2h-6zM216 160h6v2h-6zM226 160h4v2h-4zM232 160h4v2h-4zM238 160h4v2h-4zM248 160h2v2h-2zM254 160h4v2h-4zM262 160h2v2h-2zM268 160h2v2h-2zM272 160h4v2h-4zM280 160h2v2h-2zM118 162h2v2h-2zM122 162h2v2h-2zM128 162h32v2h-32zM162 162h14v2h-14zM178 162h2v2h-2zM182 162h4v2h-4zM194 162h2v2h-2zM198 162h4v2h-4zM206 162h2v2h-2zM210 162h2v2h-2zM214 162h6v2h-6zM222 162h4v2h-4zM230 162h4v2h-4zM236 162h2v2h-2zM240 162h2v2h-2zM252 162h2v2h-2zM256 162h4v2h-4zM272 162h12v2h-12zM102 164h2v2h-2zM122 164h58v2h-58zM182 164h6v2h-6zM190 164h6v2h-6zM200 164h2v2h-2zM204 164h6v2h-6zM214 164h2v2h-2zM218 164h2v2h-2zM226 164h2v2h-2zM236 164h2v2h-2zM252 164h4v2h-4zM258 164h2v2h-2zM262 164h2v2h-2zM266 164h2v2h-2zM270 164h2v2h-2zM274 164h2v2h-2zM282 164h2v2h-2zM104 166h4v2h-4zM110 166h2v2h-2zM116 166h2v2h-2zM120 166h40v2h-40zM162 166h6v2h-6zM170 166h6v2h-6zM200 166h4v2h-4zM214 166h4v2h-4zM220 166h2v2h-2zM230 166h2v2h-2zM236 166h2v2h-2zM240 166h4v2h-4zM254 166h2v2h-2zM266 166h4v2h-4zM284 166h2v2h-2zM98 168h4v2h-4zM104 168h2v2h-2zM112 168h4v2h-4zM118 168h12v2h-12zM132 168h2v2h-2zM136 168h12v2h-12zM152 168h20v2h-20zM174 168h4v2h-4zM188 168h2v2h-2zM196 168h2v2h-2zM232 168h2v2h-2zM246 168h2v2h-2zM250 168h2v2h-2zM264 168h4v2h-4zM82 170h2v2h-2zM98 170h2v2h-2zM102 170h32v2h-32zM136 170h42v2h-42zM192 170h2v2h-2zM212 170h2v2h-2zM228 170h2v2h-2zM250 170h2v2h-2zM256 170h2v2h-2zM262 170h2v2h-2zM278 170h2v2h-2zM52 172h2v2h-2zM56 172h2v2h-2zM62 172h2v2h-2zM72 172h6v2h-6zM92 172h80v2h-80zM178 172h2v2h-2zM192 172h2v2h-2zM206 172h2v2h-2zM214 172h2v2h-2zM232 172h2v2h-2zM250 172h2v2h-2zM268 172h2v2h-2zM280 172h2v2h-2zM48 174h2v2h-2zM58 174h2v2h-2zM62 174h4v2h-4zM76 174h68v2h-68zM146 174h20v2h-20zM168 174h4v2h-4zM174 174h2v2h-2zM230 174h2v2h-2zM264 174h2v2h-2zM278 174h2v2h-2zM54 176h2v2h-2zM58 176h2v2h-2zM62 176h58v2h-58zM124 176h10v2h-10zM136 176h30v2h-30zM168 176h2v2h-2zM174 176h2v2h-2zM184 176h2v2h-2zM198 176h2v2h-2zM202 176h2v2h-2zM222 176h2v2h-2zM250 176h2v2h-2zM258 176h2v2h-2zM272 176h2v2h-2zM284 176h2v2h-2zM52 178h2v2h-2zM56 178h36v2h-36zM94 178h2v2h-2zM98 178h52v2h-52zM152 178h16v2h-16zM174 178h2v2h-2zM190 178h2v2h-2zM196 178h4v2h-4zM252 178h2v2h-2zM264 178h2v2h-2zM52 180h2v2h-2zM58 180h2v2h-2zM62 180h2v2h-2zM66 180h4v2h-4zM78 180h2v2h-2zM90 180h4v2h-4zM96 180h2v2h-2zM100 180h6v2h-6zM108 180h2v2h-2zM122 180h6v2h-6zM136 180h12v2h-12zM158 180h2v2h-2zM162 180h2v2h-2zM166 180h2v2h-2z"/><linearGradient id="vg12" x1="0" x2="1" y1="0" y2="0"><stop offset="0.00" stop-color="#2a6f8e"/><stop offset="0.25" stop-color="#22a384"/><stop offset="0.45" stop-color="#b5dd2b"/><stop offset="0.60" stop-color="#6ccd5a"/><stop offset="0.75" stop-color="#1f9a8a"/><stop offset="0.90" stop-color="#3b528b"/><stop offset="1.00" stop-color="#3f2373"/></linearGradient><path fill="url(#vg12)" d="M57.8 180.8L57.8 178.3L96.7 175.5L135.5 174.3L135.5 180.8z"/></g>
<line x1="1128.9" y1="790.8" x2="1128.9" y2="609.5" stroke="#DDAA40" stroke-width="2.9" stroke-opacity="0.9"/>
<line x1="922.2" y1="769.1" x2="1272.4" y2="769.1" stroke="#DDAA40" stroke-width="2.9" stroke-opacity="0.9"/>
<text x="1111.4" y="631.6" font-size="19.8" text-anchor="end" fill="#E2C070" color="#E2C070">5320</text>
<text x="979.2" y="762.1" font-size="19.8" fill="#E2C070" color="#E2C070">8.3</text>
<path d="M922.2 609.5V790.8H1272.4" fill="none" stroke="#3a3a3a" stroke-width="2"/>
<line x1="916.6" y1="790.8" x2="922.2" y2="790.8" stroke="#3a3a3a" stroke-width="2"/>
<text x="909.9" y="796.8" font-size="16.5" text-anchor="end">0</text>
<line x1="916.6" y1="739" x2="922.2" y2="739" stroke="#3a3a3a" stroke-width="2"/>
<text x="909.9" y="745" font-size="16.5" text-anchor="end">20</text>
<line x1="916.6" y1="687.2" x2="922.2" y2="687.2" stroke="#3a3a3a" stroke-width="2"/>
<text x="909.9" y="693.2" font-size="16.5" text-anchor="end">40</text>
<line x1="916.6" y1="635.4" x2="922.2" y2="635.4" stroke="#3a3a3a" stroke-width="2"/>
<text x="909.9" y="641.4" font-size="16.5" text-anchor="end">60</text>
<line x1="922.2" y1="790.8" x2="922.2" y2="796.4" stroke="#3a3a3a" stroke-width="2"/>
<text x="923.2" y="815.2" font-size="16.5" text-anchor="middle">10<tspan font-size="12" dy="-6.5">0</tspan></text>
<line x1="1033.2" y1="790.8" x2="1033.2" y2="796.4" stroke="#3a3a3a" stroke-width="2"/>
<text x="1034.2" y="815.2" font-size="16.5" text-anchor="middle">10<tspan font-size="12" dy="-6.5">2</tspan></text>
<line x1="1144.2" y1="790.8" x2="1144.2" y2="796.4" stroke="#3a3a3a" stroke-width="2"/>
<text x="1145.2" y="815.2" font-size="16.5" text-anchor="middle">10<tspan font-size="12" dy="-6.5">4</tspan></text>
<line x1="1255.2" y1="790.8" x2="1255.2" y2="796.4" stroke="#3a3a3a" stroke-width="2"/>
<text x="1256.2" y="815.2" font-size="16.5" text-anchor="middle">10<tspan font-size="12" dy="-6.5">6</tspan></text>
<text x="1097.3" y="837.8" font-size="16.5" text-anchor="middle">Unique number of fragments</text>
<text transform="translate(878.9 700.1) rotate(-90)" font-size="16.5" text-anchor="middle">TSS enrichment</text>
<text x="1097.3" y="599.7" font-size="19.8" text-anchor="middle">ddSEQ Mouse 1 sample 8</text>
<g transform="translate(1344 610)"><path fill="#341a5c" d="M202 4h2v2h-2zM214 4h2v2h-2zM188 6h2v2h-2zM212 6h2v2h-2zM186 8h2v2h-2zM194 8h2v2h-2zM184 10h2v2h-2zM214 10h2v2h-2zM198 12h2v2h-2zM204 16h2v2h-2zM214 18h2v2h-2zM186 20h2v2h-2zM204 20h2v2h-2zM190 22h2v2h-2zM198 22h2v2h-2zM208 22h4v2h-4zM194 24h4v2h-4zM202 24h4v2h-4zM210 24h2v2h-2zM218 24h2v2h-2zM192 26h2v2h-2zM198 26h8v2h-8zM192 28h2v2h-2zM204 28h6v2h-6zM188 30h4v2h-4zM194 30h16v2h-16zM190 32h2v2h-2zM194 32h16v2h-16zM194 34h2v2h-2zM198 34h2v2h-2zM202 34h2v2h-2zM206 34h10v2h-10zM190 36h4v2h-4zM196 36h16v2h-16zM224 36h2v2h-2zM190 38h2v2h-2zM196 38h2v2h-2zM200 38h8v2h-8zM210 38h6v2h-6zM184 40h2v2h-2zM194 40h10v2h-10zM206 40h8v2h-8zM216 40h6v2h-6zM228 40h2v2h-2zM192 42h4v2h-4zM198 42h18v2h-18zM218 42h2v2h-2zM190 44h2v2h-2zM196 44h26v2h-26zM224 44h2v2h-2zM182 46h2v2h-2zM186 46h2v2h-2zM196 46h4v2h-4zM202 46h14v2h-14zM218 46h6v2h-6zM228 46h2v2h-2zM182 48h6v2h-6zM192 48h2v2h-2zM200 48h12v2h-12zM214 48h12v2h-12zM184 50h2v2h-2zM188 50h10v2h-10zM202 50h2v2h-2zM206 50h2v2h-2zM210 50h10v2h-10zM230 50h2v2h-2zM190 52h2v2h-2zM194 52h2v2h-2zM198 52h2v2h-2zM202 52h6v2h-6zM210 52h2v2h-2zM214 52h10v2h-10zM180 54h12v2h-12zM194 54h4v2h-4zM202 54h30v2h-30zM178 56h2v2h-2zM182 56h2v2h-2zM188 56h2v2h-2zM194 56h4v2h-4zM204 56h2v2h-2zM208 56h4v2h-4zM214 56h8v2h-8zM224 56h6v2h-6zM178 58h2v2h-2zM188 58h2v2h-2zM200 58h28v2h-28zM232 58h2v2h-2zM178 60h6v2h-6zM186 60h2v2h-2zM196 60h8v2h-8zM206 60h18v2h-18zM230 60h2v2h-2zM234 60h2v2h-2zM176 62h2v2h-2zM182 62h6v2h-6zM190 62h4v2h-4zM198 62h2v2h-2zM202 62h10v2h-10zM214 62h16v2h-16zM234 62h2v2h-2zM180 64h2v2h-2zM186 64h8v2h-8zM202 64h24v2h-24zM238 64h2v2h-2zM182 66h2v2h-2zM188 66h2v2h-2zM196 66h2v2h-2zM200 66h4v2h-4zM206 66h18v2h-18zM230 66h4v2h-4zM236 66h2v2h-2zM176 68h2v2h-2zM188 68h18v2h-18zM208 68h22v2h-22zM234 68h2v2h-2zM178 70h6v2h-6zM186 70h2v2h-2zM190 70h6v2h-6zM202 70h30v2h-30zM234 70h2v2h-2zM174 72h2v2h-2zM184 72h2v2h-2zM190 72h2v2h-2zM194 72h2v2h-2zM200 72h2v2h-2zM204 72h32v2h-32zM240 72h2v2h-2zM176 74h6v2h-6zM184 74h2v2h-2zM188 74h4v2h-4zM194 74h6v2h-6zM202 74h34v2h-34zM172 76h2v2h-2zM178 76h2v2h-2zM182 76h2v2h-2zM190 76h4v2h-4zM198 76h6v2h-6zM206 76h12v2h-12zM220 76h8v2h-8zM230 76h6v2h-6zM238 76h2v2h-2zM174 78h2v2h-2zM182 78h2v2h-2zM188 78h4v2h-4zM194 78h10v2h-10zM206 78h32v2h-32zM240 78h2v2h-2zM178 80h2v2h-2zM182 80h2v2h-2zM186 80h2v2h-2zM190 80h6v2h-6zM200 80h38v2h-38zM240 80h2v2h-2zM174 82h2v2h-2zM178 82h2v2h-2zM186 82h14v2h-14zM202 82h38v2h-38zM176 84h12v2h-12zM190 84h4v2h-4zM196 84h2v2h-2zM204 84h4v2h-4zM210 84h26v2h-26zM238 84h2v2h-2zM242 84h2v2h-2zM172 86h10v2h-10zM188 86h4v2h-4zM194 86h4v2h-4zM200 86h36v2h-36zM238 86h2v2h-2zM246 86h2v2h-2zM162 88h2v2h-2zM174 88h16v2h-16zM192 88h2v2h-2zM198 88h30v2h-30zM230 88h14v2h-14zM246 88h2v2h-2zM170 90h8v2h-8zM180 90h2v2h-2zM184 90h2v2h-2zM188 90h2v2h-2zM192 90h46v2h-46zM240 90h8v2h-8zM170 92h4v2h-4zM176 92h4v2h-4zM184 92h6v2h-6zM194 92h6v2h-6zM202 92h42v2h-42zM246 92h6v2h-6zM168 94h2v2h-2zM172 94h24v2h-24zM198 94h10v2h-10zM210 94h42v2h-42zM156 96h2v2h-2zM170 96h2v2h-2zM176 96h2v2h-2zM182 96h4v2h-4zM188 96h4v2h-4zM196 96h16v2h-16zM214 96h26v2h-26zM244 96h4v2h-4zM250 96h2v2h-2zM164 98h2v2h-2zM172 98h4v2h-4zM184 98h10v2h-10zM196 98h48v2h-48zM248 98h2v2h-2zM166 100h6v2h-6zM176 100h2v2h-2zM180 100h12v2h-12zM194 100h10v2h-10zM206 100h14v2h-14zM222 100h30v2h-30zM254 100h2v2h-2zM162 102h10v2h-10zM174 102h12v2h-12zM190 102h2v2h-2zM194 102h10v2h-10zM206 102h10v2h-10zM218 102h26v2h-26zM246 102h2v2h-2zM250 102h4v2h-4zM160 104h2v2h-2zM170 104h26v2h-26zM198 104h2v2h-2zM202 104h4v2h-4zM208 104h22v2h-22zM232 104h24v2h-24zM152 106h2v2h-2zM162 106h2v2h-2zM166 106h12v2h-12zM182 106h10v2h-10zM196 106h10v2h-10zM208 106h10v2h-10zM220 106h36v2h-36zM258 106h2v2h-2zM154 108h2v2h-2zM158 108h4v2h-4zM164 108h8v2h-8zM174 108h12v2h-12zM188 108h60v2h-60zM250 108h8v2h-8zM158 110h2v2h-2zM162 110h6v2h-6zM172 110h2v2h-2zM176 110h4v2h-4zM182 110h8v2h-8zM192 110h56v2h-56zM250 110h10v2h-10zM156 112h2v2h-2zM160 112h2v2h-2zM164 112h2v2h-2zM172 112h2v2h-2zM176 112h10v2h-10zM188 112h2v2h-2zM192 112h22v2h-22zM216 112h12v2h-12zM230 112h20v2h-20zM252 112h12v2h-12zM160 114h4v2h-4zM166 114h2v2h-2zM172 114h12v2h-12zM186 114h16v2h-16zM204 114h50v2h-50zM256 114h4v2h-4zM262 114h4v2h-4zM270 114h2v2h-2zM156 116h2v2h-2zM160 116h2v2h-2zM164 116h4v2h-4zM172 116h8v2h-8zM182 116h2v2h-2zM186 116h4v2h-4zM192 116h20v2h-20zM214 116h12v2h-12zM228 116h6v2h-6zM236 116h20v2h-20zM258 116h4v2h-4zM264 116h2v2h-2zM152 118h2v2h-2zM162 118h2v2h-2zM166 118h6v2h-6zM174 118h2v2h-2zM178 118h2v2h-2zM186 118h2v2h-2zM190 118h66v2h-66zM258 118h6v2h-6zM266 118h2v2h-2zM270 118h2v2h-2zM154 120h8v2h-8zM164 120h8v2h-8zM174 120h6v2h-6zM184 120h2v2h-2zM190 120h4v2h-4zM196 120h20v2h-20zM218 120h4v2h-4zM224 120h6v2h-6zM232 120h32v2h-32zM268 120h2v2h-2zM150 122h2v2h-2zM154 122h16v2h-16zM172 122h4v2h-4zM180 122h6v2h-6zM188 122h2v2h-2zM192 122h10v2h-10zM204 122h32v2h-32zM238 122h22v2h-22zM264 122h6v2h-6zM156 124h4v2h-4zM162 124h10v2h-10zM176 124h4v2h-4zM184 124h42v2h-42zM228 124h34v2h-34zM264 124h2v2h-2zM268 124h2v2h-2zM274 124h2v2h-2zM150 126h6v2h-6zM160 126h2v2h-2zM164 126h6v2h-6zM174 126h2v2h-2zM178 126h82v2h-82zM264 126h8v2h-8zM148 128h8v2h-8zM158 128h4v2h-4zM164 128h18v2h-18zM184 128h38v2h-38zM224 128h38v2h-38zM264 128h2v2h-2zM268 128h6v2h-6zM142 130h2v2h-2zM150 130h2v2h-2zM154 130h10v2h-10zM166 130h12v2h-12zM180 130h12v2h-12zM194 130h6v2h-6zM202 130h22v2h-22zM226 130h40v2h-40zM268 130h2v2h-2zM150 132h14v2h-14zM166 132h100v2h-100zM268 132h4v2h-4zM274 132h2v2h-2zM152 134h2v2h-2zM156 134h4v2h-4zM162 134h12v2h-12zM176 134h14v2h-14zM192 134h58v2h-58zM252 134h10v2h-10zM264 134h6v2h-6zM152 136h2v2h-2zM156 136h6v2h-6zM164 136h2v2h-2zM168 136h2v2h-2zM172 136h10v2h-10zM184 136h8v2h-8zM194 136h22v2h-22zM218 136h56v2h-56zM146 138h2v2h-2zM150 138h8v2h-8zM160 138h6v2h-6zM170 138h2v2h-2zM174 138h18v2h-18zM194 138h12v2h-12zM208 138h14v2h-14zM224 138h28v2h-28zM254 138h20v2h-20zM148 140h2v2h-2zM152 140h2v2h-2zM156 140h4v2h-4zM164 140h2v2h-2zM168 140h6v2h-6zM180 140h4v2h-4zM186 140h6v2h-6zM194 140h20v2h-20zM218 140h24v2h-24zM244 140h20v2h-20zM266 140h4v2h-4zM272 140h4v2h-4zM138 142h2v2h-2zM142 142h4v2h-4zM148 142h16v2h-16zM168 142h6v2h-6zM176 142h12v2h-12zM190 142h2v2h-2zM194 142h8v2h-8zM204 142h4v2h-4zM210 142h2v2h-2zM214 142h2v2h-2zM218 142h12v2h-12zM236 142h2v2h-2zM240 142h4v2h-4zM246 142h22v2h-22zM270 142h2v2h-2zM278 142h4v2h-4zM142 144h54v2h-54zM198 144h2v2h-2zM202 144h2v2h-2zM206 144h24v2h-24zM232 144h2v2h-2zM236 144h10v2h-10zM248 144h26v2h-26zM276 144h2v2h-2zM280 144h2v2h-2zM128 146h2v2h-2zM140 146h40v2h-40zM188 146h2v2h-2zM194 146h2v2h-2zM202 146h6v2h-6zM210 146h4v2h-4zM222 146h10v2h-10zM234 146h2v2h-2zM238 146h2v2h-2zM244 146h6v2h-6zM252 146h2v2h-2zM256 146h4v2h-4zM262 146h4v2h-4zM272 146h4v2h-4zM142 148h30v2h-30zM174 148h2v2h-2zM184 148h2v2h-2zM204 148h2v2h-2zM208 148h2v2h-2zM228 148h2v2h-2zM236 148h2v2h-2zM240 148h2v2h-2zM250 148h2v2h-2zM254 148h2v2h-2zM264 148h2v2h-2zM270 148h2v2h-2zM134 150h2v2h-2zM138 150h2v2h-2zM142 150h26v2h-26zM170 150h2v2h-2zM176 150h4v2h-4zM186 150h2v2h-2zM190 150h2v2h-2zM194 150h2v2h-2zM214 150h2v2h-2zM226 150h2v2h-2zM236 150h2v2h-2zM250 150h2v2h-2zM266 150h2v2h-2zM128 152h2v2h-2zM134 152h10v2h-10zM146 152h2v2h-2zM150 152h4v2h-4zM156 152h10v2h-10zM168 152h2v2h-2zM172 152h4v2h-4zM192 152h2v2h-2zM198 152h2v2h-2zM208 152h4v2h-4zM216 152h4v2h-4zM226 152h2v2h-2zM258 152h2v2h-2zM278 152h2v2h-2zM134 154h4v2h-4zM140 154h6v2h-6zM148 154h18v2h-18zM170 154h2v2h-2zM174 154h2v2h-2zM180 154h2v2h-2zM194 154h2v2h-2zM220 154h2v2h-2zM240 154h4v2h-4zM254 154h2v2h-2zM126 156h10v2h-10zM138 156h8v2h-8zM148 156h2v2h-2zM152 156h4v2h-4zM158 156h6v2h-6zM166 156h2v2h-2zM184 156h2v2h-2zM202 156h2v2h-2zM208 156h4v2h-4zM120 158h8v2h-8zM130 158h30v2h-30zM180 158h2v2h-2zM206 158h2v2h-2zM216 158h2v2h-2zM270 158h2v2h-2zM278 158h2v2h-2zM126 160h10v2h-10zM138 160h20v2h-20zM212 160h2v2h-2zM226 160h2v2h-2zM230 160h2v2h-2zM250 160h2v2h-2zM258 160h2v2h-2zM102 162h2v2h-2zM106 162h2v2h-2zM120 162h2v2h-2zM124 162h38v2h-38zM164 162h2v2h-2zM178 162h2v2h-2zM202 162h2v2h-2zM210 162h2v2h-2zM214 162h2v2h-2zM222 162h2v2h-2zM228 162h2v2h-2zM248 162h2v2h-2zM252 162h2v2h-2zM256 162h2v2h-2zM260 162h2v2h-2zM108 164h2v2h-2zM112 164h4v2h-4zM118 164h4v2h-4zM124 164h32v2h-32zM184 164h2v2h-2zM196 164h2v2h-2zM202 164h2v2h-2zM206 164h2v2h-2zM214 164h2v2h-2zM232 164h2v2h-2zM236 164h2v2h-2zM240 164h2v2h-2zM246 164h2v2h-2zM250 164h2v2h-2zM254 164h2v2h-2zM258 164h2v2h-2zM286 164h2v2h-2zM60 166h2v2h-2zM112 166h6v2h-6zM120 166h2v2h-2zM124 166h34v2h-34zM216 166h2v2h-2zM228 166h2v2h-2zM260 166h2v2h-2zM264 166h2v2h-2zM74 168h2v2h-2zM102 168h2v2h-2zM106 168h2v2h-2zM110 168h48v2h-48zM168 168h2v2h-2zM200 168h2v2h-2zM218 168h2v2h-2zM228 168h4v2h-4zM242 168h2v2h-2zM74 170h2v2h-2zM80 170h2v2h-2zM92 170h2v2h-2zM102 170h6v2h-6zM110 170h44v2h-44zM168 170h2v2h-2zM178 170h2v2h-2zM190 170h4v2h-4zM200 170h2v2h-2zM204 170h4v2h-4zM224 170h2v2h-2zM238 170h2v2h-2zM266 170h2v2h-2zM280 170h2v2h-2zM284 170h2v2h-2zM62 172h2v2h-2zM70 172h4v2h-4zM80 172h4v2h-4zM90 172h18v2h-18zM110 172h40v2h-40zM166 172h4v2h-4zM194 172h2v2h-2zM206 172h2v2h-2zM236 172h2v2h-2zM254 172h2v2h-2zM66 174h4v2h-4zM72 174h2v2h-2zM76 174h48v2h-48zM126 174h18v2h-18zM146 174h2v2h-2zM166 174h2v2h-2zM176 174h2v2h-2zM180 174h2v2h-2zM190 174h2v2h-2zM196 174h2v2h-2zM204 174h2v2h-2zM216 174h2v2h-2zM232 174h2v2h-2zM246 174h2v2h-2zM262 174h4v2h-4zM272 174h2v2h-2zM284 174h2v2h-2zM54 176h4v2h-4zM60 176h4v2h-4zM66 176h58v2h-58zM126 176h22v2h-22zM168 176h2v2h-2zM180 176h2v2h-2zM58 178h22v2h-22zM82 178h6v2h-6zM90 178h8v2h-8zM100 178h14v2h-14zM116 178h10v2h-10zM128 178h6v2h-6zM136 178h6v2h-6zM144 178h2v2h-2zM148 178h2v2h-2zM180 178h2v2h-2zM188 178h2v2h-2zM222 178h2v2h-2zM234 178h2v2h-2zM260 178h2v2h-2zM270 178h4v2h-4zM280 178h2v2h-2zM58 180h2v2h-2zM66 180h4v2h-4zM72 180h2v2h-2zM76 180h6v2h-6zM92 180h6v2h-6zM104 180h10v2h-10zM118 180h4v2h-4zM128 180h2v2h-2zM132 180h2v2h-2zM136 180h2v2h-2zM140 180h2v2h-2zM148 180h2v2h-2z"/><linearGradient id="vg13" x1="0" x2="1" y1="0" y2="0"><stop offset="0.00" stop-color="#2a6f8e"/><stop offset="0.25" stop-color="#22a384"/><stop offset="0.45" stop-color="#b5dd2b"/><stop offset="0.60" stop-color="#6ccd5a"/><stop offset="0.75" stop-color="#1f9a8a"/><stop offset="0.90" stop-color="#3b528b"/><stop offset="1.00" stop-color="#3f2373"/></linearGradient><path fill="url(#vg13)" d="M57.8 180.8L57.8 178.3L93.7 175.5L129.6 174.3L129.6 180.8z"/></g>
<line x1="1544.1" y1="790.8" x2="1544.1" y2="609.5" stroke="#DDAA40" stroke-width="2.9" stroke-opacity="0.9"/>
<line x1="1344.4" y1="754.4" x2="1694.6" y2="754.4" stroke="#D4CE8C" stroke-width="2.9" stroke-opacity="0.9"/>
<text x="1526.6" y="631.6" font-size="19.8" text-anchor="end" fill="#E2C070" color="#E2C070">3919</text>
<text x="1401.4" y="747.4" font-size="19.8" fill="#E2C070" color="#E2C070">13.9</text>
<path d="M1344.4 609.5V790.8H1694.6" fill="none" stroke="#3a3a3a" stroke-width="2"/>
<line x1="1338.8" y1="790.8" x2="1344.4" y2="790.8" stroke="#3a3a3a" stroke-width="2"/>
<text x="1332.1" y="796.8" font-size="16.5" text-anchor="end">0</text>
<line x1="1338.8" y1="739" x2="1344.4" y2="739" stroke="#3a3a3a" stroke-width="2"/>
<text x="1332.1" y="745" font-size="16.5" text-anchor="end">20</text>
<line x1="1338.8" y1="687.2" x2="1344.4" y2="687.2" stroke="#3a3a3a" stroke-width="2"/>
<text x="1332.1" y="693.2" font-size="16.5" text-anchor="end">40</text>
<line x1="1338.8" y1="635.4" x2="1344.4" y2="635.4" stroke="#3a3a3a" stroke-width="2"/>
<text x="1332.1" y="641.4" font-size="16.5" text-anchor="end">60</text>
<line x1="1344.4" y1="790.8" x2="1344.4" y2="796.4" stroke="#3a3a3a" stroke-width="2"/>
<text x="1345.4" y="815.2" font-size="16.5" text-anchor="middle">10<tspan font-size="12" dy="-6.5">0</tspan></text>
<line x1="1455.4" y1="790.8" x2="1455.4" y2="796.4" stroke="#3a3a3a" stroke-width="2"/>
<text x="1456.4" y="815.2" font-size="16.5" text-anchor="middle">10<tspan font-size="12" dy="-6.5">2</tspan></text>
<line x1="1566.4" y1="790.8" x2="1566.4" y2="796.4" stroke="#3a3a3a" stroke-width="2"/>
<text x="1567.4" y="815.2" font-size="16.5" text-anchor="middle">10<tspan font-size="12" dy="-6.5">4</tspan></text>
<line x1="1677.4" y1="790.8" x2="1677.4" y2="796.4" stroke="#3a3a3a" stroke-width="2"/>
<text x="1678.4" y="815.2" font-size="16.5" text-anchor="middle">10<tspan font-size="12" dy="-6.5">6</tspan></text>
<text x="1519.5" y="837.8" font-size="16.5" text-anchor="middle">Unique number of fragments</text>
<text transform="translate(1301.1 700.1) rotate(-90)" font-size="16.5" text-anchor="middle">TSS enrichment</text>
<text x="1519.5" y="599.7" font-size="19.8" text-anchor="middle">ddSEQ Mouse 2 sample 1</text>
<g transform="translate(1768 610)"><path fill="#341a5c" d="M180 0h2v2h-2zM206 0h2v2h-2zM202 6h2v2h-2zM210 6h2v2h-2zM188 8h2v2h-2zM202 8h2v2h-2zM202 14h2v2h-2zM212 14h2v2h-2zM186 16h2v2h-2zM194 16h2v2h-2zM208 16h2v2h-2zM184 18h2v2h-2zM206 18h2v2h-2zM214 18h2v2h-2zM196 20h2v2h-2zM202 20h2v2h-2zM180 22h2v2h-2zM196 22h2v2h-2zM202 24h2v2h-2zM206 24h2v2h-2zM184 26h2v2h-2zM192 26h2v2h-2zM214 26h2v2h-2zM190 28h2v2h-2zM210 30h4v2h-4zM186 32h2v2h-2zM198 32h2v2h-2zM214 32h2v2h-2zM204 34h2v2h-2zM180 36h2v2h-2zM192 40h2v2h-2zM198 40h4v2h-4zM192 42h4v2h-4zM198 42h8v2h-8zM208 42h2v2h-2zM188 44h10v2h-10zM202 44h4v2h-4zM208 44h2v2h-2zM186 46h2v2h-2zM190 46h4v2h-4zM196 46h2v2h-2zM200 46h2v2h-2zM204 46h4v2h-4zM210 46h2v2h-2zM214 46h2v2h-2zM188 48h8v2h-8zM198 48h14v2h-14zM216 48h2v2h-2zM186 50h6v2h-6zM194 50h2v2h-2zM198 50h10v2h-10zM210 50h2v2h-2zM214 50h4v2h-4zM182 52h2v2h-2zM186 52h2v2h-2zM190 52h6v2h-6zM198 52h14v2h-14zM218 52h2v2h-2zM224 52h2v2h-2zM182 54h2v2h-2zM186 54h8v2h-8zM196 54h18v2h-18zM218 54h2v2h-2zM182 56h2v2h-2zM186 56h4v2h-4zM192 56h2v2h-2zM198 56h18v2h-18zM180 58h4v2h-4zM190 58h6v2h-6zM200 58h12v2h-12zM216 58h2v2h-2zM180 60h2v2h-2zM190 60h2v2h-2zM194 60h22v2h-22zM182 62h2v2h-2zM190 62h2v2h-2zM194 62h22v2h-22zM218 62h2v2h-2zM222 62h2v2h-2zM176 64h4v2h-4zM182 64h6v2h-6zM194 64h18v2h-18zM214 64h8v2h-8zM174 66h6v2h-6zM184 66h2v2h-2zM188 66h20v2h-20zM210 66h10v2h-10zM222 66h2v2h-2zM174 68h2v2h-2zM182 68h16v2h-16zM200 68h16v2h-16zM218 68h4v2h-4zM186 70h2v2h-2zM196 70h26v2h-26zM224 70h2v2h-2zM170 72h2v2h-2zM176 72h2v2h-2zM180 72h4v2h-4zM186 72h2v2h-2zM190 72h14v2h-14zM206 72h14v2h-14zM226 72h2v2h-2zM176 74h2v2h-2zM192 74h2v2h-2zM196 74h10v2h-10zM208 74h14v2h-14zM224 74h4v2h-4zM174 76h4v2h-4zM180 76h2v2h-2zM192 76h2v2h-2zM196 76h4v2h-4zM202 76h22v2h-22zM228 76h2v2h-2zM166 78h6v2h-6zM188 78h2v2h-2zM194 78h28v2h-28zM224 78h2v2h-2zM228 78h2v2h-2zM232 78h2v2h-2zM172 80h4v2h-4zM178 80h2v2h-2zM182 80h2v2h-2zM186 80h8v2h-8zM196 80h26v2h-26zM224 80h6v2h-6zM170 82h4v2h-4zM178 82h6v2h-6zM188 82h18v2h-18zM208 82h14v2h-14zM224 82h4v2h-4zM230 82h6v2h-6zM168 84h2v2h-2zM174 84h2v2h-2zM184 84h2v2h-2zM188 84h6v2h-6zM196 84h4v2h-4zM202 84h18v2h-18zM222 84h4v2h-4zM228 84h4v2h-4zM234 84h2v2h-2zM238 84h2v2h-2zM166 86h2v2h-2zM176 86h6v2h-6zM184 86h2v2h-2zM190 86h4v2h-4zM196 86h6v2h-6zM204 86h30v2h-30zM238 86h2v2h-2zM174 88h2v2h-2zM182 88h2v2h-2zM186 88h6v2h-6zM198 88h30v2h-30zM236 88h2v2h-2zM166 90h2v2h-2zM174 90h2v2h-2zM186 90h2v2h-2zM190 90h2v2h-2zM194 90h40v2h-40zM238 90h2v2h-2zM166 92h6v2h-6zM176 92h4v2h-4zM186 92h2v2h-2zM192 92h2v2h-2zM196 92h44v2h-44zM242 92h2v2h-2zM166 94h2v2h-2zM172 94h2v2h-2zM178 94h2v2h-2zM184 94h6v2h-6zM192 94h34v2h-34zM228 94h12v2h-12zM246 94h2v2h-2zM158 96h2v2h-2zM166 96h4v2h-4zM172 96h4v2h-4zM180 96h2v2h-2zM184 96h2v2h-2zM188 96h8v2h-8zM198 96h38v2h-38zM238 96h2v2h-2zM248 96h2v2h-2zM162 98h2v2h-2zM170 98h2v2h-2zM174 98h6v2h-6zM186 98h4v2h-4zM196 98h40v2h-40zM238 98h2v2h-2zM242 98h2v2h-2zM250 98h4v2h-4zM166 100h4v2h-4zM172 100h2v2h-2zM176 100h2v2h-2zM182 100h4v2h-4zM188 100h2v2h-2zM196 100h2v2h-2zM200 100h10v2h-10zM212 100h18v2h-18zM232 100h10v2h-10zM166 102h2v2h-2zM170 102h2v2h-2zM174 102h2v2h-2zM178 102h2v2h-2zM186 102h2v2h-2zM190 102h2v2h-2zM196 102h48v2h-48zM250 102h2v2h-2zM258 102h2v2h-2zM160 104h2v2h-2zM164 104h4v2h-4zM170 104h10v2h-10zM184 104h4v2h-4zM194 104h2v2h-2zM198 104h2v2h-2zM202 104h44v2h-44zM248 104h2v2h-2zM160 106h2v2h-2zM164 106h8v2h-8zM174 106h8v2h-8zM184 106h2v2h-2zM188 106h2v2h-2zM192 106h4v2h-4zM198 106h12v2h-12zM212 106h2v2h-2zM216 106h30v2h-30zM248 106h2v2h-2zM158 108h2v2h-2zM162 108h2v2h-2zM166 108h12v2h-12zM182 108h2v2h-2zM190 108h2v2h-2zM194 108h8v2h-8zM204 108h40v2h-40zM246 108h2v2h-2zM160 110h2v2h-2zM166 110h10v2h-10zM178 110h2v2h-2zM182 110h2v2h-2zM186 110h2v2h-2zM190 110h2v2h-2zM194 110h14v2h-14zM210 110h42v2h-42zM154 112h4v2h-4zM162 112h20v2h-20zM184 112h2v2h-2zM192 112h50v2h-50zM244 112h2v2h-2zM250 112h4v2h-4zM160 114h2v2h-2zM166 114h12v2h-12zM180 114h4v2h-4zM186 114h2v2h-2zM190 114h36v2h-36zM228 114h12v2h-12zM242 114h2v2h-2zM246 114h2v2h-2zM250 114h2v2h-2zM152 116h14v2h-14zM170 116h18v2h-18zM190 116h2v2h-2zM194 116h14v2h-14zM210 116h2v2h-2zM214 116h6v2h-6zM222 116h20v2h-20zM244 116h4v2h-4zM250 116h4v2h-4zM152 118h2v2h-2zM160 118h10v2h-10zM172 118h2v2h-2zM176 118h2v2h-2zM180 118h4v2h-4zM186 118h6v2h-6zM194 118h4v2h-4zM200 118h2v2h-2zM204 118h22v2h-22zM228 118h28v2h-28zM154 120h36v2h-36zM192 120h4v2h-4zM198 120h10v2h-10zM210 120h20v2h-20zM232 120h12v2h-12zM246 120h2v2h-2zM250 120h2v2h-2zM150 122h2v2h-2zM156 122h4v2h-4zM164 122h2v2h-2zM168 122h8v2h-8zM178 122h2v2h-2zM182 122h8v2h-8zM194 122h50v2h-50zM248 122h8v2h-8zM152 124h6v2h-6zM162 124h4v2h-4zM168 124h6v2h-6zM176 124h4v2h-4zM184 124h8v2h-8zM194 124h20v2h-20zM218 124h12v2h-12zM232 124h2v2h-2zM236 124h16v2h-16zM258 124h4v2h-4zM150 126h12v2h-12zM164 126h4v2h-4zM170 126h2v2h-2zM174 126h18v2h-18zM196 126h4v2h-4zM204 126h38v2h-38zM244 126h8v2h-8zM256 126h4v2h-4zM262 126h2v2h-2zM148 128h2v2h-2zM158 128h4v2h-4zM164 128h6v2h-6zM174 128h10v2h-10zM186 128h2v2h-2zM190 128h2v2h-2zM198 128h32v2h-32zM232 128h8v2h-8zM242 128h6v2h-6zM250 128h6v2h-6zM260 128h2v2h-2zM142 130h2v2h-2zM148 130h2v2h-2zM154 130h12v2h-12zM168 130h20v2h-20zM190 130h2v2h-2zM194 130h14v2h-14zM212 130h46v2h-46zM260 130h2v2h-2zM146 132h2v2h-2zM156 132h4v2h-4zM166 132h10v2h-10zM178 132h16v2h-16zM196 132h2v2h-2zM200 132h30v2h-30zM234 132h26v2h-26zM158 134h2v2h-2zM162 134h24v2h-24zM190 134h12v2h-12zM204 134h32v2h-32zM238 134h14v2h-14zM254 134h4v2h-4zM264 134h2v2h-2zM144 136h2v2h-2zM150 136h4v2h-4zM156 136h6v2h-6zM166 136h2v2h-2zM170 136h4v2h-4zM176 136h52v2h-52zM230 136h32v2h-32zM266 136h2v2h-2zM142 138h2v2h-2zM150 138h2v2h-2zM154 138h26v2h-26zM182 138h2v2h-2zM186 138h10v2h-10zM200 138h8v2h-8zM210 138h18v2h-18zM230 138h2v2h-2zM234 138h32v2h-32zM140 140h4v2h-4zM152 140h18v2h-18zM172 140h4v2h-4zM178 140h2v2h-2zM186 140h18v2h-18zM206 140h4v2h-4zM212 140h18v2h-18zM232 140h20v2h-20zM142 142h2v2h-2zM150 142h4v2h-4zM156 142h2v2h-2zM160 142h10v2h-10zM172 142h2v2h-2zM178 142h2v2h-2zM184 142h4v2h-4zM190 142h12v2h-12zM204 142h10v2h-10zM216 142h4v2h-4zM222 142h2v2h-2zM230 142h2v2h-2zM236 142h10v2h-10zM248 142h4v2h-4zM254 142h2v2h-2zM258 142h4v2h-4zM140 144h52v2h-52zM194 144h16v2h-16zM212 144h28v2h-28zM242 144h4v2h-4zM248 144h16v2h-16zM142 146h14v2h-14zM158 146h26v2h-26zM186 146h2v2h-2zM190 146h2v2h-2zM196 146h8v2h-8zM206 146h6v2h-6zM222 146h4v2h-4zM230 146h2v2h-2zM234 146h12v2h-12zM252 146h6v2h-6zM260 146h2v2h-2zM264 146h2v2h-2zM136 148h18v2h-18zM156 148h18v2h-18zM178 148h4v2h-4zM194 148h4v2h-4zM204 148h6v2h-6zM216 148h2v2h-2zM222 148h2v2h-2zM226 148h2v2h-2zM238 148h2v2h-2zM242 148h10v2h-10zM254 148h4v2h-4zM262 148h2v2h-2zM268 148h2v2h-2zM284 148h2v2h-2zM134 150h24v2h-24zM160 150h18v2h-18zM182 150h2v2h-2zM190 150h2v2h-2zM210 150h2v2h-2zM216 150h2v2h-2zM220 150h4v2h-4zM226 150h2v2h-2zM232 150h6v2h-6zM242 150h6v2h-6zM250 150h2v2h-2zM258 150h2v2h-2zM262 150h2v2h-2zM134 152h22v2h-22zM158 152h16v2h-16zM178 152h2v2h-2zM182 152h2v2h-2zM188 152h2v2h-2zM196 152h2v2h-2zM208 152h2v2h-2zM214 152h2v2h-2zM242 152h2v2h-2zM248 152h6v2h-6zM256 152h4v2h-4zM262 152h2v2h-2zM132 154h24v2h-24zM158 154h18v2h-18zM184 154h2v2h-2zM188 154h2v2h-2zM198 154h2v2h-2zM204 154h4v2h-4zM240 154h2v2h-2zM244 154h2v2h-2zM254 154h8v2h-8zM130 156h42v2h-42zM240 156h2v2h-2zM248 156h2v2h-2zM254 156h4v2h-4zM260 156h4v2h-4zM272 156h2v2h-2zM128 158h20v2h-20zM150 158h22v2h-22zM196 158h4v2h-4zM210 158h4v2h-4zM230 158h2v2h-2zM242 158h4v2h-4zM248 158h4v2h-4zM254 158h4v2h-4zM262 158h2v2h-2zM268 158h4v2h-4zM282 158h2v2h-2zM124 160h6v2h-6zM132 160h36v2h-36zM182 160h2v2h-2zM198 160h2v2h-2zM202 160h2v2h-2zM206 160h2v2h-2zM226 160h2v2h-2zM252 160h2v2h-2zM262 160h2v2h-2zM116 162h4v2h-4zM124 162h2v2h-2zM128 162h32v2h-32zM162 162h6v2h-6zM170 162h2v2h-2zM174 162h2v2h-2zM198 162h2v2h-2zM210 162h2v2h-2zM216 162h2v2h-2zM230 162h2v2h-2zM234 162h2v2h-2zM246 162h2v2h-2zM256 162h2v2h-2zM282 162h2v2h-2zM74 164h2v2h-2zM82 164h2v2h-2zM118 164h2v2h-2zM122 164h8v2h-8zM132 164h26v2h-26zM160 164h8v2h-8zM238 164h2v2h-2zM274 164h2v2h-2zM278 164h2v2h-2zM84 166h2v2h-2zM98 166h2v2h-2zM104 166h2v2h-2zM112 166h54v2h-54zM208 166h2v2h-2zM216 166h2v2h-2zM254 166h2v2h-2zM258 166h2v2h-2zM280 166h2v2h-2zM78 168h4v2h-4zM92 168h2v2h-2zM104 168h2v2h-2zM110 168h2v2h-2zM114 168h12v2h-12zM128 168h32v2h-32zM162 168h2v2h-2zM166 168h2v2h-2zM172 168h2v2h-2zM178 168h2v2h-2zM206 168h2v2h-2zM210 168h2v2h-2zM226 168h2v2h-2zM246 168h2v2h-2zM76 170h2v2h-2zM80 170h2v2h-2zM94 170h2v2h-2zM102 170h44v2h-44zM148 170h4v2h-4zM154 170h6v2h-6zM164 170h2v2h-2zM168 170h2v2h-2zM172 170h2v2h-2zM180 170h2v2h-2zM208 170h2v2h-2zM212 170h2v2h-2zM244 170h6v2h-6zM284 170h2v2h-2zM58 172h4v2h-4zM64 172h4v2h-4zM70 172h2v2h-2zM76 172h4v2h-4zM88 172h2v2h-2zM92 172h4v2h-4zM98 172h16v2h-16zM116 172h12v2h-12zM130 172h32v2h-32zM164 172h2v2h-2zM170 172h2v2h-2zM180 172h2v2h-2zM254 172h2v2h-2zM52 174h2v2h-2zM60 174h2v2h-2zM68 174h18v2h-18zM88 174h6v2h-6zM96 174h60v2h-60zM158 174h2v2h-2zM178 174h4v2h-4zM192 174h2v2h-2zM198 174h2v2h-2zM224 174h2v2h-2zM52 176h2v2h-2zM56 176h88v2h-88zM146 176h12v2h-12zM160 176h2v2h-2zM170 176h2v2h-2zM210 176h4v2h-4zM232 176h2v2h-2zM246 176h2v2h-2zM254 176h2v2h-2zM258 176h2v2h-2zM266 176h2v2h-2zM276 176h2v2h-2zM52 178h2v2h-2zM56 178h8v2h-8zM66 178h4v2h-4zM72 178h4v2h-4zM78 178h4v2h-4zM88 178h40v2h-40zM130 178h8v2h-8zM140 178h16v2h-16zM158 178h2v2h-2zM172 178h2v2h-2zM178 178h4v2h-4zM186 178h2v2h-2zM204 178h2v2h-2zM208 178h2v2h-2zM222 178h2v2h-2zM278 178h2v2h-2zM56 180h2v2h-2zM60 180h10v2h-10zM72 180h2v2h-2zM76 180h2v2h-2zM80 180h2v2h-2zM84 180h2v2h-2zM90 180h2v2h-2zM94 180h2v2h-2zM98 180h2v2h-2zM110 180h2v2h-2zM114 180h4v2h-4zM120 180h8v2h-8zM132 180h4v2h-4zM150 180h2v2h-2zM154 180h2v2h-2z"/><linearGradient id="vg14" x1="0" x2="1" y1="0" y2="0"><stop offset="0.00" stop-color="#2a6f8e"/><stop offset="0.25" stop-color="#22a384"/><stop offset="0.45" stop-color="#b5dd2b"/><stop offset="0.60" stop-color="#6ccd5a"/><stop offset="0.75" stop-color="#1f9a8a"/><stop offset="0.90" stop-color="#3b528b"/><stop offset="1.00" stop-color="#3f2373"/></linearGradient><path fill="url(#vg14)" d="M55.8 180.8L55.8 178.3L95.7 175.5L135.5 174.3L135.5 180.8z"/></g>
<line x1="1960.6" y1="790.8" x2="1960.6" y2="609.5" stroke="#DDAA40" stroke-width="2.9" stroke-opacity="0.9"/>
<line x1="1767.7" y1="755.1" x2="2117.9" y2="755.1" stroke="#D4CE8C" stroke-width="2.9" stroke-opacity="0.9"/>
<text x="1943.1" y="631.6" font-size="19.8" text-anchor="end" fill="#E2C070" color="#E2C070">2943</text>
<text x="1824.7" y="748.1" font-size="19.8" fill="#E2C070" color="#E2C070">13.7</text>
<path d="M1767.7 609.5V790.8H2117.9" fill="none" stroke="#3a3a3a" stroke-width="2"/>
<line x1="1762.1" y1="790.8" x2="1767.7" y2="790.8" stroke="#3a3a3a" stroke-width="2"/>
<text x="1755.4" y="796.8" font-size="16.5" text-anchor="end">0</text>
<line x1="1762.1" y1="739" x2="1767.7" y2="739" stroke="#3a3a3a" stroke-width="2"/>
<text x="1755.4" y="745" font-size="16.5" text-anchor="end">20</text>
<line x1="1762.1" y1="687.2" x2="1767.7" y2="687.2" stroke="#3a3a3a" stroke-width="2"/>
<text x="1755.4" y="693.2" font-size="16.5" text-anchor="end">40</text>
<line x1="1762.1" y1="635.4" x2="1767.7" y2="635.4" stroke="#3a3a3a" stroke-width="2"/>
<text x="1755.4" y="641.4" font-size="16.5" text-anchor="end">60</text>
<line x1="1767.7" y1="790.8" x2="1767.7" y2="796.4" stroke="#3a3a3a" stroke-width="2"/>
<text x="1768.7" y="815.2" font-size="16.5" text-anchor="middle">10<tspan font-size="12" dy="-6.5">0</tspan></text>
<line x1="1878.7" y1="790.8" x2="1878.7" y2="796.4" stroke="#3a3a3a" stroke-width="2"/>
<text x="1879.7" y="815.2" font-size="16.5" text-anchor="middle">10<tspan font-size="12" dy="-6.5">2</tspan></text>
<line x1="1989.7" y1="790.8" x2="1989.7" y2="796.4" stroke="#3a3a3a" stroke-width="2"/>
<text x="1990.7" y="815.2" font-size="16.5" text-anchor="middle">10<tspan font-size="12" dy="-6.5">4</tspan></text>
<line x1="2100.7" y1="790.8" x2="2100.7" y2="796.4" stroke="#3a3a3a" stroke-width="2"/>
<text x="2101.7" y="815.2" font-size="16.5" text-anchor="middle">10<tspan font-size="12" dy="-6.5">6</tspan></text>
<text x="1942.8" y="837.8" font-size="16.5" text-anchor="middle">Unique number of fragments</text>
<text transform="translate(1724.4 700.1) rotate(-90)" font-size="16.5" text-anchor="middle">TSS enrichment</text>
<text x="1942.8" y="599.7" font-size="19.8" text-anchor="middle">ddSEQ Mouse 2 sample 2</text>
<g transform="translate(75 892)"><path fill="#341a5c" d="M192 0h2v2h-2zM198 0h2v2h-2zM194 2h4v2h-4zM204 2h2v2h-2zM212 2h2v2h-2zM194 6h2v2h-2zM198 6h2v2h-2zM208 6h2v2h-2zM196 8h2v2h-2zM206 8h2v2h-2zM202 10h2v2h-2zM192 12h2v2h-2zM196 12h4v2h-4zM204 12h2v2h-2zM198 14h2v2h-2zM202 14h2v2h-2zM208 14h2v2h-2zM190 16h2v2h-2zM194 16h2v2h-2zM198 16h12v2h-12zM190 18h4v2h-4zM196 18h14v2h-14zM190 20h4v2h-4zM196 20h14v2h-14zM194 22h2v2h-2zM204 22h2v2h-2zM190 24h2v2h-2zM194 24h4v2h-4zM208 24h2v2h-2zM190 26h6v2h-6zM200 26h2v2h-2zM204 26h6v2h-6zM190 28h2v2h-2zM194 28h6v2h-6zM202 28h2v2h-2zM190 30h2v2h-2zM194 30h2v2h-2zM200 30h2v2h-2zM204 30h2v2h-2zM196 32h2v2h-2zM208 32h2v2h-2zM196 34h4v2h-4zM204 34h2v2h-2zM208 34h2v2h-2zM200 36h2v2h-2zM206 36h2v2h-2zM192 38h8v2h-8zM178 40h2v2h-2zM182 40h2v2h-2zM186 40h2v2h-2zM194 40h2v2h-2zM198 40h2v2h-2zM208 40h2v2h-2zM182 42h2v2h-2zM190 42h2v2h-2zM196 42h14v2h-14zM178 44h2v2h-2zM182 44h2v2h-2zM196 44h2v2h-2zM200 44h10v2h-10zM186 46h2v2h-2zM190 46h4v2h-4zM198 46h8v2h-8zM208 46h2v2h-2zM212 46h2v2h-2zM216 46h2v2h-2zM180 48h2v2h-2zM188 48h4v2h-4zM214 48h2v2h-2zM220 48h2v2h-2zM188 50h2v2h-2zM200 50h4v2h-4zM206 50h12v2h-12zM188 52h2v2h-2zM206 52h2v2h-2zM210 52h2v2h-2zM214 52h2v2h-2zM222 52h2v2h-2zM208 54h2v2h-2zM214 54h4v2h-4zM176 56h2v2h-2zM190 56h2v2h-2zM202 56h2v2h-2zM210 56h12v2h-12zM180 58h2v2h-2zM188 58h2v2h-2zM194 58h2v2h-2zM210 58h2v2h-2zM220 58h2v2h-2zM224 58h4v2h-4zM196 60h4v2h-4zM202 60h4v2h-4zM208 60h2v2h-2zM212 60h6v2h-6zM220 60h2v2h-2zM224 60h2v2h-2zM190 62h2v2h-2zM194 62h2v2h-2zM200 62h6v2h-6zM208 62h6v2h-6zM216 62h4v2h-4zM222 62h2v2h-2zM186 64h2v2h-2zM196 64h4v2h-4zM202 64h6v2h-6zM210 64h12v2h-12zM224 64h2v2h-2zM172 66h2v2h-2zM194 66h6v2h-6zM202 66h6v2h-6zM210 66h2v2h-2zM214 66h6v2h-6zM224 66h2v2h-2zM172 68h2v2h-2zM186 68h2v2h-2zM190 68h8v2h-8zM202 68h4v2h-4zM208 68h4v2h-4zM214 68h6v2h-6zM222 68h2v2h-2zM178 70h2v2h-2zM190 70h4v2h-4zM198 70h2v2h-2zM202 70h20v2h-20zM224 70h4v2h-4zM192 72h6v2h-6zM202 72h4v2h-4zM208 72h4v2h-4zM214 72h6v2h-6zM222 72h4v2h-4zM174 74h2v2h-2zM178 74h2v2h-2zM192 74h2v2h-2zM200 74h6v2h-6zM210 74h18v2h-18zM230 74h2v2h-2zM192 76h2v2h-2zM202 76h4v2h-4zM210 76h4v2h-4zM216 76h16v2h-16zM172 78h2v2h-2zM190 78h4v2h-4zM198 78h2v2h-2zM202 78h2v2h-2zM212 78h16v2h-16zM246 78h2v2h-2zM182 80h2v2h-2zM188 80h2v2h-2zM196 80h8v2h-8zM206 80h2v2h-2zM210 80h2v2h-2zM214 80h12v2h-12zM228 80h4v2h-4zM184 82h2v2h-2zM198 82h2v2h-2zM202 82h2v2h-2zM208 82h10v2h-10zM220 82h8v2h-8zM190 84h8v2h-8zM202 84h2v2h-2zM210 84h4v2h-4zM216 84h18v2h-18zM236 84h2v2h-2zM166 86h2v2h-2zM190 86h6v2h-6zM198 86h10v2h-10zM212 86h16v2h-16zM230 86h6v2h-6zM170 88h4v2h-4zM186 88h2v2h-2zM204 88h2v2h-2zM208 88h26v2h-26zM236 88h2v2h-2zM246 88h2v2h-2zM174 90h2v2h-2zM178 90h2v2h-2zM188 90h2v2h-2zM196 90h2v2h-2zM200 90h4v2h-4zM208 90h2v2h-2zM212 90h4v2h-4zM218 90h18v2h-18zM238 90h2v2h-2zM172 92h4v2h-4zM200 92h2v2h-2zM204 92h6v2h-6zM214 92h10v2h-10zM226 92h16v2h-16zM172 94h8v2h-8zM182 94h2v2h-2zM192 94h4v2h-4zM198 94h8v2h-8zM208 94h2v2h-2zM212 94h26v2h-26zM156 96h6v2h-6zM164 96h14v2h-14zM182 96h4v2h-4zM200 96h2v2h-2zM208 96h22v2h-22zM232 96h10v2h-10zM244 96h4v2h-4zM152 98h2v2h-2zM162 98h10v2h-10zM174 98h2v2h-2zM182 98h10v2h-10zM194 98h4v2h-4zM200 98h4v2h-4zM206 98h2v2h-2zM210 98h2v2h-2zM214 98h20v2h-20zM236 98h8v2h-8zM246 98h4v2h-4zM156 100h8v2h-8zM168 100h2v2h-2zM172 100h16v2h-16zM192 100h10v2h-10zM204 100h2v2h-2zM208 100h2v2h-2zM212 100h34v2h-34zM158 102h8v2h-8zM168 102h36v2h-36zM206 102h2v2h-2zM210 102h34v2h-34zM246 102h2v2h-2zM160 104h16v2h-16zM178 104h30v2h-30zM212 104h34v2h-34zM252 104h6v2h-6zM154 106h22v2h-22zM178 106h16v2h-16zM196 106h6v2h-6zM204 106h2v2h-2zM208 106h2v2h-2zM212 106h22v2h-22zM236 106h12v2h-12zM250 106h4v2h-4zM256 106h4v2h-4zM148 108h2v2h-2zM152 108h2v2h-2zM156 108h40v2h-40zM198 108h20v2h-20zM220 108h20v2h-20zM242 108h10v2h-10zM260 108h2v2h-2zM154 110h10v2h-10zM166 110h38v2h-38zM206 110h2v2h-2zM212 110h20v2h-20zM234 110h14v2h-14zM254 110h2v2h-2zM258 110h2v2h-2zM148 112h2v2h-2zM158 112h6v2h-6zM166 112h36v2h-36zM208 112h4v2h-4zM214 112h12v2h-12zM228 112h10v2h-10zM240 112h6v2h-6zM248 112h8v2h-8zM262 112h2v2h-2zM152 114h4v2h-4zM158 114h6v2h-6zM166 114h14v2h-14zM182 114h12v2h-12zM196 114h12v2h-12zM210 114h6v2h-6zM218 114h26v2h-26zM246 114h10v2h-10zM260 114h2v2h-2zM150 116h2v2h-2zM156 116h16v2h-16zM174 116h24v2h-24zM202 116h14v2h-14zM220 116h36v2h-36zM152 118h4v2h-4zM158 118h46v2h-46zM206 118h2v2h-2zM210 118h30v2h-30zM244 118h4v2h-4zM250 118h6v2h-6zM258 118h2v2h-2zM262 118h2v2h-2zM144 120h2v2h-2zM148 120h50v2h-50zM200 120h2v2h-2zM208 120h2v2h-2zM212 120h10v2h-10zM224 120h38v2h-38zM142 122h2v2h-2zM150 122h4v2h-4zM156 122h32v2h-32zM190 122h2v2h-2zM194 122h6v2h-6zM202 122h4v2h-4zM208 122h48v2h-48zM258 122h4v2h-4zM146 124h14v2h-14zM162 124h14v2h-14zM178 124h26v2h-26zM206 124h2v2h-2zM210 124h50v2h-50zM142 126h2v2h-2zM146 126h2v2h-2zM150 126h4v2h-4zM156 126h22v2h-22zM180 126h14v2h-14zM196 126h8v2h-8zM206 126h4v2h-4zM214 126h48v2h-48zM138 128h2v2h-2zM146 128h2v2h-2zM150 128h50v2h-50zM202 128h2v2h-2zM206 128h34v2h-34zM242 128h14v2h-14zM258 128h10v2h-10zM146 130h2v2h-2zM150 130h2v2h-2zM154 130h16v2h-16zM172 130h30v2h-30zM208 130h4v2h-4zM214 130h12v2h-12zM228 130h18v2h-18zM248 130h18v2h-18zM268 130h2v2h-2zM142 132h24v2h-24zM170 132h30v2h-30zM204 132h54v2h-54zM260 132h12v2h-12zM142 134h60v2h-60zM204 134h24v2h-24zM230 134h22v2h-22zM256 134h6v2h-6zM264 134h4v2h-4zM138 136h2v2h-2zM142 136h16v2h-16zM160 136h22v2h-22zM184 136h14v2h-14zM202 136h2v2h-2zM210 136h40v2h-40zM252 136h12v2h-12zM136 138h4v2h-4zM142 138h2v2h-2zM146 138h46v2h-46zM194 138h6v2h-6zM202 138h4v2h-4zM208 138h42v2h-42zM252 138h16v2h-16zM138 140h2v2h-2zM142 140h32v2h-32zM176 140h4v2h-4zM182 140h22v2h-22zM206 140h2v2h-2zM210 140h6v2h-6zM218 140h2v2h-2zM222 140h2v2h-2zM226 140h34v2h-34zM264 140h2v2h-2zM270 140h2v2h-2zM136 142h2v2h-2zM140 142h2v2h-2zM144 142h6v2h-6zM152 142h40v2h-40zM194 142h4v2h-4zM202 142h2v2h-2zM210 142h12v2h-12zM224 142h20v2h-20zM246 142h12v2h-12zM260 142h10v2h-10zM138 144h66v2h-66zM206 144h4v2h-4zM212 144h2v2h-2zM216 144h50v2h-50zM136 146h2v2h-2zM144 146h10v2h-10zM156 146h22v2h-22zM180 146h16v2h-16zM198 146h2v2h-2zM202 146h18v2h-18zM224 146h16v2h-16zM242 146h12v2h-12zM258 146h4v2h-4zM264 146h2v2h-2zM138 148h52v2h-52zM192 148h8v2h-8zM202 148h2v2h-2zM208 148h10v2h-10zM220 148h46v2h-46zM136 150h48v2h-48zM186 150h14v2h-14zM202 150h20v2h-20zM224 150h2v2h-2zM228 150h14v2h-14zM244 150h2v2h-2zM248 150h16v2h-16zM134 152h28v2h-28zM164 152h20v2h-20zM186 152h4v2h-4zM192 152h10v2h-10zM210 152h2v2h-2zM218 152h2v2h-2zM222 152h2v2h-2zM226 152h4v2h-4zM232 152h2v2h-2zM246 152h2v2h-2zM250 152h4v2h-4zM262 152h6v2h-6zM272 152h2v2h-2zM120 154h2v2h-2zM128 154h68v2h-68zM198 154h2v2h-2zM220 154h2v2h-2zM224 154h2v2h-2zM230 154h2v2h-2zM244 154h4v2h-4zM268 154h2v2h-2zM118 156h2v2h-2zM122 156h2v2h-2zM126 156h2v2h-2zM130 156h30v2h-30zM162 156h18v2h-18zM182 156h18v2h-18zM208 156h2v2h-2zM226 156h2v2h-2zM252 156h2v2h-2zM256 156h2v2h-2zM266 156h2v2h-2zM118 158h2v2h-2zM122 158h2v2h-2zM128 158h58v2h-58zM188 158h6v2h-6zM198 158h2v2h-2zM258 158h4v2h-4zM80 160h2v2h-2zM122 160h2v2h-2zM126 160h28v2h-28zM156 160h40v2h-40zM256 160h2v2h-2zM264 160h2v2h-2zM268 160h2v2h-2zM102 162h2v2h-2zM116 162h2v2h-2zM120 162h30v2h-30zM152 162h40v2h-40zM198 162h2v2h-2zM206 162h2v2h-2zM220 162h2v2h-2zM228 162h2v2h-2zM270 162h2v2h-2zM274 162h2v2h-2zM112 164h8v2h-8zM124 164h54v2h-54zM180 164h10v2h-10zM194 164h2v2h-2zM204 164h2v2h-2zM208 164h2v2h-2zM216 164h2v2h-2zM232 164h2v2h-2zM252 164h2v2h-2zM258 164h2v2h-2zM100 166h4v2h-4zM116 166h6v2h-6zM124 166h32v2h-32zM158 166h28v2h-28zM196 166h2v2h-2zM202 166h2v2h-2zM206 166h4v2h-4zM226 166h2v2h-2zM238 166h2v2h-2zM246 166h2v2h-2zM84 168h2v2h-2zM88 168h2v2h-2zM98 168h4v2h-4zM106 168h8v2h-8zM116 168h26v2h-26zM144 168h38v2h-38zM184 168h2v2h-2zM188 168h2v2h-2zM250 168h2v2h-2zM260 168h2v2h-2zM54 170h2v2h-2zM74 170h2v2h-2zM88 170h2v2h-2zM94 170h2v2h-2zM98 170h46v2h-46zM148 170h4v2h-4zM154 170h28v2h-28zM186 170h2v2h-2zM190 170h2v2h-2zM270 170h2v2h-2zM52 172h2v2h-2zM60 172h2v2h-2zM66 172h2v2h-2zM72 172h4v2h-4zM78 172h4v2h-4zM84 172h2v2h-2zM88 172h82v2h-82zM172 172h2v2h-2zM176 172h4v2h-4zM190 172h4v2h-4zM222 172h2v2h-2zM236 172h4v2h-4zM242 172h2v2h-2zM58 174h4v2h-4zM64 174h2v2h-2zM68 174h2v2h-2zM72 174h2v2h-2zM76 174h40v2h-40zM118 174h24v2h-24zM144 174h18v2h-18zM164 174h8v2h-8zM174 174h2v2h-2zM180 174h4v2h-4zM188 174h2v2h-2zM242 174h2v2h-2zM48 176h2v2h-2zM62 176h10v2h-10zM74 176h32v2h-32zM108 176h56v2h-56zM174 176h2v2h-2zM184 176h2v2h-2zM192 176h2v2h-2zM218 176h2v2h-2zM226 176h2v2h-2zM240 176h2v2h-2zM270 176h2v2h-2zM52 178h16v2h-16zM70 178h2v2h-2zM74 178h38v2h-38zM114 178h30v2h-30zM146 178h10v2h-10zM158 178h4v2h-4zM166 178h2v2h-2zM182 178h2v2h-2zM196 178h2v2h-2zM216 178h2v2h-2zM238 178h2v2h-2zM246 178h2v2h-2zM272 178h2v2h-2zM52 180h2v2h-2zM58 180h2v2h-2zM64 180h6v2h-6zM72 180h2v2h-2zM78 180h4v2h-4zM84 180h2v2h-2zM96 180h6v2h-6zM104 180h6v2h-6zM112 180h4v2h-4zM120 180h2v2h-2zM124 180h2v2h-2zM130 180h2v2h-2zM134 180h4v2h-4zM140 180h2v2h-2zM154 180h6v2h-6zM164 180h4v2h-4z"/><linearGradient id="vg15" x1="0" x2="1" y1="0" y2="0"><stop offset="0.00" stop-color="#2a6f8e"/><stop offset="0.25" stop-color="#22a384"/><stop offset="0.45" stop-color="#b5dd2b"/><stop offset="0.60" stop-color="#6ccd5a"/><stop offset="0.75" stop-color="#1f9a8a"/><stop offset="0.90" stop-color="#3b528b"/><stop offset="1.00" stop-color="#3f2373"/></linearGradient><path fill="url(#vg15)" d="M57.8 181.1L57.8 178.6L90.7 175.8L123.6 174.6L123.6 181.1z"/></g>
<line x1="281.3" y1="1073.1" x2="281.3" y2="891.8" stroke="#DDAA40" stroke-width="2.9" stroke-opacity="0.9"/>
<line x1="74.6" y1="1041.5" x2="424.8" y2="1041.5" stroke="#D4CE8C" stroke-width="2.9" stroke-opacity="0.9"/>
<text x="263.8" y="913.9" font-size="19.8" text-anchor="end" fill="#E2C070" color="#E2C070">4799</text>
<text x="131.6" y="1034.5" font-size="19.8" fill="#E2C070" color="#E2C070">12.1</text>
<path d="M74.6 891.8V1073.1H424.8" fill="none" stroke="#3a3a3a" stroke-width="2"/>
<line x1="69" y1="1073.1" x2="74.6" y2="1073.1" stroke="#3a3a3a" stroke-width="2"/>
<text x="62.3" y="1079.1" font-size="16.5" text-anchor="end">0</text>
<line x1="69" y1="1021.3" x2="74.6" y2="1021.3" stroke="#3a3a3a" stroke-width="2"/>
<text x="62.3" y="1027.3" font-size="16.5" text-anchor="end">20</text>
<line x1="69" y1="969.5" x2="74.6" y2="969.5" stroke="#3a3a3a" stroke-width="2"/>
<text x="62.3" y="975.5" font-size="16.5" text-anchor="end">40</text>
<line x1="69" y1="917.7" x2="74.6" y2="917.7" stroke="#3a3a3a" stroke-width="2"/>
<text x="62.3" y="923.7" font-size="16.5" text-anchor="end">60</text>
<line x1="74.6" y1="1073.1" x2="74.6" y2="1078.7" stroke="#3a3a3a" stroke-width="2"/>
<text x="75.6" y="1097.5" font-size="16.5" text-anchor="middle">10<tspan font-size="12" dy="-6.5">0</tspan></text>
<line x1="185.6" y1="1073.1" x2="185.6" y2="1078.7" stroke="#3a3a3a" stroke-width="2"/>
<text x="186.6" y="1097.5" font-size="16.5" text-anchor="middle">10<tspan font-size="12" dy="-6.5">2</tspan></text>
<line x1="296.6" y1="1073.1" x2="296.6" y2="1078.7" stroke="#3a3a3a" stroke-width="2"/>
<text x="297.6" y="1097.5" font-size="16.5" text-anchor="middle">10<tspan font-size="12" dy="-6.5">4</tspan></text>
<line x1="407.6" y1="1073.1" x2="407.6" y2="1078.7" stroke="#3a3a3a" stroke-width="2"/>
<text x="408.6" y="1097.5" font-size="16.5" text-anchor="middle">10<tspan font-size="12" dy="-6.5">6</tspan></text>
<text x="249.7" y="1120.1" font-size="16.5" text-anchor="middle">Unique number of fragments</text>
<text transform="translate(31.3 982.4) rotate(-90)" font-size="16.5" text-anchor="middle">TSS enrichment</text>
<text x="249.7" y="882" font-size="19.8" text-anchor="middle">ddSEQ Mouse 2 sample 3</text>
<g transform="translate(499 892)"><path fill="#341a5c" d="M180 12h2v2h-2zM194 12h2v2h-2zM182 14h2v2h-2zM206 14h2v2h-2zM182 16h2v2h-2zM194 16h2v2h-2zM198 16h2v2h-2zM206 16h2v2h-2zM204 18h2v2h-2zM198 20h2v2h-2zM204 20h2v2h-2zM210 22h2v2h-2zM184 26h2v2h-2zM206 26h2v2h-2zM202 28h4v2h-4zM200 30h2v2h-2zM208 30h2v2h-2zM184 32h2v2h-2zM192 32h2v2h-2zM200 32h2v2h-2zM186 34h2v2h-2zM192 34h2v2h-2zM202 34h2v2h-2zM210 34h2v2h-2zM196 36h6v2h-6zM208 36h2v2h-2zM192 38h2v2h-2zM196 38h2v2h-2zM200 38h4v2h-4zM206 38h2v2h-2zM190 40h2v2h-2zM196 40h2v2h-2zM200 40h8v2h-8zM182 42h4v2h-4zM188 42h2v2h-2zM196 42h6v2h-6zM206 42h4v2h-4zM220 42h2v2h-2zM178 44h2v2h-2zM184 44h4v2h-4zM190 44h12v2h-12zM204 44h2v2h-2zM210 44h2v2h-2zM172 46h6v2h-6zM180 46h8v2h-8zM190 46h12v2h-12zM204 46h4v2h-4zM212 46h2v2h-2zM176 48h2v2h-2zM180 48h28v2h-28zM210 48h4v2h-4zM166 50h2v2h-2zM170 50h4v2h-4zM180 50h6v2h-6zM190 50h4v2h-4zM196 50h4v2h-4zM202 50h6v2h-6zM212 50h2v2h-2zM216 50h2v2h-2zM168 52h2v2h-2zM172 52h2v2h-2zM176 52h2v2h-2zM184 52h10v2h-10zM196 52h8v2h-8zM208 52h4v2h-4zM166 54h2v2h-2zM172 54h2v2h-2zM176 54h2v2h-2zM180 54h2v2h-2zM186 54h6v2h-6zM194 54h16v2h-16zM180 56h2v2h-2zM188 56h2v2h-2zM196 56h10v2h-10zM208 56h6v2h-6zM216 56h4v2h-4zM238 56h2v2h-2zM178 58h2v2h-2zM182 58h2v2h-2zM188 58h2v2h-2zM192 58h26v2h-26zM170 60h4v2h-4zM178 60h2v2h-2zM182 60h2v2h-2zM186 60h2v2h-2zM190 60h14v2h-14zM206 60h14v2h-14zM222 60h2v2h-2zM168 62h2v2h-2zM172 62h2v2h-2zM186 62h2v2h-2zM194 62h4v2h-4zM200 62h8v2h-8zM210 62h8v2h-8zM220 62h4v2h-4zM176 64h2v2h-2zM182 64h8v2h-8zM192 64h4v2h-4zM198 64h24v2h-24zM168 66h2v2h-2zM172 66h4v2h-4zM184 66h2v2h-2zM188 66h8v2h-8zM198 66h8v2h-8zM210 66h10v2h-10zM222 66h2v2h-2zM226 66h2v2h-2zM170 68h2v2h-2zM178 68h2v2h-2zM186 68h40v2h-40zM230 68h2v2h-2zM168 70h2v2h-2zM174 70h4v2h-4zM188 70h2v2h-2zM192 70h2v2h-2zM196 70h28v2h-28zM226 70h4v2h-4zM232 70h2v2h-2zM166 72h10v2h-10zM184 72h2v2h-2zM190 72h28v2h-28zM220 72h10v2h-10zM166 74h4v2h-4zM172 74h2v2h-2zM176 74h4v2h-4zM190 74h2v2h-2zM194 74h32v2h-32zM228 74h6v2h-6zM166 76h2v2h-2zM172 76h2v2h-2zM176 76h2v2h-2zM180 76h2v2h-2zM184 76h2v2h-2zM188 76h2v2h-2zM198 76h24v2h-24zM224 76h6v2h-6zM168 78h4v2h-4zM176 78h2v2h-2zM190 78h14v2h-14zM206 78h24v2h-24zM238 78h2v2h-2zM170 80h4v2h-4zM180 80h2v2h-2zM186 80h6v2h-6zM196 80h40v2h-40zM166 82h6v2h-6zM174 82h2v2h-2zM178 82h4v2h-4zM186 82h6v2h-6zM196 82h2v2h-2zM200 82h28v2h-28zM230 82h4v2h-4zM242 82h2v2h-2zM168 84h2v2h-2zM176 84h2v2h-2zM180 84h8v2h-8zM190 84h4v2h-4zM196 84h2v2h-2zM200 84h32v2h-32zM236 84h2v2h-2zM240 84h2v2h-2zM172 86h4v2h-4zM182 86h2v2h-2zM188 86h8v2h-8zM198 86h38v2h-38zM238 86h2v2h-2zM248 86h2v2h-2zM166 88h2v2h-2zM172 88h6v2h-6zM180 88h2v2h-2zM184 88h4v2h-4zM190 88h2v2h-2zM194 88h6v2h-6zM202 88h8v2h-8zM212 88h16v2h-16zM230 88h8v2h-8zM150 90h2v2h-2zM168 90h2v2h-2zM172 90h2v2h-2zM178 90h6v2h-6zM190 90h28v2h-28zM220 90h4v2h-4zM226 90h6v2h-6zM234 90h2v2h-2zM238 90h2v2h-2zM162 92h2v2h-2zM168 92h6v2h-6zM178 92h4v2h-4zM186 92h4v2h-4zM194 92h26v2h-26zM222 92h10v2h-10zM234 92h4v2h-4zM240 92h6v2h-6zM162 94h6v2h-6zM172 94h2v2h-2zM178 94h6v2h-6zM190 94h2v2h-2zM194 94h22v2h-22zM218 94h4v2h-4zM224 94h16v2h-16zM244 94h2v2h-2zM154 96h4v2h-4zM160 96h4v2h-4zM166 96h20v2h-20zM188 96h4v2h-4zM194 96h50v2h-50zM246 96h2v2h-2zM158 98h12v2h-12zM172 98h6v2h-6zM180 98h2v2h-2zM186 98h6v2h-6zM194 98h40v2h-40zM236 98h6v2h-6zM248 98h2v2h-2zM158 100h4v2h-4zM164 100h8v2h-8zM174 100h12v2h-12zM194 100h4v2h-4zM200 100h14v2h-14zM216 100h14v2h-14zM232 100h8v2h-8zM242 100h6v2h-6zM250 100h2v2h-2zM156 102h2v2h-2zM160 102h2v2h-2zM164 102h8v2h-8zM176 102h2v2h-2zM180 102h2v2h-2zM184 102h6v2h-6zM192 102h2v2h-2zM196 102h50v2h-50zM150 104h4v2h-4zM158 104h28v2h-28zM190 104h8v2h-8zM200 104h10v2h-10zM212 104h34v2h-34zM250 104h2v2h-2zM154 106h4v2h-4zM164 106h20v2h-20zM186 106h12v2h-12zM200 106h24v2h-24zM226 106h10v2h-10zM238 106h8v2h-8zM248 106h8v2h-8zM154 108h30v2h-30zM186 108h2v2h-2zM190 108h8v2h-8zM200 108h52v2h-52zM150 110h2v2h-2zM154 110h2v2h-2zM160 110h30v2h-30zM192 110h2v2h-2zM196 110h6v2h-6zM204 110h42v2h-42zM248 110h2v2h-2zM150 112h14v2h-14zM166 112h4v2h-4zM172 112h6v2h-6zM180 112h6v2h-6zM190 112h6v2h-6zM198 112h32v2h-32zM232 112h12v2h-12zM246 112h8v2h-8zM256 112h2v2h-2zM152 114h2v2h-2zM156 114h32v2h-32zM192 114h52v2h-52zM246 114h12v2h-12zM266 114h2v2h-2zM154 116h6v2h-6zM162 116h24v2h-24zM190 116h52v2h-52zM244 116h4v2h-4zM250 116h10v2h-10zM262 116h2v2h-2zM150 118h6v2h-6zM158 118h24v2h-24zM184 118h2v2h-2zM188 118h4v2h-4zM196 118h36v2h-36zM234 118h2v2h-2zM238 118h4v2h-4zM244 118h10v2h-10zM258 118h2v2h-2zM150 120h2v2h-2zM156 120h24v2h-24zM182 120h4v2h-4zM188 120h4v2h-4zM194 120h18v2h-18zM214 120h18v2h-18zM234 120h20v2h-20zM258 120h4v2h-4zM152 122h32v2h-32zM186 122h2v2h-2zM190 122h2v2h-2zM194 122h18v2h-18zM214 122h48v2h-48zM148 124h34v2h-34zM184 124h8v2h-8zM196 124h4v2h-4zM202 124h2v2h-2zM206 124h14v2h-14zM222 124h38v2h-38zM144 126h6v2h-6zM152 126h2v2h-2zM156 126h22v2h-22zM182 126h4v2h-4zM194 126h50v2h-50zM246 126h12v2h-12zM262 126h2v2h-2zM144 128h2v2h-2zM150 128h8v2h-8zM160 128h4v2h-4zM166 128h20v2h-20zM190 128h6v2h-6zM200 128h52v2h-52zM254 128h8v2h-8zM266 128h2v2h-2zM144 130h2v2h-2zM150 130h16v2h-16zM168 130h18v2h-18zM190 130h2v2h-2zM196 130h26v2h-26zM224 130h10v2h-10zM236 130h26v2h-26zM264 130h2v2h-2zM270 130h2v2h-2zM148 132h4v2h-4zM154 132h2v2h-2zM158 132h18v2h-18zM182 132h6v2h-6zM190 132h2v2h-2zM194 132h6v2h-6zM202 132h58v2h-58zM266 132h2v2h-2zM142 134h2v2h-2zM148 134h18v2h-18zM168 134h24v2h-24zM194 134h66v2h-66zM262 134h4v2h-4zM272 134h2v2h-2zM278 134h2v2h-2zM142 136h2v2h-2zM146 136h2v2h-2zM150 136h40v2h-40zM192 136h2v2h-2zM196 136h38v2h-38zM236 136h8v2h-8zM246 136h24v2h-24zM272 136h2v2h-2zM138 138h40v2h-40zM182 138h2v2h-2zM190 138h2v2h-2zM194 138h2v2h-2zM198 138h18v2h-18zM218 138h24v2h-24zM244 138h14v2h-14zM260 138h4v2h-4zM270 138h2v2h-2zM144 140h8v2h-8zM154 140h26v2h-26zM182 140h10v2h-10zM194 140h42v2h-42zM238 140h12v2h-12zM252 140h14v2h-14zM268 140h2v2h-2zM272 140h2v2h-2zM142 142h4v2h-4zM148 142h16v2h-16zM166 142h14v2h-14zM182 142h6v2h-6zM194 142h4v2h-4zM200 142h2v2h-2zM204 142h4v2h-4zM210 142h2v2h-2zM214 142h4v2h-4zM220 142h4v2h-4zM228 142h20v2h-20zM252 142h8v2h-8zM264 142h4v2h-4zM270 142h4v2h-4zM140 144h2v2h-2zM144 144h38v2h-38zM184 144h4v2h-4zM192 144h6v2h-6zM200 144h8v2h-8zM210 144h4v2h-4zM216 144h32v2h-32zM250 144h22v2h-22zM140 146h40v2h-40zM186 146h2v2h-2zM194 146h4v2h-4zM200 146h2v2h-2zM206 146h2v2h-2zM210 146h2v2h-2zM214 146h4v2h-4zM220 146h6v2h-6zM228 146h4v2h-4zM236 146h4v2h-4zM242 146h2v2h-2zM246 146h2v2h-2zM250 146h2v2h-2zM260 146h2v2h-2zM266 146h4v2h-4zM136 148h10v2h-10zM148 148h30v2h-30zM180 148h4v2h-4zM188 148h2v2h-2zM192 148h4v2h-4zM210 148h2v2h-2zM216 148h2v2h-2zM224 148h2v2h-2zM228 148h2v2h-2zM232 148h2v2h-2zM236 148h2v2h-2zM246 148h2v2h-2zM252 148h2v2h-2zM256 148h2v2h-2zM132 150h44v2h-44zM178 150h2v2h-2zM182 150h2v2h-2zM202 150h4v2h-4zM214 150h2v2h-2zM222 150h2v2h-2zM228 150h4v2h-4zM234 150h4v2h-4zM254 150h2v2h-2zM260 150h2v2h-2zM268 150h4v2h-4zM278 150h2v2h-2zM130 152h4v2h-4zM136 152h40v2h-40zM178 152h2v2h-2zM200 152h2v2h-2zM204 152h4v2h-4zM248 152h2v2h-2zM252 152h2v2h-2zM270 152h2v2h-2zM276 152h2v2h-2zM130 154h10v2h-10zM142 154h34v2h-34zM186 154h2v2h-2zM192 154h2v2h-2zM208 154h2v2h-2zM244 154h2v2h-2zM124 156h2v2h-2zM130 156h44v2h-44zM178 156h2v2h-2zM188 156h4v2h-4zM194 156h2v2h-2zM202 156h2v2h-2zM224 156h2v2h-2zM266 156h2v2h-2zM276 156h2v2h-2zM122 158h2v2h-2zM126 158h50v2h-50zM190 158h2v2h-2zM194 158h2v2h-2zM210 158h2v2h-2zM216 158h2v2h-2zM236 158h4v2h-4zM274 158h2v2h-2zM118 160h2v2h-2zM122 160h4v2h-4zM128 160h12v2h-12zM144 160h30v2h-30zM176 160h4v2h-4zM226 160h2v2h-2zM230 160h2v2h-2zM260 160h2v2h-2zM264 160h2v2h-2zM278 160h2v2h-2zM282 160h2v2h-2zM84 162h2v2h-2zM116 162h2v2h-2zM120 162h30v2h-30zM152 162h14v2h-14zM168 162h2v2h-2zM178 162h2v2h-2zM228 162h2v2h-2zM234 162h2v2h-2zM244 162h2v2h-2zM264 162h2v2h-2zM60 164h2v2h-2zM106 164h2v2h-2zM110 164h6v2h-6zM118 164h50v2h-50zM170 164h2v2h-2zM174 164h2v2h-2zM234 164h2v2h-2zM266 164h4v2h-4zM276 164h4v2h-4zM288 164h2v2h-2zM90 166h2v2h-2zM96 166h2v2h-2zM102 166h2v2h-2zM108 166h2v2h-2zM112 166h8v2h-8zM122 166h46v2h-46zM204 166h4v2h-4zM214 166h2v2h-2zM242 166h4v2h-4zM264 166h2v2h-2zM286 166h2v2h-2zM54 168h2v2h-2zM90 168h2v2h-2zM104 168h4v2h-4zM112 168h56v2h-56zM170 168h2v2h-2zM184 168h2v2h-2zM214 168h2v2h-2zM232 168h4v2h-4zM254 168h2v2h-2zM270 168h2v2h-2zM276 168h2v2h-2zM62 170h2v2h-2zM74 170h2v2h-2zM90 170h6v2h-6zM102 170h30v2h-30zM134 170h30v2h-30zM176 170h2v2h-2zM212 170h4v2h-4zM268 170h2v2h-2zM272 170h4v2h-4zM286 170h2v2h-2zM292 170h2v2h-2zM58 172h6v2h-6zM72 172h2v2h-2zM80 172h2v2h-2zM88 172h22v2h-22zM112 172h48v2h-48zM164 172h2v2h-2zM210 172h4v2h-4zM218 172h2v2h-2zM238 172h2v2h-2zM244 172h2v2h-2zM274 172h2v2h-2zM284 172h2v2h-2zM56 174h2v2h-2zM62 174h2v2h-2zM70 174h2v2h-2zM78 174h6v2h-6zM88 174h28v2h-28zM118 174h2v2h-2zM122 174h20v2h-20zM144 174h6v2h-6zM152 174h8v2h-8zM176 174h2v2h-2zM184 174h2v2h-2zM208 174h2v2h-2zM278 174h2v2h-2zM290 174h2v2h-2zM54 176h2v2h-2zM58 176h2v2h-2zM62 176h2v2h-2zM66 176h12v2h-12zM80 176h70v2h-70zM152 176h4v2h-4zM158 176h2v2h-2zM180 176h2v2h-2zM188 176h2v2h-2zM194 176h4v2h-4zM208 176h2v2h-2zM236 176h2v2h-2zM240 176h2v2h-2zM256 176h2v2h-2zM262 176h2v2h-2zM56 178h24v2h-24zM82 178h12v2h-12zM96 178h4v2h-4zM102 178h6v2h-6zM110 178h2v2h-2zM114 178h40v2h-40zM156 178h2v2h-2zM188 178h2v2h-2zM206 178h4v2h-4zM212 178h2v2h-2zM220 178h2v2h-2zM284 178h2v2h-2zM58 180h4v2h-4zM68 180h8v2h-8zM78 180h2v2h-2zM84 180h2v2h-2zM92 180h2v2h-2zM100 180h4v2h-4zM116 180h4v2h-4zM126 180h8v2h-8zM138 180h6v2h-6z"/><linearGradient id="vg16" x1="0" x2="1" y1="0" y2="0"><stop offset="0.00" stop-color="#2a6f8e"/><stop offset="0.25" stop-color="#22a384"/><stop offset="0.45" stop-color="#b5dd2b"/><stop offset="0.60" stop-color="#6ccd5a"/><stop offset="0.75" stop-color="#1f9a8a"/><stop offset="0.90" stop-color="#3b528b"/><stop offset="1.00" stop-color="#3f2373"/></linearGradient><path fill="url(#vg16)" d="M57.8 181.1L57.8 178.6L92.7 175.8L127.6 174.6L127.6 181.1z"/></g>
<line x1="693.3" y1="1073.1" x2="693.3" y2="891.8" stroke="#DDAA40" stroke-width="2.9" stroke-opacity="0.9"/>
<line x1="499.4" y1="1036.3" x2="849.6" y2="1036.3" stroke="#D4CE8C" stroke-width="2.9" stroke-opacity="0.9"/>
<text x="675.8" y="913.9" font-size="19.8" text-anchor="end" fill="#E2C070" color="#E2C070">3360</text>
<text x="556.4" y="1029.3" font-size="19.8" fill="#E2C070" color="#E2C070">14.1</text>
<path d="M499.4 891.8V1073.1H849.6" fill="none" stroke="#3a3a3a" stroke-width="2"/>
<line x1="493.8" y1="1073.1" x2="499.4" y2="1073.1" stroke="#3a3a3a" stroke-width="2"/>
<text x="487.1" y="1079.1" font-size="16.5" text-anchor="end">0</text>
<line x1="493.8" y1="1021.3" x2="499.4" y2="1021.3" stroke="#3a3a3a" stroke-width="2"/>
<text x="487.1" y="1027.3" font-size="16.5" text-anchor="end">20</text>
<line x1="493.8" y1="969.5" x2="499.4" y2="969.5" stroke="#3a3a3a" stroke-width="2"/>
<text x="487.1" y="975.5" font-size="16.5" text-anchor="end">40</text>
<line x1="493.8" y1="917.7" x2="499.4" y2="917.7" stroke="#3a3a3a" stroke-width="2"/>
<text x="487.1" y="923.7" font-size="16.5" text-anchor="end">60</text>
<line x1="499.4" y1="1073.1" x2="499.4" y2="1078.7" stroke="#3a3a3a" stroke-width="2"/>
<text x="500.4" y="1097.5" font-size="16.5" text-anchor="middle">10<tspan font-size="12" dy="-6.5">0</tspan></text>
<line x1="610.4" y1="1073.1" x2="610.4" y2="1078.7" stroke="#3a3a3a" stroke-width="2"/>
<text x="611.4" y="1097.5" font-size="16.5" text-anchor="middle">10<tspan font-size="12" dy="-6.5">2</tspan></text>
<line x1="721.4" y1="1073.1" x2="721.4" y2="1078.7" stroke="#3a3a3a" stroke-width="2"/>
<text x="722.4" y="1097.5" font-size="16.5" text-anchor="middle">10<tspan font-size="12" dy="-6.5">4</tspan></text>
<line x1="832.4" y1="1073.1" x2="832.4" y2="1078.7" stroke="#3a3a3a" stroke-width="2"/>
<text x="833.4" y="1097.5" font-size="16.5" text-anchor="middle">10<tspan font-size="12" dy="-6.5">6</tspan></text>
<text x="674.5" y="1120.1" font-size="16.5" text-anchor="middle">Unique number of fragments</text>
<text transform="translate(456.1 982.4) rotate(-90)" font-size="16.5" text-anchor="middle">TSS enrichment</text>
<text x="674.5" y="882" font-size="19.8" text-anchor="middle">ddSEQ Mouse 2 sample 4</text>
<g transform="translate(922 892)"><path fill="#3b3f86" d="M218 122h2v2h-2zM218 126h2v2h-2zM242 128h2v2h-2zM214 130h2v2h-2zM230 130h4v2h-4zM236 130h2v2h-2zM244 130h2v2h-2zM250 130h2v2h-2zM206 132h2v2h-2zM218 132h2v2h-2zM228 132h2v2h-2zM232 132h2v2h-2zM236 132h2v2h-2zM210 134h2v2h-2zM214 134h2v2h-2zM220 134h2v2h-2zM226 134h6v2h-6zM250 134h2v2h-2zM264 134h2v2h-2zM212 136h20v2h-20zM234 136h4v2h-4zM246 136h2v2h-2zM254 136h2v2h-2zM262 136h2v2h-2zM272 136h2v2h-2zM206 138h2v2h-2zM210 138h10v2h-10zM222 138h2v2h-2zM226 138h6v2h-6zM234 138h14v2h-14zM250 138h4v2h-4zM272 138h2v2h-2zM288 138h2v2h-2zM196 140h2v2h-2zM206 140h10v2h-10zM218 140h14v2h-14zM234 140h16v2h-16zM252 140h2v2h-2zM256 140h2v2h-2zM260 140h2v2h-2zM312 140h2v2h-2zM198 142h2v2h-2zM202 142h2v2h-2zM206 142h10v2h-10zM218 142h24v2h-24zM244 142h4v2h-4zM250 142h4v2h-4zM256 142h8v2h-8zM266 142h4v2h-4zM274 142h2v2h-2zM278 142h2v2h-2zM282 142h2v2h-2zM208 144h4v2h-4zM214 144h4v2h-4zM220 144h4v2h-4zM232 144h12v2h-12zM246 144h8v2h-8zM256 144h2v2h-2zM260 144h4v2h-4zM266 144h14v2h-14zM194 146h2v2h-2zM204 146h2v2h-2zM208 146h6v2h-6zM216 146h4v2h-4zM222 146h12v2h-12zM236 146h8v2h-8zM246 146h8v2h-8zM256 146h28v2h-28zM286 146h2v2h-2zM192 148h2v2h-2zM204 148h22v2h-22zM228 148h4v2h-4zM234 148h8v2h-8zM244 148h2v2h-2zM248 148h8v2h-8zM258 148h6v2h-6zM266 148h2v2h-2zM270 148h8v2h-8zM280 148h6v2h-6zM290 148h4v2h-4zM306 148h2v2h-2zM202 150h8v2h-8zM212 150h12v2h-12zM230 150h8v2h-8zM240 150h8v2h-8zM250 150h6v2h-6zM258 150h8v2h-8zM268 150h26v2h-26zM190 152h2v2h-2zM202 152h16v2h-16zM222 152h16v2h-16zM240 152h18v2h-18zM260 152h4v2h-4zM268 152h4v2h-4zM274 152h2v2h-2zM278 152h14v2h-14zM200 154h30v2h-30zM232 154h28v2h-28zM262 154h2v2h-2zM268 154h12v2h-12zM282 154h16v2h-16zM300 154h2v2h-2zM202 156h6v2h-6zM214 156h2v2h-2zM218 156h14v2h-14zM234 156h6v2h-6zM242 156h8v2h-8zM252 156h10v2h-10zM264 156h14v2h-14zM280 156h6v2h-6zM288 156h4v2h-4zM296 156h8v2h-8zM308 156h2v2h-2zM312 156h2v2h-2zM196 158h2v2h-2zM200 158h12v2h-12zM214 158h6v2h-6zM222 158h14v2h-14zM238 158h14v2h-14zM254 158h2v2h-2zM258 158h4v2h-4zM264 158h16v2h-16zM282 158h20v2h-20zM304 158h4v2h-4zM310 158h2v2h-2zM194 160h2v2h-2zM198 160h16v2h-16zM216 160h2v2h-2zM222 160h20v2h-20zM244 160h10v2h-10zM256 160h6v2h-6zM264 160h10v2h-10zM276 160h2v2h-2zM280 160h6v2h-6zM288 160h12v2h-12zM302 160h8v2h-8zM184 162h2v2h-2zM196 162h2v2h-2zM202 162h8v2h-8zM216 162h14v2h-14zM232 162h10v2h-10zM244 162h6v2h-6zM252 162h22v2h-22zM276 162h8v2h-8zM286 162h2v2h-2zM290 162h4v2h-4zM296 162h2v2h-2zM300 162h14v2h-14zM316 162h4v2h-4zM198 164h2v2h-2zM204 164h14v2h-14zM220 164h4v2h-4zM226 164h10v2h-10zM238 164h12v2h-12zM252 164h16v2h-16zM270 164h6v2h-6zM278 164h2v2h-2zM282 164h8v2h-8zM292 164h14v2h-14zM308 164h6v2h-6zM316 164h4v2h-4zM202 166h2v2h-2zM206 166h14v2h-14zM222 166h2v2h-2zM226 166h8v2h-8zM236 166h2v2h-2zM240 166h10v2h-10zM252 166h16v2h-16zM270 166h4v2h-4zM276 166h6v2h-6zM284 166h2v2h-2zM288 166h26v2h-26zM316 166h2v2h-2zM342 166h2v2h-2zM194 168h2v2h-2zM198 168h2v2h-2zM206 168h4v2h-4zM214 168h8v2h-8zM224 168h2v2h-2zM228 168h30v2h-30zM260 168h4v2h-4zM266 168h4v2h-4zM274 168h4v2h-4zM280 168h30v2h-30zM316 168h2v2h-2zM320 168h4v2h-4zM204 170h4v2h-4zM210 170h18v2h-18zM230 170h6v2h-6zM238 170h6v2h-6zM248 170h10v2h-10zM260 170h4v2h-4zM266 170h6v2h-6zM274 170h44v2h-44zM326 170h2v2h-2zM212 172h12v2h-12zM226 172h22v2h-22zM250 172h12v2h-12zM264 172h4v2h-4zM272 172h14v2h-14zM288 172h8v2h-8zM306 172h2v2h-2zM312 172h6v2h-6zM206 174h6v2h-6zM218 174h2v2h-2zM222 174h6v2h-6zM230 174h6v2h-6zM238 174h20v2h-20zM262 174h2v2h-2zM272 174h2v2h-2zM278 174h2v2h-2zM290 174h2v2h-2zM294 174h2v2h-2zM314 174h2v2h-2zM320 174h2v2h-2zM208 176h2v2h-2zM224 176h2v2h-2zM242 176h2v2h-2zM254 176h2v2h-2zM262 176h2v2h-2zM268 176h2v2h-2zM210 178h2v2h-2zM220 178h2v2h-2zM260 178h2v2h-2zM274 178h2v2h-2zM282 178h2v2h-2zM304 178h2v2h-2zM206 180h2v2h-2zM222 180h2v2h-2zM236 180h2v2h-2zM270 180h2v2h-2zM290 180h2v2h-2z"/><path fill="#2b7f8e" d="M216 142h14v2h-14zM216 144h8v2h-8zM226 144h2v2h-2zM230 144h12v2h-12zM244 144h4v2h-4zM212 146h36v2h-36zM250 146h6v2h-6zM210 148h32v2h-32zM246 148h14v2h-14zM262 148h2v2h-2zM208 150h10v2h-10zM220 150h16v2h-16zM238 150h32v2h-32zM206 152h36v2h-36zM244 152h12v2h-12zM262 152h14v2h-14zM206 154h6v2h-6zM216 154h10v2h-10zM228 154h10v2h-10zM240 154h32v2h-32zM274 154h8v2h-8zM206 156h2v2h-2zM210 156h10v2h-10zM222 156h2v2h-2zM226 156h10v2h-10zM242 156h2v2h-2zM246 156h42v2h-42zM208 158h10v2h-10zM220 158h68v2h-68zM290 158h4v2h-4zM208 160h2v2h-2zM212 160h26v2h-26zM240 160h50v2h-50zM292 160h4v2h-4zM208 162h10v2h-10zM220 162h8v2h-8zM230 162h8v2h-8zM240 162h58v2h-58zM208 164h4v2h-4zM214 164h18v2h-18zM234 164h6v2h-6zM242 164h4v2h-4zM248 164h28v2h-28zM278 164h4v2h-4zM284 164h18v2h-18zM210 166h28v2h-28zM240 166h52v2h-52zM294 166h6v2h-6zM302 166h2v2h-2zM210 168h18v2h-18zM230 168h4v2h-4zM236 168h8v2h-8zM246 168h24v2h-24zM272 168h8v2h-8zM282 168h6v2h-6zM290 168h6v2h-6zM224 170h8v2h-8zM234 170h28v2h-28zM264 170h8v2h-8z"/><path fill="#22a185" d="M222 146h10v2h-10zM218 148h30v2h-30zM214 150h42v2h-42zM212 152h50v2h-50zM208 154h62v2h-62zM208 156h66v2h-66zM210 158h68v2h-68zM210 160h72v2h-72zM210 162h76v2h-76zM210 164h70v2h-70zM216 166h50v2h-50z"/><path fill="#56c667" d="M224 150h10v2h-10zM218 152h26v2h-26zM212 154h40v2h-40zM214 156h44v2h-44zM214 158h50v2h-50zM214 160h44v2h-44zM214 162h40v2h-40zM222 164h26v2h-26z"/><path fill="#b5de2b" d="M220 154h20v2h-20zM222 156h24v2h-24zM222 158h24v2h-24zM224 160h18v2h-18z"/></g>
<path d="M922.2 891.8V1073.1H1272.4" fill="none" stroke="#3a3a3a" stroke-width="2"/>
<line x1="916.6" y1="1073.1" x2="922.2" y2="1073.1" stroke="#3a3a3a" stroke-width="2"/>
<text x="909.9" y="1079.1" font-size="16.5" text-anchor="end">0</text>
<line x1="916.6" y1="1021.3" x2="922.2" y2="1021.3" stroke="#3a3a3a" stroke-width="2"/>
<text x="909.9" y="1027.3" font-size="16.5" text-anchor="end">20</text>
<line x1="916.6" y1="969.5" x2="922.2" y2="969.5" stroke="#3a3a3a" stroke-width="2"/>
<text x="909.9" y="975.5" font-size="16.5" text-anchor="end">40</text>
<line x1="916.6" y1="917.7" x2="922.2" y2="917.7" stroke="#3a3a3a" stroke-width="2"/>
<text x="909.9" y="923.7" font-size="16.5" text-anchor="end">60</text>
<line x1="922.2" y1="1073.1" x2="922.2" y2="1078.7" stroke="#3a3a3a" stroke-width="2"/>
<text x="923.2" y="1097.5" font-size="16.5" text-anchor="middle">10<tspan font-size="12" dy="-6.5">0</tspan></text>
<line x1="1033.2" y1="1073.1" x2="1033.2" y2="1078.7" stroke="#3a3a3a" stroke-width="2"/>
<text x="1034.2" y="1097.5" font-size="16.5" text-anchor="middle">10<tspan font-size="12" dy="-6.5">2</tspan></text>
<line x1="1144.2" y1="1073.1" x2="1144.2" y2="1078.7" stroke="#3a3a3a" stroke-width="2"/>
<text x="1145.2" y="1097.5" font-size="16.5" text-anchor="middle">10<tspan font-size="12" dy="-6.5">4</tspan></text>
<line x1="1255.2" y1="1073.1" x2="1255.2" y2="1078.7" stroke="#3a3a3a" stroke-width="2"/>
<text x="1256.2" y="1097.5" font-size="16.5" text-anchor="middle">10<tspan font-size="12" dy="-6.5">6</tspan></text>
<text x="1097.3" y="1120.1" font-size="16.5" text-anchor="middle">Unique number of fragments</text>
<text transform="translate(878.9 982.4) rotate(-90)" font-size="16.5" text-anchor="middle">TSS enrichment</text>
<text x="1097.3" y="882" font-size="19.8" text-anchor="middle">s3-ATAC</text>
<g transform="translate(1344 892)"><path fill="#341a5c" d="M194 84h2v2h-2zM204 86h2v2h-2zM208 86h2v2h-2zM226 90h2v2h-2zM192 92h2v2h-2zM200 94h2v2h-2zM202 96h2v2h-2zM186 98h2v2h-2zM190 98h2v2h-2zM206 98h2v2h-2zM186 100h2v2h-2zM192 100h2v2h-2zM202 100h2v2h-2zM208 100h2v2h-2zM212 100h2v2h-2zM224 100h2v2h-2zM228 100h2v2h-2zM182 102h16v2h-16zM200 102h6v2h-6zM176 104h4v2h-4zM184 104h8v2h-8zM194 104h4v2h-4zM200 104h2v2h-2zM176 106h2v2h-2zM180 106h4v2h-4zM186 106h24v2h-24zM212 106h2v2h-2zM224 106h4v2h-4zM174 108h4v2h-4zM180 108h16v2h-16zM198 108h10v2h-10zM214 108h2v2h-2zM176 110h16v2h-16zM194 110h12v2h-12zM208 110h8v2h-8zM220 110h2v2h-2zM172 112h42v2h-42zM216 112h4v2h-4zM224 112h2v2h-2zM174 114h4v2h-4zM180 114h8v2h-8zM190 114h6v2h-6zM198 114h24v2h-24zM174 116h8v2h-8zM184 116h14v2h-14zM200 116h2v2h-2zM204 116h18v2h-18zM230 116h2v2h-2zM240 116h2v2h-2zM174 118h4v2h-4zM180 118h28v2h-28zM210 118h18v2h-18zM178 120h2v2h-2zM182 120h2v2h-2zM186 120h34v2h-34zM222 120h10v2h-10zM164 122h2v2h-2zM172 122h2v2h-2zM178 122h30v2h-30zM210 122h10v2h-10zM222 122h4v2h-4zM228 122h2v2h-2zM232 122h2v2h-2zM162 124h2v2h-2zM174 124h8v2h-8zM184 124h14v2h-14zM200 124h34v2h-34zM236 124h2v2h-2zM172 126h4v2h-4zM178 126h2v2h-2zM182 126h28v2h-28zM212 126h12v2h-12zM226 126h10v2h-10zM238 126h4v2h-4zM250 126h2v2h-2zM170 128h2v2h-2zM176 128h18v2h-18zM196 128h38v2h-38zM240 128h4v2h-4zM256 128h2v2h-2zM170 130h4v2h-4zM176 130h52v2h-52zM230 130h14v2h-14zM246 130h2v2h-2zM250 130h4v2h-4zM164 132h2v2h-2zM168 132h4v2h-4zM178 132h24v2h-24zM204 132h38v2h-38zM244 132h4v2h-4zM250 132h6v2h-6zM168 134h4v2h-4zM174 134h40v2h-40zM216 134h28v2h-28zM246 134h4v2h-4zM258 134h2v2h-2zM164 136h18v2h-18zM184 136h22v2h-22zM208 136h38v2h-38zM248 136h10v2h-10zM260 136h2v2h-2zM270 136h2v2h-2zM170 138h18v2h-18zM190 138h14v2h-14zM208 138h46v2h-46zM264 138h2v2h-2zM168 140h8v2h-8zM178 140h28v2h-28zM210 140h50v2h-50zM264 140h2v2h-2zM288 140h2v2h-2zM164 142h38v2h-38zM204 142h30v2h-30zM236 142h8v2h-8zM246 142h12v2h-12zM260 142h4v2h-4zM164 144h18v2h-18zM184 144h38v2h-38zM224 144h14v2h-14zM242 144h14v2h-14zM258 144h4v2h-4zM264 144h2v2h-2zM270 144h2v2h-2zM160 146h14v2h-14zM176 146h4v2h-4zM182 146h72v2h-72zM256 146h8v2h-8zM266 146h2v2h-2zM272 146h2v2h-2zM156 148h2v2h-2zM160 148h88v2h-88zM250 148h6v2h-6zM258 148h4v2h-4zM264 148h4v2h-4zM148 150h2v2h-2zM154 150h2v2h-2zM158 150h6v2h-6zM166 150h94v2h-94zM262 150h6v2h-6zM270 150h2v2h-2zM150 152h8v2h-8zM160 152h36v2h-36zM198 152h8v2h-8zM208 152h54v2h-54zM264 152h2v2h-2zM144 154h2v2h-2zM150 154h4v2h-4zM156 154h38v2h-38zM196 154h64v2h-64zM262 154h4v2h-4zM268 154h2v2h-2zM130 156h2v2h-2zM144 156h2v2h-2zM150 156h92v2h-92zM244 156h12v2h-12zM258 156h2v2h-2zM262 156h4v2h-4zM274 156h2v2h-2zM146 158h24v2h-24zM172 158h14v2h-14zM190 158h2v2h-2zM196 158h4v2h-4zM202 158h28v2h-28zM232 158h30v2h-30zM264 158h2v2h-2zM128 160h2v2h-2zM140 160h64v2h-64zM206 160h18v2h-18zM228 160h16v2h-16zM248 160h6v2h-6zM260 160h4v2h-4zM122 162h2v2h-2zM130 162h2v2h-2zM136 162h2v2h-2zM140 162h52v2h-52zM194 162h6v2h-6zM204 162h2v2h-2zM212 162h16v2h-16zM230 162h10v2h-10zM244 162h16v2h-16zM262 162h2v2h-2zM266 162h2v2h-2zM120 164h2v2h-2zM128 164h2v2h-2zM132 164h4v2h-4zM138 164h6v2h-6zM146 164h50v2h-50zM198 164h12v2h-12zM212 164h12v2h-12zM226 164h28v2h-28zM258 164h4v2h-4zM110 166h4v2h-4zM118 166h2v2h-2zM122 166h2v2h-2zM126 166h2v2h-2zM130 166h4v2h-4zM136 166h24v2h-24zM162 166h26v2h-26zM190 166h62v2h-62zM254 166h6v2h-6zM268 166h2v2h-2zM82 168h2v2h-2zM90 168h2v2h-2zM114 168h4v2h-4zM124 168h92v2h-92zM220 168h2v2h-2zM226 168h4v2h-4zM232 168h2v2h-2zM236 168h2v2h-2zM242 168h4v2h-4zM248 168h2v2h-2zM256 168h6v2h-6zM274 168h2v2h-2zM82 170h2v2h-2zM86 170h2v2h-2zM100 170h2v2h-2zM104 170h2v2h-2zM108 170h12v2h-12zM122 170h80v2h-80zM206 170h2v2h-2zM214 170h2v2h-2zM218 170h2v2h-2zM226 170h2v2h-2zM232 170h2v2h-2zM240 170h6v2h-6zM250 170h4v2h-4zM256 170h2v2h-2zM260 170h2v2h-2zM268 170h4v2h-4zM274 170h4v2h-4zM58 172h2v2h-2zM70 172h2v2h-2zM90 172h4v2h-4zM96 172h4v2h-4zM102 172h6v2h-6zM112 172h6v2h-6zM120 172h20v2h-20zM144 172h36v2h-36zM182 172h14v2h-14zM198 172h2v2h-2zM208 172h6v2h-6zM218 172h2v2h-2zM224 172h8v2h-8zM238 172h2v2h-2zM248 172h2v2h-2zM252 172h2v2h-2zM256 172h2v2h-2zM260 172h2v2h-2zM266 172h2v2h-2zM276 172h4v2h-4zM58 174h2v2h-2zM64 174h2v2h-2zM72 174h2v2h-2zM78 174h34v2h-34zM114 174h56v2h-56zM172 174h16v2h-16zM194 174h4v2h-4zM200 174h2v2h-2zM206 174h4v2h-4zM214 174h2v2h-2zM222 174h2v2h-2zM234 174h2v2h-2zM238 174h2v2h-2zM244 174h2v2h-2zM254 174h2v2h-2zM260 174h2v2h-2zM264 174h2v2h-2zM272 174h2v2h-2zM276 174h2v2h-2zM60 176h18v2h-18zM80 176h66v2h-66zM148 176h12v2h-12zM164 176h20v2h-20zM188 176h2v2h-2zM194 176h6v2h-6zM204 176h6v2h-6zM214 176h6v2h-6zM226 176h2v2h-2zM232 176h4v2h-4zM238 176h2v2h-2zM244 176h6v2h-6zM254 176h4v2h-4zM260 176h2v2h-2zM270 176h2v2h-2zM278 176h2v2h-2zM58 178h10v2h-10zM70 178h2v2h-2zM74 178h20v2h-20zM96 178h22v2h-22zM120 178h10v2h-10zM132 178h12v2h-12zM146 178h24v2h-24zM172 178h2v2h-2zM180 178h4v2h-4zM194 178h4v2h-4zM206 178h6v2h-6zM216 178h2v2h-2zM222 178h2v2h-2zM226 178h4v2h-4zM232 178h2v2h-2zM248 178h2v2h-2zM256 178h2v2h-2zM280 178h2v2h-2zM62 180h2v2h-2zM66 180h2v2h-2zM76 180h8v2h-8zM86 180h4v2h-4zM92 180h4v2h-4zM106 180h2v2h-2zM112 180h4v2h-4zM122 180h2v2h-2zM132 180h2v2h-2zM136 180h6v2h-6zM150 180h4v2h-4zM158 180h2v2h-2zM168 180h2v2h-2zM172 180h8v2h-8zM188 180h2v2h-2z"/><linearGradient id="vg18" x1="0" x2="1" y1="0" y2="0"><stop offset="0.00" stop-color="#23898e"/><stop offset="0.40" stop-color="#2d6f8e"/><stop offset="1.00" stop-color="#46307e"/></linearGradient><path fill="url(#vg18)" d="M57.8 181.1L57.8 178.6L80.7 175.8L103.6 174.6L103.6 181.1z"/></g>
<line x1="1514.6" y1="1073.1" x2="1514.6" y2="891.8" stroke="#707070" stroke-width="2.9" stroke-opacity="0.9"/>
<line x1="1344.4" y1="1058.4" x2="1694.6" y2="1058.4" stroke="#707070" stroke-width="2.9" stroke-opacity="0.9"/>
<text x="1497.1" y="913.9" font-size="19.8" text-anchor="end" fill="#808080" color="#808080">1160</text>
<text x="1401.4" y="1051.4" font-size="19.8" fill="#808080" color="#808080">5.5</text>
<path d="M1344.4 891.8V1073.1H1694.6" fill="none" stroke="#3a3a3a" stroke-width="2"/>
<line x1="1338.8" y1="1073.1" x2="1344.4" y2="1073.1" stroke="#3a3a3a" stroke-width="2"/>
<text x="1332.1" y="1079.1" font-size="16.5" text-anchor="end">0</text>
<line x1="1338.8" y1="1021.3" x2="1344.4" y2="1021.3" stroke="#3a3a3a" stroke-width="2"/>
<text x="1332.1" y="1027.3" font-size="16.5" text-anchor="end">20</text>
<line x1="1338.8" y1="969.5" x2="1344.4" y2="969.5" stroke="#3a3a3a" stroke-width="2"/>
<text x="1332.1" y="975.5" font-size="16.5" text-anchor="end">40</text>
<line x1="1338.8" y1="917.7" x2="1344.4" y2="917.7" stroke="#3a3a3a" stroke-width="2"/>
<text x="1332.1" y="923.7" font-size="16.5" text-anchor="end">60</text>
<line x1="1344.4" y1="1073.1" x2="1344.4" y2="1078.7" stroke="#3a3a3a" stroke-width="2"/>
<text x="1345.4" y="1097.5" font-size="16.5" text-anchor="middle">10<tspan font-size="12" dy="-6.5">0</tspan></text>
<line x1="1455.4" y1="1073.1" x2="1455.4" y2="1078.7" stroke="#3a3a3a" stroke-width="2"/>
<text x="1456.4" y="1097.5" font-size="16.5" text-anchor="middle">10<tspan font-size="12" dy="-6.5">2</tspan></text>
<line x1="1566.4" y1="1073.1" x2="1566.4" y2="1078.7" stroke="#3a3a3a" stroke-width="2"/>
<text x="1567.4" y="1097.5" font-size="16.5" text-anchor="middle">10<tspan font-size="12" dy="-6.5">4</tspan></text>
<line x1="1677.4" y1="1073.1" x2="1677.4" y2="1078.7" stroke="#3a3a3a" stroke-width="2"/>
<text x="1678.4" y="1097.5" font-size="16.5" text-anchor="middle">10<tspan font-size="12" dy="-6.5">6</tspan></text>
<text x="1519.5" y="1120.1" font-size="16.5" text-anchor="middle">Unique number of fragments</text>
<text transform="translate(1301.1 982.4) rotate(-90)" font-size="16.5" text-anchor="middle">TSS enrichment</text>
<text x="1519.5" y="882" font-size="19.8" text-anchor="middle">HyDrop 1</text>
<g transform="translate(1768 892)"><path fill="#341a5c" d="M190 84h2v2h-2zM190 86h2v2h-2zM208 86h2v2h-2zM196 92h2v2h-2zM180 98h2v2h-2zM196 98h2v2h-2zM192 100h2v2h-2zM192 104h2v2h-2zM178 106h2v2h-2zM188 106h2v2h-2zM208 106h2v2h-2zM182 108h2v2h-2zM188 108h2v2h-2zM198 108h4v2h-4zM178 110h2v2h-2zM186 110h6v2h-6zM194 110h2v2h-2zM208 110h4v2h-4zM182 112h2v2h-2zM186 112h4v2h-4zM192 112h4v2h-4zM210 112h4v2h-4zM216 112h4v2h-4zM184 114h16v2h-16zM202 114h6v2h-6zM210 114h2v2h-2zM214 114h2v2h-2zM222 114h6v2h-6zM174 116h2v2h-2zM178 116h2v2h-2zM184 116h4v2h-4zM190 116h2v2h-2zM194 116h10v2h-10zM206 116h2v2h-2zM212 116h6v2h-6zM220 116h2v2h-2zM174 118h2v2h-2zM180 118h2v2h-2zM184 118h32v2h-32zM218 118h4v2h-4zM224 118h2v2h-2zM180 120h2v2h-2zM184 120h26v2h-26zM212 120h12v2h-12zM226 120h2v2h-2zM180 122h42v2h-42zM226 122h2v2h-2zM230 122h2v2h-2zM234 122h2v2h-2zM248 122h2v2h-2zM180 124h26v2h-26zM210 124h4v2h-4zM216 124h8v2h-8zM232 124h2v2h-2zM168 126h2v2h-2zM176 126h38v2h-38zM216 126h18v2h-18zM236 126h4v2h-4zM172 128h2v2h-2zM176 128h4v2h-4zM182 128h12v2h-12zM196 128h36v2h-36zM234 128h2v2h-2zM238 128h6v2h-6zM170 130h24v2h-24zM196 130h26v2h-26zM226 130h20v2h-20zM168 132h2v2h-2zM172 132h10v2h-10zM186 132h62v2h-62zM164 134h2v2h-2zM168 134h4v2h-4zM176 134h72v2h-72zM168 136h80v2h-80zM250 136h2v2h-2zM256 136h4v2h-4zM166 138h70v2h-70zM238 138h8v2h-8zM248 138h4v2h-4zM256 138h2v2h-2zM166 140h2v2h-2zM170 140h6v2h-6zM178 140h32v2h-32zM212 140h28v2h-28zM242 140h12v2h-12zM160 142h4v2h-4zM166 142h20v2h-20zM188 142h32v2h-32zM222 142h32v2h-32zM158 144h2v2h-2zM162 144h86v2h-86zM250 144h8v2h-8zM264 144h2v2h-2zM270 144h2v2h-2zM158 146h2v2h-2zM162 146h18v2h-18zM182 146h20v2h-20zM204 146h42v2h-42zM250 146h4v2h-4zM256 146h2v2h-2zM266 146h2v2h-2zM150 148h2v2h-2zM158 148h6v2h-6zM166 148h6v2h-6zM174 148h8v2h-8zM184 148h72v2h-72zM264 148h2v2h-2zM156 150h10v2h-10zM168 150h88v2h-88zM258 150h4v2h-4zM268 150h2v2h-2zM120 152h2v2h-2zM156 152h2v2h-2zM160 152h8v2h-8zM170 152h18v2h-18zM190 152h6v2h-6zM198 152h48v2h-48zM248 152h10v2h-10zM154 154h14v2h-14zM170 154h2v2h-2zM174 154h4v2h-4zM182 154h26v2h-26zM210 154h44v2h-44zM260 154h2v2h-2zM276 154h2v2h-2zM152 156h28v2h-28zM182 156h8v2h-8zM192 156h6v2h-6zM200 156h26v2h-26zM228 156h14v2h-14zM244 156h4v2h-4zM250 156h6v2h-6zM258 156h2v2h-2zM262 156h2v2h-2zM270 156h2v2h-2zM278 156h2v2h-2zM130 158h2v2h-2zM146 158h2v2h-2zM152 158h2v2h-2zM156 158h6v2h-6zM164 158h24v2h-24zM190 158h6v2h-6zM198 158h24v2h-24zM224 158h16v2h-16zM244 158h16v2h-16zM140 160h4v2h-4zM148 160h4v2h-4zM154 160h36v2h-36zM192 160h8v2h-8zM202 160h10v2h-10zM214 160h10v2h-10zM228 160h30v2h-30zM88 162h2v2h-2zM136 162h2v2h-2zM144 162h2v2h-2zM148 162h12v2h-12zM162 162h20v2h-20zM184 162h12v2h-12zM202 162h32v2h-32zM238 162h8v2h-8zM248 162h2v2h-2zM252 162h2v2h-2zM256 162h4v2h-4zM262 162h2v2h-2zM134 164h2v2h-2zM138 164h10v2h-10zM150 164h22v2h-22zM174 164h68v2h-68zM244 164h14v2h-14zM260 164h2v2h-2zM54 166h2v2h-2zM106 166h2v2h-2zM118 166h2v2h-2zM122 166h2v2h-2zM126 166h2v2h-2zM134 166h2v2h-2zM138 166h48v2h-48zM188 166h4v2h-4zM194 166h10v2h-10zM206 166h22v2h-22zM240 166h16v2h-16zM260 166h2v2h-2zM124 168h4v2h-4zM132 168h24v2h-24zM158 168h42v2h-42zM202 168h4v2h-4zM210 168h20v2h-20zM238 168h2v2h-2zM242 168h8v2h-8zM252 168h14v2h-14zM272 168h4v2h-4zM280 168h4v2h-4zM76 170h2v2h-2zM94 170h2v2h-2zM102 170h2v2h-2zM110 170h4v2h-4zM120 170h66v2h-66zM192 170h2v2h-2zM196 170h4v2h-4zM204 170h2v2h-2zM210 170h2v2h-2zM218 170h4v2h-4zM224 170h4v2h-4zM242 170h6v2h-6zM252 170h2v2h-2zM260 170h6v2h-6zM280 170h2v2h-2zM284 170h2v2h-2zM106 172h44v2h-44zM152 172h32v2h-32zM188 172h6v2h-6zM196 172h2v2h-2zM200 172h2v2h-2zM208 172h2v2h-2zM216 172h4v2h-4zM222 172h6v2h-6zM234 172h2v2h-2zM246 172h2v2h-2zM252 172h2v2h-2zM256 172h2v2h-2zM262 172h2v2h-2zM272 172h2v2h-2zM280 172h2v2h-2zM284 172h2v2h-2zM288 172h2v2h-2zM58 174h2v2h-2zM64 174h2v2h-2zM70 174h8v2h-8zM80 174h2v2h-2zM84 174h4v2h-4zM92 174h20v2h-20zM114 174h2v2h-2zM118 174h6v2h-6zM126 174h54v2h-54zM182 174h2v2h-2zM186 174h2v2h-2zM192 174h2v2h-2zM196 174h2v2h-2zM204 174h4v2h-4zM214 174h2v2h-2zM224 174h2v2h-2zM230 174h2v2h-2zM238 174h2v2h-2zM248 174h12v2h-12zM278 174h4v2h-4zM284 174h4v2h-4zM64 176h14v2h-14zM80 176h20v2h-20zM102 176h30v2h-30zM134 176h40v2h-40zM176 176h6v2h-6zM184 176h4v2h-4zM196 176h6v2h-6zM210 176h2v2h-2zM218 176h2v2h-2zM224 176h2v2h-2zM232 176h2v2h-2zM240 176h2v2h-2zM248 176h6v2h-6zM258 176h2v2h-2zM270 176h4v2h-4zM276 176h2v2h-2zM284 176h2v2h-2zM52 178h2v2h-2zM56 178h14v2h-14zM72 178h2v2h-2zM76 178h2v2h-2zM80 178h2v2h-2zM84 178h6v2h-6zM92 178h10v2h-10zM104 178h28v2h-28zM134 178h30v2h-30zM166 178h10v2h-10zM178 178h2v2h-2zM192 178h2v2h-2zM198 178h2v2h-2zM210 178h2v2h-2zM218 178h2v2h-2zM222 178h4v2h-4zM244 178h2v2h-2zM256 178h4v2h-4zM268 178h2v2h-2zM276 178h2v2h-2zM282 178h2v2h-2zM56 180h6v2h-6zM66 180h2v2h-2zM80 180h6v2h-6zM96 180h4v2h-4zM102 180h2v2h-2zM110 180h4v2h-4zM116 180h2v2h-2zM120 180h6v2h-6zM128 180h4v2h-4zM138 180h4v2h-4zM144 180h2v2h-2zM156 180h2v2h-2zM164 180h4v2h-4zM172 180h2v2h-2zM180 180h2v2h-2z"/><linearGradient id="vg19" x1="0" x2="1" y1="0" y2="0"><stop offset="0.00" stop-color="#23898e"/><stop offset="0.40" stop-color="#2d6f8e"/><stop offset="1.00" stop-color="#46307e"/></linearGradient><path fill="url(#vg19)" d="M57.8 181.1L57.8 178.6L80.7 175.8L103.6 174.6L103.6 181.1z"/></g>
<line x1="1945.9" y1="1073.1" x2="1945.9" y2="891.8" stroke="#707070" stroke-width="2.9" stroke-opacity="0.9"/>
<line x1="1767.7" y1="1056.8" x2="2117.9" y2="1056.8" stroke="#707070" stroke-width="2.9" stroke-opacity="0.9"/>
<text x="1928.4" y="913.9" font-size="19.8" text-anchor="end" fill="#808080" color="#808080">1620</text>
<text x="1824.7" y="1049.8" font-size="19.8" fill="#808080" color="#808080">6.3</text>
<path d="M1767.7 891.8V1073.1H2117.9" fill="none" stroke="#3a3a3a" stroke-width="2"/>
<line x1="1762.1" y1="1073.1" x2="1767.7" y2="1073.1" stroke="#3a3a3a" stroke-width="2"/>
<text x="1755.4" y="1079.1" font-size="16.5" text-anchor="end">0</text>
<line x1="1762.1" y1="1021.3" x2="1767.7" y2="1021.3" stroke="#3a3a3a" stroke-width="2"/>
<text x="1755.4" y="1027.3" font-size="16.5" text-anchor="end">20</text>
<line x1="1762.1" y1="969.5" x2="1767.7" y2="969.5" stroke="#3a3a3a" stroke-width="2"/>
<text x="1755.4" y="975.5" font-size="16.5" text-anchor="end">40</text>
<line x1="1762.1" y1="917.7" x2="1767.7" y2="917.7" stroke="#3a3a3a" stroke-width="2"/>
<text x="1755.4" y="923.7" font-size="16.5" text-anchor="end">60</text>
<line x1="1767.7" y1="1073.1" x2="1767.7" y2="1078.7" stroke="#3a3a3a" stroke-width="2"/>
<text x="1768.7" y="1097.5" font-size="16.5" text-anchor="middle">10<tspan font-size="12" dy="-6.5">0</tspan></text>
<line x1="1878.7" y1="1073.1" x2="1878.7" y2="1078.7" stroke="#3a3a3a" stroke-width="2"/>
<text x="1879.7" y="1097.5" font-size="16.5" text-anchor="middle">10<tspan font-size="12" dy="-6.5">2</tspan></text>
<line x1="1989.7" y1="1073.1" x2="1989.7" y2="1078.7" stroke="#3a3a3a" stroke-width="2"/>
<text x="1990.7" y="1097.5" font-size="16.5" text-anchor="middle">10<tspan font-size="12" dy="-6.5">4</tspan></text>
<line x1="2100.7" y1="1073.1" x2="2100.7" y2="1078.7" stroke="#3a3a3a" stroke-width="2"/>
<text x="2101.7" y="1097.5" font-size="16.5" text-anchor="middle">10<tspan font-size="12" dy="-6.5">6</tspan></text>
<text x="1942.8" y="1120.1" font-size="16.5" text-anchor="middle">Unique number of fragments</text>
<text transform="translate(1724.4 982.4) rotate(-90)" font-size="16.5" text-anchor="middle">TSS enrichment</text>
<text x="1942.8" y="882" font-size="19.8" text-anchor="middle">HyDrop 2</text>
<g transform="translate(75 1174)"><path fill="#341a5c" d="M194 94h2v2h-2zM198 98h2v2h-2zM206 98h2v2h-2zM176 102h2v2h-2zM186 102h6v2h-6zM166 104h2v2h-2zM182 104h2v2h-2zM188 104h4v2h-4zM194 104h2v2h-2zM200 104h4v2h-4zM176 106h2v2h-2zM180 106h2v2h-2zM188 106h2v2h-2zM194 106h2v2h-2zM202 106h6v2h-6zM210 106h4v2h-4zM180 108h8v2h-8zM192 108h4v2h-4zM200 108h6v2h-6zM208 108h4v2h-4zM216 108h2v2h-2zM172 110h2v2h-2zM180 110h2v2h-2zM184 110h16v2h-16zM202 110h10v2h-10zM214 110h2v2h-2zM222 110h2v2h-2zM164 112h2v2h-2zM176 112h26v2h-26zM204 112h2v2h-2zM208 112h8v2h-8zM224 112h2v2h-2zM178 114h2v2h-2zM184 114h2v2h-2zM188 114h28v2h-28zM218 114h2v2h-2zM168 116h4v2h-4zM174 116h2v2h-2zM178 116h2v2h-2zM182 116h10v2h-10zM194 116h22v2h-22zM218 116h4v2h-4zM224 116h2v2h-2zM228 116h2v2h-2zM174 118h24v2h-24zM200 118h8v2h-8zM210 118h20v2h-20zM234 118h2v2h-2zM168 120h2v2h-2zM172 120h2v2h-2zM176 120h2v2h-2zM180 120h30v2h-30zM212 120h6v2h-6zM220 120h8v2h-8zM230 120h4v2h-4zM236 120h2v2h-2zM170 122h2v2h-2zM176 122h14v2h-14zM192 122h28v2h-28zM222 122h18v2h-18zM168 124h2v2h-2zM172 124h30v2h-30zM204 124h30v2h-30zM236 124h8v2h-8zM174 126h40v2h-40zM216 126h20v2h-20zM242 126h2v2h-2zM172 128h8v2h-8zM182 128h36v2h-36zM220 128h32v2h-32zM166 130h14v2h-14zM182 130h8v2h-8zM192 130h4v2h-4zM198 130h50v2h-50zM158 132h2v2h-2zM168 132h2v2h-2zM172 132h76v2h-76zM166 134h4v2h-4zM172 134h24v2h-24zM198 134h24v2h-24zM224 134h14v2h-14zM240 134h10v2h-10zM252 134h2v2h-2zM144 136h2v2h-2zM164 136h54v2h-54zM220 136h20v2h-20zM242 136h2v2h-2zM246 136h4v2h-4zM256 136h2v2h-2zM264 136h2v2h-2zM160 138h2v2h-2zM164 138h46v2h-46zM212 138h22v2h-22zM236 138h16v2h-16zM162 140h26v2h-26zM192 140h64v2h-64zM156 142h4v2h-4zM162 142h60v2h-60zM224 142h20v2h-20zM246 142h6v2h-6zM254 142h2v2h-2zM154 144h4v2h-4zM160 144h28v2h-28zM190 144h66v2h-66zM264 144h2v2h-2zM154 146h34v2h-34zM190 146h28v2h-28zM220 146h38v2h-38zM268 146h2v2h-2zM282 146h2v2h-2zM152 148h46v2h-46zM200 148h48v2h-48zM254 148h4v2h-4zM154 150h84v2h-84zM240 150h10v2h-10zM254 150h2v2h-2zM258 150h2v2h-2zM122 152h2v2h-2zM146 152h2v2h-2zM150 152h12v2h-12zM164 152h12v2h-12zM180 152h74v2h-74zM256 152h4v2h-4zM136 154h2v2h-2zM148 154h110v2h-110zM142 156h32v2h-32zM176 156h12v2h-12zM190 156h32v2h-32zM224 156h16v2h-16zM242 156h14v2h-14zM258 156h4v2h-4zM146 158h34v2h-34zM182 158h56v2h-56zM240 158h16v2h-16zM258 158h2v2h-2zM88 160h2v2h-2zM138 160h2v2h-2zM144 160h8v2h-8zM154 160h34v2h-34zM190 160h4v2h-4zM196 160h2v2h-2zM200 160h30v2h-30zM234 160h14v2h-14zM250 160h4v2h-4zM258 160h2v2h-2zM134 162h2v2h-2zM140 162h6v2h-6zM148 162h6v2h-6zM156 162h34v2h-34zM192 162h6v2h-6zM200 162h6v2h-6zM208 162h4v2h-4zM214 162h2v2h-2zM220 162h2v2h-2zM226 162h2v2h-2zM232 162h4v2h-4zM240 162h2v2h-2zM244 162h10v2h-10zM256 162h2v2h-2zM260 162h2v2h-2zM120 164h2v2h-2zM130 164h2v2h-2zM134 164h12v2h-12zM148 164h2v2h-2zM152 164h56v2h-56zM210 164h6v2h-6zM218 164h42v2h-42zM54 166h2v2h-2zM60 166h2v2h-2zM102 166h2v2h-2zM112 166h2v2h-2zM122 166h4v2h-4zM134 166h2v2h-2zM138 166h10v2h-10zM150 166h42v2h-42zM194 166h2v2h-2zM198 166h6v2h-6zM206 166h6v2h-6zM214 166h2v2h-2zM218 166h4v2h-4zM224 166h2v2h-2zM228 166h2v2h-2zM232 166h14v2h-14zM248 166h2v2h-2zM254 166h4v2h-4zM260 166h2v2h-2zM268 166h2v2h-2zM272 166h2v2h-2zM276 166h2v2h-2zM286 166h6v2h-6zM88 168h2v2h-2zM124 168h2v2h-2zM128 168h24v2h-24zM154 168h14v2h-14zM170 168h18v2h-18zM190 168h4v2h-4zM198 168h2v2h-2zM204 168h2v2h-2zM216 168h2v2h-2zM220 168h4v2h-4zM226 168h8v2h-8zM238 168h2v2h-2zM242 168h2v2h-2zM246 168h6v2h-6zM254 168h6v2h-6zM266 168h6v2h-6zM274 168h2v2h-2zM280 168h4v2h-4zM66 170h2v2h-2zM76 170h2v2h-2zM80 170h2v2h-2zM94 170h2v2h-2zM112 170h2v2h-2zM120 170h12v2h-12zM134 170h12v2h-12zM150 170h2v2h-2zM154 170h36v2h-36zM192 170h4v2h-4zM198 170h4v2h-4zM208 170h2v2h-2zM234 170h4v2h-4zM242 170h2v2h-2zM246 170h2v2h-2zM254 170h2v2h-2zM258 170h2v2h-2zM270 170h4v2h-4zM280 170h4v2h-4zM286 170h4v2h-4zM68 172h2v2h-2zM74 172h2v2h-2zM80 172h2v2h-2zM92 172h8v2h-8zM106 172h14v2h-14zM122 172h10v2h-10zM134 172h40v2h-40zM176 172h6v2h-6zM184 172h2v2h-2zM190 172h4v2h-4zM200 172h2v2h-2zM204 172h2v2h-2zM208 172h4v2h-4zM218 172h4v2h-4zM224 172h2v2h-2zM230 172h2v2h-2zM242 172h2v2h-2zM252 172h4v2h-4zM268 172h2v2h-2zM276 172h2v2h-2zM288 172h2v2h-2zM56 174h2v2h-2zM68 174h2v2h-2zM74 174h2v2h-2zM80 174h4v2h-4zM86 174h16v2h-16zM104 174h38v2h-38zM144 174h38v2h-38zM196 174h2v2h-2zM200 174h6v2h-6zM216 174h2v2h-2zM224 174h6v2h-6zM232 174h2v2h-2zM240 174h2v2h-2zM252 174h2v2h-2zM260 174h2v2h-2zM266 174h2v2h-2zM274 174h2v2h-2zM282 174h4v2h-4zM288 174h4v2h-4zM58 176h6v2h-6zM66 176h62v2h-62zM132 176h4v2h-4zM138 176h42v2h-42zM182 176h2v2h-2zM190 176h6v2h-6zM198 176h2v2h-2zM208 176h6v2h-6zM216 176h2v2h-2zM224 176h2v2h-2zM228 176h2v2h-2zM236 176h4v2h-4zM258 176h2v2h-2zM262 176h2v2h-2zM266 176h2v2h-2zM270 176h2v2h-2zM280 176h2v2h-2zM286 176h2v2h-2zM290 176h2v2h-2zM58 178h20v2h-20zM82 178h20v2h-20zM104 178h4v2h-4zM114 178h10v2h-10zM126 178h16v2h-16zM144 178h12v2h-12zM158 178h8v2h-8zM168 178h16v2h-16zM186 178h2v2h-2zM190 178h2v2h-2zM202 178h4v2h-4zM210 178h2v2h-2zM230 178h2v2h-2zM242 178h2v2h-2zM254 178h2v2h-2zM260 178h4v2h-4zM274 178h2v2h-2zM282 178h2v2h-2zM56 180h2v2h-2zM64 180h2v2h-2zM68 180h8v2h-8zM78 180h2v2h-2zM82 180h8v2h-8zM94 180h2v2h-2zM102 180h2v2h-2zM106 180h2v2h-2zM114 180h8v2h-8zM126 180h4v2h-4zM134 180h2v2h-2zM138 180h2v2h-2zM142 180h2v2h-2zM156 180h2v2h-2zM168 180h4v2h-4zM174 180h4v2h-4z"/><linearGradient id="vg20" x1="0" x2="1" y1="0" y2="0"><stop offset="0.00" stop-color="#23898e"/><stop offset="0.40" stop-color="#2d6f8e"/><stop offset="1.00" stop-color="#46307e"/></linearGradient><path fill="url(#vg20)" d="M57.8 181.4L57.8 178.9L80.7 176.1L103.6 174.9L103.6 181.4z"/></g>
<line x1="249.7" y1="1355.4" x2="249.7" y2="1174.1" stroke="#707070" stroke-width="2.9" stroke-opacity="0.9"/>
<line x1="74.6" y1="1339.9" x2="424.8" y2="1339.9" stroke="#707070" stroke-width="2.9" stroke-opacity="0.9"/>
<text x="232.2" y="1196.2" font-size="19.8" text-anchor="end" fill="#808080" color="#808080">1427</text>
<text x="131.6" y="1332.9" font-size="19.8" fill="#808080" color="#808080">5.8</text>
<path d="M74.6 1174.1V1355.4H424.8" fill="none" stroke="#3a3a3a" stroke-width="2"/>
<line x1="69" y1="1355.4" x2="74.6" y2="1355.4" stroke="#3a3a3a" stroke-width="2"/>
<text x="62.3" y="1361.4" font-size="16.5" text-anchor="end">0</text>
<line x1="69" y1="1303.6" x2="74.6" y2="1303.6" stroke="#3a3a3a" stroke-width="2"/>
<text x="62.3" y="1309.6" font-size="16.5" text-anchor="end">20</text>
<line x1="69" y1="1251.8" x2="74.6" y2="1251.8" stroke="#3a3a3a" stroke-width="2"/>
<text x="62.3" y="1257.8" font-size="16.5" text-anchor="end">40</text>
<line x1="69" y1="1200" x2="74.6" y2="1200" stroke="#3a3a3a" stroke-width="2"/>
<text x="62.3" y="1206" font-size="16.5" text-anchor="end">60</text>
<line x1="74.6" y1="1355.4" x2="74.6" y2="1361" stroke="#3a3a3a" stroke-width="2"/>
<text x="75.6" y="1379.8" font-size="16.5" text-anchor="middle">10<tspan font-size="12" dy="-6.5">0</tspan></text>
<line x1="185.6" y1="1355.4" x2="185.6" y2="1361" stroke="#3a3a3a" stroke-width="2"/>
<text x="186.6" y="1379.8" font-size="16.5" text-anchor="middle">10<tspan font-size="12" dy="-6.5">2</tspan></text>
<line x1="296.6" y1="1355.4" x2="296.6" y2="1361" stroke="#3a3a3a" stroke-width="2"/>
<text x="297.6" y="1379.8" font-size="16.5" text-anchor="middle">10<tspan font-size="12" dy="-6.5">4</tspan></text>
<line x1="407.6" y1="1355.4" x2="407.6" y2="1361" stroke="#3a3a3a" stroke-width="2"/>
<text x="408.6" y="1379.8" font-size="16.5" text-anchor="middle">10<tspan font-size="12" dy="-6.5">6</tspan></text>
<text x="249.7" y="1402.4" font-size="16.5" text-anchor="middle">Unique number of fragments</text>
<text transform="translate(31.3 1264.8) rotate(-90)" font-size="16.5" text-anchor="middle">TSS enrichment</text>
<text x="249.7" y="1164.3" font-size="19.8" text-anchor="middle">HyDrop 3</text>
<g transform="translate(499 1174)"><path fill="#341a5c" d="M182 88h2v2h-2zM180 92h2v2h-2zM198 92h2v2h-2zM188 94h2v2h-2zM194 96h2v2h-2zM202 96h2v2h-2zM204 98h4v2h-4zM184 100h2v2h-2zM194 100h4v2h-4zM204 102h2v2h-2zM194 104h4v2h-4zM200 104h2v2h-2zM188 106h2v2h-2zM192 106h2v2h-2zM196 106h2v2h-2zM202 106h6v2h-6zM212 106h2v2h-2zM188 108h2v2h-2zM192 108h4v2h-4zM198 108h2v2h-2zM202 108h2v2h-2zM188 110h8v2h-8zM200 110h2v2h-2zM206 110h2v2h-2zM210 110h2v2h-2zM214 110h2v2h-2zM176 112h2v2h-2zM180 112h2v2h-2zM184 112h8v2h-8zM198 112h6v2h-6zM206 112h8v2h-8zM222 112h2v2h-2zM176 114h4v2h-4zM182 114h22v2h-22zM206 114h8v2h-8zM216 114h4v2h-4zM176 116h10v2h-10zM188 116h10v2h-10zM200 116h22v2h-22zM174 118h4v2h-4zM180 118h8v2h-8zM190 118h28v2h-28zM220 118h2v2h-2zM226 118h2v2h-2zM172 120h16v2h-16zM190 120h32v2h-32zM226 120h2v2h-2zM230 120h2v2h-2zM172 122h2v2h-2zM178 122h2v2h-2zM182 122h4v2h-4zM188 122h16v2h-16zM206 122h16v2h-16zM224 122h2v2h-2zM234 122h4v2h-4zM170 124h4v2h-4zM178 124h44v2h-44zM224 124h2v2h-2zM228 124h6v2h-6zM236 124h2v2h-2zM158 126h2v2h-2zM172 126h60v2h-60zM236 126h2v2h-2zM240 126h4v2h-4zM166 128h10v2h-10zM178 128h18v2h-18zM198 128h34v2h-34zM234 128h2v2h-2zM238 128h4v2h-4zM162 130h12v2h-12zM176 130h32v2h-32zM210 130h20v2h-20zM232 130h2v2h-2zM236 130h6v2h-6zM244 130h4v2h-4zM250 130h2v2h-2zM166 132h4v2h-4zM174 132h56v2h-56zM232 132h6v2h-6zM242 132h4v2h-4zM250 132h2v2h-2zM164 134h4v2h-4zM170 134h4v2h-4zM176 134h48v2h-48zM226 134h6v2h-6zM234 134h12v2h-12zM166 136h8v2h-8zM176 136h24v2h-24zM202 136h14v2h-14zM218 136h8v2h-8zM228 136h14v2h-14zM244 136h8v2h-8zM268 136h2v2h-2zM150 138h2v2h-2zM154 138h2v2h-2zM162 138h8v2h-8zM172 138h2v2h-2zM176 138h54v2h-54zM232 138h10v2h-10zM244 138h4v2h-4zM254 138h2v2h-2zM268 138h2v2h-2zM154 140h2v2h-2zM162 140h10v2h-10zM174 140h24v2h-24zM200 140h50v2h-50zM254 140h2v2h-2zM260 140h2v2h-2zM282 140h2v2h-2zM152 142h2v2h-2zM160 142h4v2h-4zM166 142h6v2h-6zM174 142h48v2h-48zM224 142h28v2h-28zM254 142h4v2h-4zM280 142h2v2h-2zM156 144h2v2h-2zM160 144h4v2h-4zM166 144h30v2h-30zM200 144h58v2h-58zM152 146h2v2h-2zM158 146h66v2h-66zM226 146h30v2h-30zM258 146h2v2h-2zM262 146h2v2h-2zM152 148h2v2h-2zM156 148h62v2h-62zM220 148h20v2h-20zM242 148h16v2h-16zM260 148h4v2h-4zM278 148h2v2h-2zM152 150h110v2h-110zM264 150h2v2h-2zM276 150h2v2h-2zM284 150h2v2h-2zM150 152h38v2h-38zM190 152h40v2h-40zM232 152h26v2h-26zM262 152h4v2h-4zM268 152h2v2h-2zM288 152h2v2h-2zM148 154h38v2h-38zM188 154h16v2h-16zM206 154h4v2h-4zM212 154h26v2h-26zM240 154h4v2h-4zM246 154h16v2h-16zM266 154h2v2h-2zM140 156h2v2h-2zM146 156h28v2h-28zM176 156h2v2h-2zM180 156h10v2h-10zM192 156h36v2h-36zM230 156h16v2h-16zM248 156h12v2h-12zM264 156h4v2h-4zM138 158h2v2h-2zM142 158h2v2h-2zM146 158h20v2h-20zM168 158h26v2h-26zM196 158h4v2h-4zM202 158h10v2h-10zM214 158h14v2h-14zM230 158h2v2h-2zM234 158h26v2h-26zM266 158h2v2h-2zM270 158h2v2h-2zM144 160h20v2h-20zM166 160h24v2h-24zM192 160h12v2h-12zM206 160h10v2h-10zM218 160h2v2h-2zM222 160h16v2h-16zM240 160h2v2h-2zM246 160h4v2h-4zM252 160h2v2h-2zM256 160h8v2h-8zM266 160h2v2h-2zM138 162h66v2h-66zM208 162h6v2h-6zM216 162h2v2h-2zM220 162h18v2h-18zM240 162h6v2h-6zM250 162h2v2h-2zM254 162h8v2h-8zM264 162h2v2h-2zM132 164h2v2h-2zM136 164h2v2h-2zM140 164h44v2h-44zM186 164h2v2h-2zM190 164h8v2h-8zM200 164h6v2h-6zM220 164h10v2h-10zM234 164h2v2h-2zM240 164h2v2h-2zM244 164h4v2h-4zM254 164h18v2h-18zM122 166h4v2h-4zM130 166h60v2h-60zM192 166h10v2h-10zM206 166h2v2h-2zM218 166h4v2h-4zM226 166h2v2h-2zM230 166h2v2h-2zM238 166h2v2h-2zM242 166h4v2h-4zM248 166h2v2h-2zM252 166h2v2h-2zM256 166h8v2h-8zM266 166h4v2h-4zM274 166h2v2h-2zM114 168h2v2h-2zM118 168h2v2h-2zM122 168h6v2h-6zM130 168h22v2h-22zM154 168h4v2h-4zM160 168h26v2h-26zM190 168h2v2h-2zM212 168h4v2h-4zM218 168h2v2h-2zM224 168h4v2h-4zM232 168h2v2h-2zM236 168h2v2h-2zM240 168h2v2h-2zM250 168h2v2h-2zM254 168h2v2h-2zM260 168h2v2h-2zM264 168h2v2h-2zM272 168h2v2h-2zM70 170h2v2h-2zM80 170h4v2h-4zM98 170h2v2h-2zM104 170h2v2h-2zM110 170h4v2h-4zM116 170h2v2h-2zM120 170h28v2h-28zM150 170h34v2h-34zM190 170h2v2h-2zM200 170h2v2h-2zM212 170h8v2h-8zM222 170h2v2h-2zM226 170h2v2h-2zM234 170h4v2h-4zM250 170h4v2h-4zM258 170h2v2h-2zM262 170h2v2h-2zM270 170h2v2h-2zM276 170h2v2h-2zM74 172h2v2h-2zM82 172h2v2h-2zM86 172h2v2h-2zM90 172h2v2h-2zM96 172h4v2h-4zM102 172h2v2h-2zM108 172h10v2h-10zM120 172h6v2h-6zM128 172h56v2h-56zM188 172h4v2h-4zM204 172h2v2h-2zM210 172h2v2h-2zM220 172h2v2h-2zM224 172h2v2h-2zM236 172h2v2h-2zM244 172h2v2h-2zM254 172h6v2h-6zM264 172h2v2h-2zM58 174h2v2h-2zM66 174h2v2h-2zM74 174h4v2h-4zM82 174h6v2h-6zM90 174h22v2h-22zM114 174h8v2h-8zM124 174h6v2h-6zM132 174h50v2h-50zM188 174h2v2h-2zM194 174h2v2h-2zM198 174h2v2h-2zM204 174h2v2h-2zM208 174h2v2h-2zM216 174h2v2h-2zM220 174h2v2h-2zM230 174h2v2h-2zM254 174h2v2h-2zM266 174h4v2h-4zM64 176h18v2h-18zM84 176h98v2h-98zM198 176h2v2h-2zM210 176h2v2h-2zM224 176h2v2h-2zM230 176h2v2h-2zM234 176h2v2h-2zM242 176h4v2h-4zM254 176h4v2h-4zM266 176h2v2h-2zM270 176h2v2h-2zM56 178h12v2h-12zM70 178h24v2h-24zM96 178h18v2h-18zM116 178h2v2h-2zM122 178h8v2h-8zM132 178h4v2h-4zM138 178h32v2h-32zM172 178h8v2h-8zM184 178h2v2h-2zM190 178h2v2h-2zM194 178h2v2h-2zM198 178h2v2h-2zM202 178h2v2h-2zM216 178h2v2h-2zM228 178h2v2h-2zM238 178h2v2h-2zM242 178h2v2h-2zM254 178h2v2h-2zM260 178h4v2h-4zM274 178h2v2h-2zM278 178h2v2h-2zM56 180h4v2h-4zM62 180h2v2h-2zM66 180h4v2h-4zM72 180h2v2h-2zM78 180h2v2h-2zM82 180h2v2h-2zM104 180h2v2h-2zM114 180h4v2h-4zM120 180h4v2h-4zM126 180h6v2h-6zM134 180h2v2h-2zM140 180h6v2h-6zM156 180h6v2h-6zM170 180h4v2h-4z"/><linearGradient id="vg21" x1="0" x2="1" y1="0" y2="0"><stop offset="0.00" stop-color="#23898e"/><stop offset="0.40" stop-color="#2d6f8e"/><stop offset="1.00" stop-color="#46307e"/></linearGradient><path fill="url(#vg21)" d="M57.8 181.4L57.8 178.9L80.7 176.1L103.6 174.9L103.6 181.4z"/></g>
<line x1="673" y1="1355.4" x2="673" y2="1174.1" stroke="#707070" stroke-width="2.9" stroke-opacity="0.9"/>
<line x1="499.4" y1="1339.8" x2="849.6" y2="1339.8" stroke="#707070" stroke-width="2.9" stroke-opacity="0.9"/>
<text x="655.5" y="1196.2" font-size="19.8" text-anchor="end" fill="#808080" color="#808080">1494</text>
<text x="556.4" y="1332.8" font-size="19.8" fill="#808080" color="#808080">5.9</text>
<path d="M499.4 1174.1V1355.4H849.6" fill="none" stroke="#3a3a3a" stroke-width="2"/>
<line x1="493.8" y1="1355.4" x2="499.4" y2="1355.4" stroke="#3a3a3a" stroke-width="2"/>
<text x="487.1" y="1361.4" font-size="16.5" text-anchor="end">0</text>
<line x1="493.8" y1="1303.6" x2="499.4" y2="1303.6" stroke="#3a3a3a" stroke-width="2"/>
<text x="487.1" y="1309.6" font-size="16.5" text-anchor="end">20</text>
<line x1="493.8" y1="1251.8" x2="499.4" y2="1251.8" stroke="#3a3a3a" stroke-width="2"/>
<text x="487.1" y="1257.8" font-size="16.5" text-anchor="end">40</text>
<line x1="493.8" y1="1200" x2="499.4" y2="1200" stroke="#3a3a3a" stroke-width="2"/>
<text x="487.1" y="1206" font-size="16.5" text-anchor="end">60</text>
<line x1="499.4" y1="1355.4" x2="499.4" y2="1361" stroke="#3a3a3a" stroke-width="2"/>
<text x="500.4" y="1379.8" font-size="16.5" text-anchor="middle">10<tspan font-size="12" dy="-6.5">0</tspan></text>
<line x1="610.4" y1="1355.4" x2="610.4" y2="1361" stroke="#3a3a3a" stroke-width="2"/>
<text x="611.4" y="1379.8" font-size="16.5" text-anchor="middle">10<tspan font-size="12" dy="-6.5">2</tspan></text>
<line x1="721.4" y1="1355.4" x2="721.4" y2="1361" stroke="#3a3a3a" stroke-width="2"/>
<text x="722.4" y="1379.8" font-size="16.5" text-anchor="middle">10<tspan font-size="12" dy="-6.5">4</tspan></text>
<line x1="832.4" y1="1355.4" x2="832.4" y2="1361" stroke="#3a3a3a" stroke-width="2"/>
<text x="833.4" y="1379.8" font-size="16.5" text-anchor="middle">10<tspan font-size="12" dy="-6.5">6</tspan></text>
<text x="674.5" y="1402.4" font-size="16.5" text-anchor="middle">Unique number of fragments</text>
<text transform="translate(456.1 1264.8) rotate(-90)" font-size="16.5" text-anchor="middle">TSS enrichment</text>
<text x="674.5" y="1164.3" font-size="19.8" text-anchor="middle">HyDrop 4</text>
<g transform="translate(922 1174)"><path fill="#341a5c" d="M210 76h2v2h-2zM218 78h4v2h-4zM208 80h2v2h-2zM222 82h2v2h-2zM190 84h2v2h-2zM212 84h2v2h-2zM210 86h2v2h-2zM218 88h2v2h-2zM204 90h2v2h-2zM194 92h2v2h-2zM210 92h2v2h-2zM192 94h2v2h-2zM202 94h2v2h-2zM188 96h2v2h-2zM198 96h2v2h-2zM204 100h2v2h-2zM192 104h2v2h-2zM214 104h2v2h-2zM218 104h2v2h-2zM204 106h2v2h-2zM184 108h4v2h-4zM192 108h4v2h-4zM198 108h2v2h-2zM214 108h2v2h-2zM186 110h2v2h-2zM190 110h2v2h-2zM198 110h2v2h-2zM176 112h2v2h-2zM180 112h12v2h-12zM194 112h2v2h-2zM198 112h2v2h-2zM202 112h8v2h-8zM212 112h2v2h-2zM216 112h2v2h-2zM176 114h2v2h-2zM180 114h4v2h-4zM186 114h6v2h-6zM194 114h2v2h-2zM198 114h6v2h-6zM206 114h2v2h-2zM210 114h4v2h-4zM218 114h2v2h-2zM178 116h16v2h-16zM200 116h8v2h-8zM212 116h4v2h-4zM218 116h4v2h-4zM180 118h6v2h-6zM188 118h2v2h-2zM192 118h6v2h-6zM200 118h16v2h-16zM218 118h6v2h-6zM152 120h2v2h-2zM176 120h6v2h-6zM184 120h18v2h-18zM204 120h12v2h-12zM218 120h4v2h-4zM224 120h6v2h-6zM172 122h4v2h-4zM180 122h38v2h-38zM220 122h6v2h-6zM228 122h2v2h-2zM234 122h4v2h-4zM170 124h32v2h-32zM204 124h6v2h-6zM212 124h4v2h-4zM218 124h8v2h-8zM230 124h6v2h-6zM168 126h2v2h-2zM172 126h22v2h-22zM196 126h10v2h-10zM208 126h32v2h-32zM242 126h2v2h-2zM160 128h2v2h-2zM164 128h2v2h-2zM172 128h46v2h-46zM220 128h4v2h-4zM226 128h4v2h-4zM234 128h4v2h-4zM242 128h4v2h-4zM168 130h8v2h-8zM178 130h12v2h-12zM192 130h22v2h-22zM218 130h26v2h-26zM284 130h2v2h-2zM164 132h18v2h-18zM184 132h6v2h-6zM192 132h16v2h-16zM210 132h30v2h-30zM242 132h4v2h-4zM266 132h2v2h-2zM160 134h2v2h-2zM168 134h14v2h-14zM184 134h44v2h-44zM230 134h8v2h-8zM244 134h2v2h-2zM284 134h2v2h-2zM162 136h2v2h-2zM166 136h8v2h-8zM176 136h6v2h-6zM184 136h26v2h-26zM212 136h8v2h-8zM222 136h24v2h-24zM248 136h2v2h-2zM268 136h2v2h-2zM292 136h2v2h-2zM160 138h2v2h-2zM164 138h6v2h-6zM172 138h14v2h-14zM188 138h10v2h-10zM200 138h36v2h-36zM238 138h6v2h-6zM246 138h4v2h-4zM162 140h58v2h-58zM222 140h10v2h-10zM234 140h18v2h-18zM268 140h2v2h-2zM162 142h78v2h-78zM242 142h6v2h-6zM250 142h2v2h-2zM162 144h82v2h-82zM246 144h10v2h-10zM148 146h2v2h-2zM160 146h56v2h-56zM218 146h26v2h-26zM246 146h8v2h-8zM256 146h4v2h-4zM156 148h58v2h-58zM216 148h34v2h-34zM254 148h2v2h-2zM266 148h2v2h-2zM154 150h42v2h-42zM198 150h2v2h-2zM202 150h42v2h-42zM246 150h10v2h-10zM150 152h2v2h-2zM154 152h52v2h-52zM208 152h8v2h-8zM218 152h22v2h-22zM242 152h14v2h-14zM150 154h58v2h-58zM210 154h2v2h-2zM214 154h40v2h-40zM148 156h2v2h-2zM152 156h56v2h-56zM210 156h4v2h-4zM220 156h2v2h-2zM224 156h4v2h-4zM230 156h12v2h-12zM244 156h14v2h-14zM142 158h6v2h-6zM150 158h34v2h-34zM186 158h10v2h-10zM200 158h2v2h-2zM204 158h26v2h-26zM232 158h2v2h-2zM238 158h8v2h-8zM250 158h8v2h-8zM264 158h2v2h-2zM126 160h2v2h-2zM142 160h2v2h-2zM146 160h20v2h-20zM168 160h38v2h-38zM210 160h6v2h-6zM218 160h12v2h-12zM232 160h6v2h-6zM242 160h16v2h-16zM134 162h4v2h-4zM142 162h42v2h-42zM186 162h12v2h-12zM202 162h2v2h-2zM208 162h6v2h-6zM218 162h6v2h-6zM230 162h2v2h-2zM238 162h10v2h-10zM250 162h4v2h-4zM258 162h2v2h-2zM264 162h2v2h-2zM270 162h4v2h-4zM278 162h4v2h-4zM136 164h60v2h-60zM204 164h2v2h-2zM210 164h6v2h-6zM218 164h2v2h-2zM222 164h8v2h-8zM232 164h2v2h-2zM246 164h2v2h-2zM252 164h2v2h-2zM256 164h2v2h-2zM266 164h2v2h-2zM274 164h4v2h-4zM98 166h2v2h-2zM104 166h2v2h-2zM118 166h2v2h-2zM126 166h2v2h-2zM132 166h2v2h-2zM136 166h54v2h-54zM194 166h2v2h-2zM198 166h6v2h-6zM206 166h4v2h-4zM214 166h2v2h-2zM218 166h2v2h-2zM222 166h4v2h-4zM230 166h2v2h-2zM234 166h2v2h-2zM238 166h2v2h-2zM242 166h2v2h-2zM248 166h8v2h-8zM260 166h2v2h-2zM264 166h2v2h-2zM268 166h2v2h-2zM278 166h2v2h-2zM286 166h2v2h-2zM104 168h4v2h-4zM114 168h2v2h-2zM118 168h2v2h-2zM122 168h2v2h-2zM126 168h70v2h-70zM206 168h2v2h-2zM212 168h4v2h-4zM222 168h2v2h-2zM228 168h4v2h-4zM238 168h2v2h-2zM244 168h4v2h-4zM254 168h8v2h-8zM264 168h6v2h-6zM284 168h2v2h-2zM100 170h4v2h-4zM106 170h2v2h-2zM110 170h2v2h-2zM114 170h6v2h-6zM122 170h64v2h-64zM188 170h4v2h-4zM204 170h2v2h-2zM214 170h2v2h-2zM218 170h2v2h-2zM224 170h2v2h-2zM228 170h2v2h-2zM236 170h2v2h-2zM242 170h2v2h-2zM248 170h2v2h-2zM260 170h2v2h-2zM264 170h2v2h-2zM270 170h4v2h-4zM284 170h2v2h-2zM68 172h2v2h-2zM88 172h4v2h-4zM106 172h44v2h-44zM152 172h32v2h-32zM190 172h2v2h-2zM206 172h6v2h-6zM224 172h4v2h-4zM230 172h4v2h-4zM238 172h6v2h-6zM246 172h2v2h-2zM252 172h2v2h-2zM258 172h4v2h-4zM264 172h2v2h-2zM268 172h4v2h-4zM278 172h2v2h-2zM282 172h2v2h-2zM286 172h2v2h-2zM56 174h2v2h-2zM60 174h2v2h-2zM66 174h2v2h-2zM70 174h2v2h-2zM74 174h8v2h-8zM84 174h22v2h-22zM108 174h10v2h-10zM120 174h6v2h-6zM128 174h26v2h-26zM156 174h4v2h-4zM162 174h6v2h-6zM170 174h14v2h-14zM188 174h2v2h-2zM194 174h2v2h-2zM198 174h2v2h-2zM202 174h2v2h-2zM206 174h2v2h-2zM224 174h2v2h-2zM228 174h2v2h-2zM232 174h2v2h-2zM236 174h2v2h-2zM246 174h6v2h-6zM258 174h2v2h-2zM270 174h2v2h-2zM274 174h4v2h-4zM284 174h4v2h-4zM60 176h2v2h-2zM64 176h4v2h-4zM70 176h8v2h-8zM80 176h12v2h-12zM94 176h88v2h-88zM186 176h2v2h-2zM192 176h2v2h-2zM196 176h2v2h-2zM212 176h2v2h-2zM220 176h2v2h-2zM224 176h2v2h-2zM228 176h4v2h-4zM236 176h2v2h-2zM244 176h2v2h-2zM248 176h2v2h-2zM252 176h2v2h-2zM266 176h2v2h-2zM278 176h2v2h-2zM58 178h10v2h-10zM70 178h16v2h-16zM88 178h4v2h-4zM94 178h14v2h-14zM110 178h12v2h-12zM124 178h10v2h-10zM136 178h2v2h-2zM140 178h2v2h-2zM144 178h10v2h-10zM156 178h2v2h-2zM160 178h2v2h-2zM164 178h8v2h-8zM174 178h12v2h-12zM192 178h6v2h-6zM200 178h2v2h-2zM218 178h2v2h-2zM226 178h2v2h-2zM232 178h2v2h-2zM236 178h2v2h-2zM242 178h4v2h-4zM250 178h2v2h-2zM254 178h6v2h-6zM266 178h2v2h-2zM270 178h8v2h-8zM282 178h2v2h-2zM286 178h2v2h-2zM58 180h6v2h-6zM66 180h2v2h-2zM76 180h2v2h-2zM80 180h2v2h-2zM94 180h6v2h-6zM104 180h2v2h-2zM108 180h2v2h-2zM112 180h2v2h-2zM116 180h8v2h-8zM128 180h2v2h-2zM132 180h2v2h-2zM138 180h10v2h-10zM170 180h6v2h-6zM178 180h2v2h-2zM192 180h2v2h-2z"/><linearGradient id="vg22" x1="0" x2="1" y1="0" y2="0"><stop offset="0.00" stop-color="#23898e"/><stop offset="0.40" stop-color="#2d6f8e"/><stop offset="1.00" stop-color="#46307e"/></linearGradient><path fill="url(#vg22)" d="M57.8 181.4L57.8 178.9L80.7 176.1L103.6 174.9L103.6 181.4z"/></g>
<line x1="1097" y1="1355.4" x2="1097" y2="1174.1" stroke="#707070" stroke-width="2.9" stroke-opacity="0.9"/>
<line x1="922.2" y1="1336.1" x2="1272.4" y2="1336.1" stroke="#707070" stroke-width="2.9" stroke-opacity="0.9"/>
<text x="1079.5" y="1196.2" font-size="19.8" text-anchor="end" fill="#808080" color="#808080">1424</text>
<text x="979.2" y="1329.1" font-size="19.8" fill="#808080" color="#808080">7.4</text>
<path d="M922.2 1174.1V1355.4H1272.4" fill="none" stroke="#3a3a3a" stroke-width="2"/>
<line x1="916.6" y1="1355.4" x2="922.2" y2="1355.4" stroke="#3a3a3a" stroke-width="2"/>
<text x="909.9" y="1361.4" font-size="16.5" text-anchor="end">0</text>
<line x1="916.6" y1="1303.6" x2="922.2" y2="1303.6" stroke="#3a3a3a" stroke-width="2"/>
<text x="909.9" y="1309.6" font-size="16.5" text-anchor="end">20</text>
<line x1="916.6" y1="1251.8" x2="922.2" y2="1251.8" stroke="#3a3a3a" stroke-width="2"/>
<text x="909.9" y="1257.8" font-size="16.5" text-anchor="end">40</text>
<line x1="916.6" y1="1200" x2="922.2" y2="1200" stroke="#3a3a3a" stroke-width="2"/>
<text x="909.9" y="1206" font-size="16.5" text-anchor="end">60</text>
<line x1="922.2" y1="1355.4" x2="922.2" y2="1361" stroke="#3a3a3a" stroke-width="2"/>
<text x="923.2" y="1379.8" font-size="16.5" text-anchor="middle">10<tspan font-size="12" dy="-6.5">0</tspan></text>
<line x1="1033.2" y1="1355.4" x2="1033.2" y2="1361" stroke="#3a3a3a" stroke-width="2"/>
<text x="1034.2" y="1379.8" font-size="16.5" text-anchor="middle">10<tspan font-size="12" dy="-6.5">2</tspan></text>
<line x1="1144.2" y1="1355.4" x2="1144.2" y2="1361" stroke="#3a3a3a" stroke-width="2"/>
<text x="1145.2" y="1379.8" font-size="16.5" text-anchor="middle">10<tspan font-size="12" dy="-6.5">4</tspan></text>
<line x1="1255.2" y1="1355.4" x2="1255.2" y2="1361" stroke="#3a3a3a" stroke-width="2"/>
<text x="1256.2" y="1379.8" font-size="16.5" text-anchor="middle">10<tspan font-size="12" dy="-6.5">6</tspan></text>
<text x="1097.3" y="1402.4" font-size="16.5" text-anchor="middle">Unique number of fragments</text>
<text transform="translate(878.9 1264.8) rotate(-90)" font-size="16.5" text-anchor="middle">TSS enrichment</text>
<text x="1097.3" y="1164.3" font-size="19.8" text-anchor="middle">HyDrop 5</text>
</g>
<text x="14" y="40.7" font-family="'Liberation Sans', sans-serif" font-size="48" fill="#1c1c1c">a</text>
<g font-family="'DejaVu Sans', 'Liberation Sans', sans-serif" font-weight="bold" fill="#000">
<clipPath id="cb00"><rect x="80" y="1527" width="446" height="421.8"/></clipPath>
<g clip-path="url(#cb00)" fill="none" stroke-linecap="square" stroke-linejoin="round">
<polyline points="100.3,1926.6 145.3,1926.6 190.4,1926.6 235.4,1926.6 280.5,1926.6 325.5,1926.6 370.6,1926.6 415.6,1926.6 460.7,1926.6 505.7,1926.6" stroke="#179A78" stroke-width="4.4"/>
<polyline points="100.3,1929.7 145.3,1929.7 190.4,1929.7 235.4,1929.7 280.5,1929.7 325.5,1929.7 370.6,1929.7 415.6,1929.7 460.7,1929.7 505.7,1929.7" stroke="#179A78" stroke-width="4.4"/>
<polyline points="100.3,1908.1 145.3,1907.6 190.4,1907.1 235.4,1906.5 280.5,1906.5 325.5,1906 370.6,1906 415.6,1905.5 460.7,1905 505.7,1905" stroke="#9A6C30" stroke-width="4.4"/>
<polyline points="100.3,1880.3 145.3,1880.3 190.4,1880.3 235.4,1880.3 280.5,1880.3 325.5,1880.8 370.6,1880.8 415.6,1880.8 460.7,1880.8 505.7,1880.8" stroke="#6B70AC" stroke-width="4.4"/>
<polyline points="100.3,1720 145.3,1720 190.4,1720 235.4,1720 280.5,1720 325.5,1720 370.6,1720 415.6,1720 460.7,1720 505.7,1720" stroke="#5E6262" stroke-width="4.4"/>
<polyline points="100.3,1711.7 145.3,1711.7 190.4,1711.7 235.4,1711.7 280.5,1711.7 325.5,1711.7 370.6,1711.7 415.6,1711.7 460.7,1709.7 505.7,1709.7" stroke="#DCA53C" stroke-width="4.4"/>
<polyline points="100.3,1630 145.3,1630 190.4,1630 235.4,1630 280.5,1630 325.5,1630 370.6,1630 415.6,1630" stroke="#DD4A93" stroke-width="4.4"/>
<polyline points="100.3,1573 145.3,1572.4 190.4,1572.4 235.4,1571.9 280.5,1571.4 325.5,1574 370.6,1576 415.6,1581.7" stroke="#DCA53C" stroke-width="4.4"/>
<polyline points="100.3,1545.7 145.3,1545.7 190.4,1545.7 235.4,1545.7 280.5,1545.7 325.5,1545.7 370.6,1545.7 415.6,1545.7 460.7,1545.7 505.7,1545.7" stroke="#D96F3B" stroke-width="4.4"/>
</g>
<rect x="80" y="1527" width="446" height="421.8" fill="none" stroke="#000" stroke-width="2.5"/>
<line x1="145.3" y1="1948.8" x2="145.3" y2="1958.3" stroke="#000" stroke-width="2.2"/>
<text x="145.3" y="1977.5" font-size="17.7" text-anchor="middle">10</text>
<line x1="235.4" y1="1948.8" x2="235.4" y2="1958.3" stroke="#000" stroke-width="2.2"/>
<text x="235.4" y="1977.5" font-size="17.7" text-anchor="middle">20</text>
<line x1="325.5" y1="1948.8" x2="325.5" y2="1958.3" stroke="#000" stroke-width="2.2"/>
<text x="325.5" y="1977.5" font-size="17.7" text-anchor="middle">30</text>
<line x1="415.6" y1="1948.8" x2="415.6" y2="1958.3" stroke="#000" stroke-width="2.2"/>
<text x="415.6" y="1977.5" font-size="17.7" text-anchor="middle">40</text>
<line x1="505.7" y1="1948.8" x2="505.7" y2="1958.3" stroke="#000" stroke-width="2.2"/>
<text x="505.7" y="1977.5" font-size="17.7" text-anchor="middle">50</text>
<line x1="70.5" y1="1901.4" x2="80" y2="1901.4" stroke="#000" stroke-width="2.2"/>
<text x="64.5" y="1907.8" font-size="17.7" text-anchor="end">87</text>
<line x1="70.5" y1="1850" x2="80" y2="1850" stroke="#000" stroke-width="2.2"/>
<text x="64.5" y="1856.5" font-size="17.7" text-anchor="end">88</text>
<line x1="70.5" y1="1798.6" x2="80" y2="1798.6" stroke="#000" stroke-width="2.2"/>
<text x="64.5" y="1805" font-size="17.7" text-anchor="end">89</text>
<line x1="70.5" y1="1747.2" x2="80" y2="1747.2" stroke="#000" stroke-width="2.2"/>
<text x="64.5" y="1753.6" font-size="17.7" text-anchor="end">90</text>
<line x1="70.5" y1="1695.8" x2="80" y2="1695.8" stroke="#000" stroke-width="2.2"/>
<text x="64.5" y="1702.2" font-size="17.7" text-anchor="end">91</text>
<line x1="70.5" y1="1644.4" x2="80" y2="1644.4" stroke="#000" stroke-width="2.2"/>
<text x="64.5" y="1650.8" font-size="17.7" text-anchor="end">92</text>
<line x1="70.5" y1="1593" x2="80" y2="1593" stroke="#000" stroke-width="2.2"/>
<text x="64.5" y="1599.5" font-size="17.7" text-anchor="end">93</text>
<line x1="70.5" y1="1541.6" x2="80" y2="1541.6" stroke="#000" stroke-width="2.2"/>
<text x="64.5" y="1548" font-size="17.7" text-anchor="end">94</text>
<text x="303" y="2005.2" font-size="22.3" text-anchor="middle">Read depth (k/cell)</text>
<text x="303" y="1517.4" font-size="28.8" text-anchor="middle">% Reads Map Q30</text>
<clipPath id="cb10"><rect x="623.1" y="1527" width="446" height="421.8"/></clipPath>
<g clip-path="url(#cb10)" fill="none" stroke-linecap="square" stroke-linejoin="round">
<polyline points="643.4,1929.7 688.4,1929.7 733.5,1929.7 778.5,1929.7 823.6,1929.7 868.6,1929.7 913.7,1929.7 958.7,1929.7 1003.8,1929.7 1048.8,1929.7" stroke="#5E6262" stroke-width="4.4"/>
<polyline points="643.4,1712.5 688.4,1712.5 733.5,1712.5 778.5,1712.5 823.6,1712.5 868.6,1712.5 913.7,1712.5 958.7,1712.5 1003.8,1712.5 1048.8,1712.5" stroke="#6B70AC" stroke-width="4.4"/>
<polyline points="643.4,1687.8 688.4,1687.8 733.5,1687.8 778.5,1687.8 823.6,1687.8 868.6,1687.8 913.7,1687.8 958.7,1687.8 1003.8,1687.8 1048.8,1687.8" stroke="#DCA53C" stroke-width="4.4"/>
<polyline points="643.4,1689.5 688.4,1689.5 733.5,1689.5 778.5,1689.5 823.6,1689.5 868.6,1689.5 913.7,1689.5 958.7,1689.5 1003.8,1689.5 1048.8,1689.5" stroke="#179A78" stroke-width="4.4"/>
<polyline points="643.4,1691.5 688.4,1691.5 733.5,1691.5 778.5,1691.5 823.6,1691.5 868.6,1691.5 913.7,1691.5 958.7,1691.5 1003.8,1691.5 1048.8,1691.5" stroke="#179A78" stroke-width="4.4"/>
<polyline points="643.4,1641.5 688.4,1641.5 733.5,1641.5 778.5,1641.5 823.6,1641.9 868.6,1642.5 913.7,1643.5 958.7,1644.9" stroke="#DCA53C" stroke-width="4.4"/>
<polyline points="643.4,1640.9 688.4,1640.9 733.5,1640.9 778.5,1640.5 823.6,1640.5 868.6,1640.9 913.7,1641.2 958.7,1641.5" stroke="#DD4A93" stroke-width="4.4"/>
<polyline points="643.4,1611.5 688.4,1611.5 733.5,1611.5 778.5,1611.5 823.6,1611.5 868.6,1611.5 913.7,1611.5 958.7,1611.5 1003.8,1611.5 1048.8,1611.5" stroke="#D96F3B" stroke-width="4.4"/>
<polyline points="643.4,1545.9 688.4,1545.9 733.5,1545.9 778.5,1545.9 823.6,1545.9 868.6,1545.9 913.7,1545.9 958.7,1545.9 1003.8,1545.9 1048.8,1545.9" stroke="#9A6C30" stroke-width="4.4"/>
</g>
<rect x="623.1" y="1527" width="446" height="421.8" fill="none" stroke="#000" stroke-width="2.5"/>
<line x1="688.4" y1="1948.8" x2="688.4" y2="1958.3" stroke="#000" stroke-width="2.2"/>
<text x="688.4" y="1977.5" font-size="17.7" text-anchor="middle">10</text>
<line x1="778.5" y1="1948.8" x2="778.5" y2="1958.3" stroke="#000" stroke-width="2.2"/>
<text x="778.5" y="1977.5" font-size="17.7" text-anchor="middle">20</text>
<line x1="868.6" y1="1948.8" x2="868.6" y2="1958.3" stroke="#000" stroke-width="2.2"/>
<text x="868.6" y="1977.5" font-size="17.7" text-anchor="middle">30</text>
<line x1="958.7" y1="1948.8" x2="958.7" y2="1958.3" stroke="#000" stroke-width="2.2"/>
<text x="958.7" y="1977.5" font-size="17.7" text-anchor="middle">40</text>
<line x1="1048.8" y1="1948.8" x2="1048.8" y2="1958.3" stroke="#000" stroke-width="2.2"/>
<text x="1048.8" y="1977.5" font-size="17.7" text-anchor="middle">50</text>
<line x1="613.6" y1="1945.7" x2="623.1" y2="1945.7" stroke="#000" stroke-width="2.2"/>
<text x="607.6" y="1952.2" font-size="17.7" text-anchor="end">88</text>
<line x1="613.6" y1="1879.1" x2="623.1" y2="1879.1" stroke="#000" stroke-width="2.2"/>
<text x="607.6" y="1885.6" font-size="17.7" text-anchor="end">90</text>
<line x1="613.6" y1="1812.5" x2="623.1" y2="1812.5" stroke="#000" stroke-width="2.2"/>
<text x="607.6" y="1818.9" font-size="17.7" text-anchor="end">92</text>
<line x1="613.6" y1="1745.8" x2="623.1" y2="1745.8" stroke="#000" stroke-width="2.2"/>
<text x="607.6" y="1752.3" font-size="17.7" text-anchor="end">94</text>
<line x1="613.6" y1="1679.2" x2="623.1" y2="1679.2" stroke="#000" stroke-width="2.2"/>
<text x="607.6" y="1685.6" font-size="17.7" text-anchor="end">96</text>
<line x1="613.6" y1="1612.5" x2="623.1" y2="1612.5" stroke="#000" stroke-width="2.2"/>
<text x="607.6" y="1619" font-size="17.7" text-anchor="end">98</text>
<line x1="613.6" y1="1545.9" x2="623.1" y2="1545.9" stroke="#000" stroke-width="2.2"/>
<text x="607.6" y="1552.4" font-size="17.7" text-anchor="end">100</text>
<text x="846.1" y="2005.2" font-size="22.3" text-anchor="middle">Read depth (k/cell)</text>
<text x="846.1" y="1484.8" font-size="28.8" text-anchor="middle">% Whitelisted</text>
<text x="846.1" y="1516.9" font-size="28.8" text-anchor="middle">Barcodes</text>
<clipPath id="cb20"><rect x="1166.5" y="1527" width="446" height="421.8"/></clipPath>
<g clip-path="url(#cb20)" fill="none" stroke-linecap="square" stroke-linejoin="round">
<polyline points="1186.8,1929.9 1231.8,1891.9 1276.9,1869.7 1321.9,1857.9 1367,1850.6 1412,1843.5 1457.1,1836.9 1502.1,1833.8 1547.2,1832.2 1592.2,1830.4" stroke="#9A6C30" stroke-width="4.4"/>
<polyline points="1186.8,1918.7 1231.8,1872.3 1276.9,1844.8 1321.9,1826.5 1367,1813.4 1412,1802.9 1457.1,1793.7 1502.1,1787.2 1547.2,1781.9 1592.2,1777.2" stroke="#5E6262" stroke-width="4.4"/>
<polyline points="1186.8,1763.6 1231.8,1749.2 1276.9,1745.8 1321.9,1744.5 1367,1743.9 1412,1742.6 1457.1,1745.3 1502.1,1742.6" stroke="#DCA53C" stroke-width="4.4"/>
<polyline points="1186.8,1762.3 1231.8,1725.6 1276.9,1717 1321.9,1713.3 1367,1712 1412,1711.5 1457.1,1712.5 1502.1,1711.2 1547.2,1712.5 1592.2,1712.5" stroke="#6B70AC" stroke-width="4.4"/>
<polyline points="1186.8,1723 1231.8,1693.9 1276.9,1691.3 1321.9,1690.8 1367,1690.5 1412,1690.8 1457.1,1691 1502.1,1691.6 1547.2,1691.8 1592.2,1692.3" stroke="#179A78" stroke-width="4.4"/>
<polyline points="1186.8,1725.6 1231.8,1696.5 1276.9,1693.9 1321.9,1693.4 1367,1693.1 1412,1693.4 1457.1,1693.9 1502.1,1694.4 1547.2,1695 1592.2,1695.5" stroke="#179A78" stroke-width="4.4"/>
<polyline points="1186.8,1642.6 1231.8,1626.1 1276.9,1620.1 1321.9,1619 1367,1620.1 1412,1618.2 1457.1,1619 1502.1,1619 1547.2,1618.7 1592.2,1620.3" stroke="#D96F3B" stroke-width="4.4"/>
<polyline points="1186.8,1620.8 1231.8,1579.7 1276.9,1572.4 1321.9,1568.5 1367,1569.2 1412,1568.7 1457.1,1567.9 1502.1,1569.8 1547.2,1565.1 1592.2,1567.1" stroke="#DCA53C" stroke-width="4.4"/>
<polyline points="1186.8,1573.7 1231.8,1548.8 1276.9,1546.2 1321.9,1545.4 1367,1546.2 1412,1548.3 1457.1,1551.4 1502.1,1555.4" stroke="#DD4A93" stroke-width="4.4"/>
</g>
<rect x="1166.5" y="1527" width="446" height="421.8" fill="none" stroke="#000" stroke-width="2.5"/>
<line x1="1231.8" y1="1948.8" x2="1231.8" y2="1958.3" stroke="#000" stroke-width="2.2"/>
<text x="1231.8" y="1977.5" font-size="17.7" text-anchor="middle">10</text>
<line x1="1321.9" y1="1948.8" x2="1321.9" y2="1958.3" stroke="#000" stroke-width="2.2"/>
<text x="1321.9" y="1977.5" font-size="17.7" text-anchor="middle">20</text>
<line x1="1412" y1="1948.8" x2="1412" y2="1958.3" stroke="#000" stroke-width="2.2"/>
<text x="1412" y="1977.5" font-size="17.7" text-anchor="middle">30</text>
<line x1="1502.1" y1="1948.8" x2="1502.1" y2="1958.3" stroke="#000" stroke-width="2.2"/>
<text x="1502.1" y="1977.5" font-size="17.7" text-anchor="middle">40</text>
<line x1="1592.2" y1="1948.8" x2="1592.2" y2="1958.3" stroke="#000" stroke-width="2.2"/>
<text x="1592.2" y="1977.5" font-size="17.7" text-anchor="middle">50</text>
<line x1="1157" y1="1892.2" x2="1166.5" y2="1892.2" stroke="#000" stroke-width="2.2"/>
<text x="1151" y="1898.6" font-size="17.7" text-anchor="end">5</text>
<line x1="1157" y1="1809.3" x2="1166.5" y2="1809.3" stroke="#000" stroke-width="2.2"/>
<text x="1151" y="1815.8" font-size="17.7" text-anchor="end">10</text>
<line x1="1157" y1="1726.4" x2="1166.5" y2="1726.4" stroke="#000" stroke-width="2.2"/>
<text x="1151" y="1732.8" font-size="17.7" text-anchor="end">15</text>
<line x1="1157" y1="1643.5" x2="1166.5" y2="1643.5" stroke="#000" stroke-width="2.2"/>
<text x="1151" y="1650" font-size="17.7" text-anchor="end">20</text>
<line x1="1157" y1="1560.6" x2="1166.5" y2="1560.6" stroke="#000" stroke-width="2.2"/>
<text x="1151" y="1567" font-size="17.7" text-anchor="end">25</text>
<text x="1389.5" y="2005.2" font-size="22.3" text-anchor="middle">Read depth (k/cell)</text>
<text x="1389.5" y="1517.4" font-size="28.8" text-anchor="middle">TSS Enrichment</text>
<clipPath id="cb30"><rect x="1709.8" y="1527" width="446" height="421.8"/></clipPath>
<g clip-path="url(#cb30)" fill="none" stroke-linecap="square" stroke-linejoin="round">
<polyline points="1730.1,1929.8 1775.1,1921.2 1820.2,1914.2 1865.2,1908.3 1910.3,1903.1 1955.3,1898.7 2000.4,1895.3 2045.4,1891.9 2090.5,1888.8 2135.5,1885.7" stroke="#5E6262" stroke-width="4.4"/>
<polyline points="1730.1,1923.1 1775.1,1910.9 1820.2,1897.9 1865.2,1883.6 1910.3,1869.3 1955.3,1856.3 2000.4,1842.1 2045.4,1829.1 2090.5,1816.1 2135.5,1805.7" stroke="#9A6C30" stroke-width="4.4"/>
<polyline points="1730.1,1891.4 1775.1,1848.5 1820.2,1822.6 1865.2,1799.2 1910.3,1777.1 1955.3,1757.7 2000.4,1740.8 2045.4,1725.2 2090.5,1706.5 2135.5,1694.6" stroke="#DCA53C" stroke-width="4.4"/>
<polyline points="1730.1,1894.5 1775.1,1851.1 1820.2,1816.1 1865.2,1782.3 1910.3,1748.6 1955.3,1716.1 2000.4,1683.7 2045.4,1657.7 2090.5,1630.4 2135.5,1604.5" stroke="#6B70AC" stroke-width="4.4"/>
<polyline points="1730.1,1881 1775.1,1825.2 1820.2,1777.1 1865.2,1733 1910.3,1692.8 1955.3,1651.2 2000.4,1602.7 2045.4,1591.5" stroke="#DCA53C" stroke-width="4.4"/>
<polyline points="1730.1,1873.7 1775.1,1816.1 1820.2,1771.9 1865.2,1730.4 1910.3,1696.7 1955.3,1665.5 2000.4,1639.5 2045.4,1620.1" stroke="#DD4A93" stroke-width="4.4"/>
<polyline points="1730.1,1875.8 1775.1,1822.6 1820.2,1775.8 1865.2,1735.6 1910.3,1700.5 1955.3,1669.4 2000.4,1642.1 2045.4,1616.2 2090.5,1594.1 2135.5,1572" stroke="#D96F3B" stroke-width="4.4"/>
<polyline points="1730.1,1885.7 1775.1,1835 1820.2,1790.9 1865.2,1749.4 1910.3,1711.7 1955.3,1675.4 2000.4,1640.3 2045.4,1607.9 2090.5,1575.9 2135.5,1544.8" stroke="#179A78" stroke-width="4.4"/>
<polyline points="1730.1,1886.7 1775.1,1836.1 1820.2,1791.9 1865.2,1750.4 1910.3,1712.8 1955.3,1676.4 2000.4,1641.3 2045.4,1608.9 2090.5,1578.5 2135.5,1548.7" stroke="#179A78" stroke-width="4.4"/>
</g>
<rect x="1709.8" y="1527" width="446" height="421.8" fill="none" stroke="#000" stroke-width="2.5"/>
<line x1="1775.1" y1="1948.8" x2="1775.1" y2="1958.3" stroke="#000" stroke-width="2.2"/>
<text x="1775.1" y="1977.5" font-size="17.7" text-anchor="middle">10</text>
<line x1="1865.2" y1="1948.8" x2="1865.2" y2="1958.3" stroke="#000" stroke-width="2.2"/>
<text x="1865.2" y="1977.5" font-size="17.7" text-anchor="middle">20</text>
<line x1="1955.3" y1="1948.8" x2="1955.3" y2="1958.3" stroke="#000" stroke-width="2.2"/>
<text x="1955.3" y="1977.5" font-size="17.7" text-anchor="middle">30</text>
<line x1="2045.4" y1="1948.8" x2="2045.4" y2="1958.3" stroke="#000" stroke-width="2.2"/>
<text x="2045.4" y="1977.5" font-size="17.7" text-anchor="middle">40</text>
<line x1="2135.5" y1="1948.8" x2="2135.5" y2="1958.3" stroke="#000" stroke-width="2.2"/>
<text x="2135.5" y="1977.5" font-size="17.7" text-anchor="middle">50</text>
<line x1="1700.3" y1="1937.6" x2="1709.8" y2="1937.6" stroke="#000" stroke-width="2.2"/>
<text x="1694.3" y="1944" font-size="17.7" text-anchor="end">0</text>
<line x1="1700.3" y1="1889.5" x2="1709.8" y2="1889.5" stroke="#000" stroke-width="2.2"/>
<text x="1694.3" y="1895.9" font-size="17.7" text-anchor="end">2500</text>
<line x1="1700.3" y1="1841.3" x2="1709.8" y2="1841.3" stroke="#000" stroke-width="2.2"/>
<text x="1694.3" y="1847.8" font-size="17.7" text-anchor="end">5000</text>
<line x1="1700.3" y1="1793.2" x2="1709.8" y2="1793.2" stroke="#000" stroke-width="2.2"/>
<text x="1694.3" y="1799.6" font-size="17.7" text-anchor="end">7500</text>
<line x1="1700.3" y1="1745" x2="1709.8" y2="1745" stroke="#000" stroke-width="2.2"/>
<text x="1694.3" y="1751.5" font-size="17.7" text-anchor="end">10000</text>
<line x1="1700.3" y1="1696.9" x2="1709.8" y2="1696.9" stroke="#000" stroke-width="2.2"/>
<text x="1694.3" y="1703.4" font-size="17.7" text-anchor="end">12500</text>
<line x1="1700.3" y1="1648.8" x2="1709.8" y2="1648.8" stroke="#000" stroke-width="2.2"/>
<text x="1694.3" y="1655.2" font-size="17.7" text-anchor="end">15000</text>
<line x1="1700.3" y1="1600.6" x2="1709.8" y2="1600.6" stroke="#000" stroke-width="2.2"/>
<text x="1694.3" y="1607.1" font-size="17.7" text-anchor="end">17500</text>
<line x1="1700.3" y1="1552.5" x2="1709.8" y2="1552.5" stroke="#000" stroke-width="2.2"/>
<text x="1694.3" y="1559" font-size="17.7" text-anchor="end">20000</text>
<text x="1932.8" y="2005.2" font-size="22.3" text-anchor="middle">Read depth (k/cell)</text>
<text x="1932.8" y="1517.4" font-size="28.8" text-anchor="middle">Unique Fragments</text>
<clipPath id="cb01"><rect x="80" y="2094.8" width="446" height="422.1"/></clipPath>
<g clip-path="url(#cb01)" fill="none" stroke-linecap="square" stroke-linejoin="round">
<polyline points="100.3,2494.8 145.3,2485.1 190.4,2475.7 235.4,2467.3 280.5,2459.5 325.5,2451.1 370.6,2443.2 415.6,2435.4 460.7,2428 505.7,2421.5" stroke="#9A6C30" stroke-width="4.4"/>
<polyline points="100.3,2498.2 145.3,2493.5 190.4,2490.9 235.4,2488.3 280.5,2486.7 325.5,2485.1 370.6,2483.8 415.6,2482.5 460.7,2481.5 505.7,2480.4" stroke="#5E6262" stroke-width="4.4"/>
<polyline points="100.3,2454.2 145.3,2414.9 190.4,2388.7 235.4,2368.3 280.5,2348.1 325.5,2333.7 370.6,2319.3 415.6,2306.2 460.7,2289.7 505.7,2279.2" stroke="#DCA53C" stroke-width="4.4"/>
<polyline points="100.3,2467.8 145.3,2428 190.4,2395.3 235.4,2367.2 280.5,2342.9 325.5,2320.6 370.6,2297 415.6,2274.7 460.7,2257.2 505.7,2241.2" stroke="#6B70AC" stroke-width="4.4"/>
<polyline points="100.3,2460.5 145.3,2416.5 190.4,2379.8 235.4,2347.1 280.5,2316.9 325.5,2288.6 370.6,2262.4 415.6,2239.6 460.7,2216.8 505.7,2195.1" stroke="#179A78" stroke-width="4.4"/>
<polyline points="100.3,2462.3 145.3,2418.6 190.4,2381.9 235.4,2349.2 280.5,2319 325.5,2290.7 370.6,2264.5 415.6,2241.7 460.7,2218.9 505.7,2197.2" stroke="#179A78" stroke-width="4.4"/>
<polyline points="100.3,2447.7 145.3,2401.8 190.4,2365.1 235.4,2331.1 280.5,2303.6 325.5,2278.1 370.6,2256.4 415.6,2239.4" stroke="#DD4A93" stroke-width="4.4"/>
<polyline points="100.3,2452.9 145.3,2399.2 190.4,2361.2 235.4,2327.1 280.5,2291.8 325.5,2255.6 370.6,2211.1 415.6,2205.3" stroke="#DCA53C" stroke-width="4.4"/>
<polyline points="100.3,2433.3 145.3,2373 190.4,2321.9 235.4,2280 280.5,2242 325.5,2209.2 370.6,2180.4 415.6,2155 460.7,2133.3 505.7,2114.1" stroke="#D96F3B" stroke-width="4.4"/>
</g>
<rect x="80" y="2094.8" width="446" height="422.1" fill="none" stroke="#000" stroke-width="2.5"/>
<line x1="145.3" y1="2516.9" x2="145.3" y2="2526.4" stroke="#000" stroke-width="2.2"/>
<text x="145.3" y="2545.6" font-size="17.7" text-anchor="middle">10</text>
<line x1="235.4" y1="2516.9" x2="235.4" y2="2526.4" stroke="#000" stroke-width="2.2"/>
<text x="235.4" y="2545.6" font-size="17.7" text-anchor="middle">20</text>
<line x1="325.5" y1="2516.9" x2="325.5" y2="2526.4" stroke="#000" stroke-width="2.2"/>
<text x="325.5" y="2545.6" font-size="17.7" text-anchor="middle">30</text>
<line x1="415.6" y1="2516.9" x2="415.6" y2="2526.4" stroke="#000" stroke-width="2.2"/>
<text x="415.6" y="2545.6" font-size="17.7" text-anchor="middle">40</text>
<line x1="505.7" y1="2516.9" x2="505.7" y2="2526.4" stroke="#000" stroke-width="2.2"/>
<text x="505.7" y="2545.6" font-size="17.7" text-anchor="middle">50</text>
<line x1="70.5" y1="2504" x2="80" y2="2504" stroke="#000" stroke-width="2.2"/>
<text x="64.5" y="2510.4" font-size="17.7" text-anchor="end">0</text>
<line x1="70.5" y1="2438.4" x2="80" y2="2438.4" stroke="#000" stroke-width="2.2"/>
<text x="64.5" y="2444.8" font-size="17.7" text-anchor="end">2000</text>
<line x1="70.5" y1="2372.7" x2="80" y2="2372.7" stroke="#000" stroke-width="2.2"/>
<text x="64.5" y="2379.2" font-size="17.7" text-anchor="end">4000</text>
<line x1="70.5" y1="2307.1" x2="80" y2="2307.1" stroke="#000" stroke-width="2.2"/>
<text x="64.5" y="2313.5" font-size="17.7" text-anchor="end">6000</text>
<line x1="70.5" y1="2241.5" x2="80" y2="2241.5" stroke="#000" stroke-width="2.2"/>
<text x="64.5" y="2247.9" font-size="17.7" text-anchor="end">8000</text>
<line x1="70.5" y1="2175.8" x2="80" y2="2175.8" stroke="#000" stroke-width="2.2"/>
<text x="64.5" y="2182.3" font-size="17.7" text-anchor="end">10000</text>
<line x1="70.5" y1="2110.2" x2="80" y2="2110.2" stroke="#000" stroke-width="2.2"/>
<text x="64.5" y="2116.6" font-size="17.7" text-anchor="end">12000</text>
<text x="303" y="2573.3" font-size="22.3" text-anchor="middle">Read depth (k/cell)</text>
<text x="303" y="2052.6" font-size="28.8" text-anchor="middle">Unique Fragments</text>
<text x="303" y="2084.7" font-size="28.8" text-anchor="middle">in Regions</text>
<clipPath id="cb11"><rect x="623.1" y="2094.8" width="446" height="422.1"/></clipPath>
<g clip-path="url(#cb11)" fill="none" stroke-linecap="square" stroke-linejoin="round">
<polyline points="643.4,2326.6 688.4,2369.1 733.5,2403.1 778.5,2426.7 823.6,2445.1 868.6,2459.5 913.7,2471.3 958.7,2480.5 1003.8,2489.6 1048.8,2498" stroke="#5E6262" stroke-width="4.4"/>
<polyline points="643.4,2374.8 688.4,2377.5 733.5,2376.9 778.5,2376.4 823.6,2376.1 868.6,2378.2 913.7,2378.2 958.7,2378.8 1003.8,2378.2 1048.8,2377.7" stroke="#9A6C30" stroke-width="4.4"/>
<polyline points="643.4,2247.2 688.4,2260.3 733.5,2270.8 778.5,2278.1 823.6,2283.9 868.6,2287.8 913.7,2291.2 958.7,2293.8" stroke="#DD4A93" stroke-width="4.4"/>
<polyline points="643.4,2269.5 688.4,2275.2 733.5,2279.2 778.5,2282.6 823.6,2285.2 868.6,2287.8 913.7,2290.4 958.7,2292.5 1003.8,2294.4 1048.8,2296.2" stroke="#6B70AC" stroke-width="4.4"/>
<polyline points="643.4,2251.4 688.4,2256.1 733.5,2261.3 778.5,2265.3 823.6,2269.2 868.6,2273.1 913.7,2276.5 958.7,2279.2 1003.8,2281.5 1048.8,2283.6" stroke="#179A78" stroke-width="4.4"/>
<polyline points="643.4,2254.5 688.4,2259.2 733.5,2264.5 778.5,2268.4 823.6,2272.3 868.6,2276.3 913.7,2279.7 958.7,2282.3 1003.8,2284.7 1048.8,2286.8" stroke="#179A78" stroke-width="4.4"/>
<polyline points="643.4,2221 688.4,2228.8 733.5,2235.9 778.5,2241.4 823.6,2246.1 868.6,2248.8 913.7,2247.2 958.7,2250.3" stroke="#DCA53C" stroke-width="4.4"/>
<polyline points="643.4,2183.8 688.4,2196.1 733.5,2204.5 778.5,2210.5 823.6,2215.7 868.6,2220.2 913.7,2224.1 958.7,2227.5 1003.8,2230.1 1048.8,2232.2" stroke="#DCA53C" stroke-width="4.4"/>
<polyline points="643.4,2114 688.4,2120.8 733.5,2127.4 778.5,2132.6 823.6,2137.1 868.6,2141 913.7,2144.2 958.7,2147.1 1003.8,2149.2 1048.8,2151.3" stroke="#D96F3B" stroke-width="4.4"/>
</g>
<rect x="623.1" y="2094.8" width="446" height="422.1" fill="none" stroke="#000" stroke-width="2.5"/>
<line x1="688.4" y1="2516.9" x2="688.4" y2="2526.4" stroke="#000" stroke-width="2.2"/>
<text x="688.4" y="2545.6" font-size="17.7" text-anchor="middle">10</text>
<line x1="778.5" y1="2516.9" x2="778.5" y2="2526.4" stroke="#000" stroke-width="2.2"/>
<text x="778.5" y="2545.6" font-size="17.7" text-anchor="middle">20</text>
<line x1="868.6" y1="2516.9" x2="868.6" y2="2526.4" stroke="#000" stroke-width="2.2"/>
<text x="868.6" y="2545.6" font-size="17.7" text-anchor="middle">30</text>
<line x1="958.7" y1="2516.9" x2="958.7" y2="2526.4" stroke="#000" stroke-width="2.2"/>
<text x="958.7" y="2545.6" font-size="17.7" text-anchor="middle">40</text>
<line x1="1048.8" y1="2516.9" x2="1048.8" y2="2526.4" stroke="#000" stroke-width="2.2"/>
<text x="1048.8" y="2545.6" font-size="17.7" text-anchor="middle">50</text>
<line x1="613.6" y1="2449.5" x2="623.1" y2="2449.5" stroke="#000" stroke-width="2.2"/>
<text x="607.6" y="2456" font-size="17.7" text-anchor="end">0.3</text>
<line x1="613.6" y1="2358.7" x2="623.1" y2="2358.7" stroke="#000" stroke-width="2.2"/>
<text x="607.6" y="2365.2" font-size="17.7" text-anchor="end">0.4</text>
<line x1="613.6" y1="2268" x2="623.1" y2="2268" stroke="#000" stroke-width="2.2"/>
<text x="607.6" y="2274.4" font-size="17.7" text-anchor="end">0.5</text>
<line x1="613.6" y1="2177.2" x2="623.1" y2="2177.2" stroke="#000" stroke-width="2.2"/>
<text x="607.6" y="2183.6" font-size="17.7" text-anchor="end">0.6</text>
<text x="846.1" y="2573.3" font-size="22.3" text-anchor="middle">Read depth (k/cell)</text>
<text x="846.1" y="2052.6" font-size="28.8" text-anchor="middle">Fraction of Unique</text>
<text x="846.1" y="2084.7" font-size="28.8" text-anchor="middle">Fragments in Peaks</text>
<clipPath id="cb21"><rect x="1166.5" y="2094.8" width="446" height="422.1"/></clipPath>
<g clip-path="url(#cb21)" fill="none" stroke-linecap="square" stroke-linejoin="round">
<polyline points="1186.8,2439.2 1231.8,2456.3 1276.9,2467.3 1321.9,2475.1 1367,2481.4 1412,2486.1 1457.1,2490.1 1502.1,2492.9 1547.2,2495.6 1592.2,2497.9" stroke="#5E6262" stroke-width="4.4"/>
<polyline points="1186.8,2302.7 1231.8,2314.8 1276.9,2325.3 1321.9,2334.2 1367,2342.3 1412,2348.8 1457.1,2354.6 1502.1,2359.3 1547.2,2363.8 1592.2,2369.8" stroke="#179A78" stroke-width="4.4"/>
<polyline points="1186.8,2257.7 1231.8,2286.5 1276.9,2308.8 1321.9,2328.4 1367,2345.4 1412,2358.5 1457.1,2369 1502.1,2378.7 1547.2,2383.4 1592.2,2391.3" stroke="#DCA53C" stroke-width="4.4"/>
<polyline points="1186.8,2279.9 1231.8,2300.9 1276.9,2317.9 1321.9,2333.6 1367,2347.3 1412,2357.8 1457.1,2367.7 1502.1,2375.6 1547.2,2381.3 1592.2,2387.4" stroke="#9A6C30" stroke-width="4.4"/>
<polyline points="1186.8,2321.9 1231.8,2333.1 1276.9,2342.8 1321.9,2350.7 1367,2357.2 1412,2362.5 1457.1,2367.7 1502.1,2372.9 1547.2,2378.2 1592.2,2382.9" stroke="#6B70AC" stroke-width="4.4"/>
<polyline points="1186.8,2241.9 1231.8,2256.9 1276.9,2270.2 1321.9,2282.6 1367,2291.7 1412,2299.6 1457.1,2299.6 1502.1,2312.7" stroke="#DCA53C" stroke-width="4.4"/>
<polyline points="1186.8,2192.2 1231.8,2224.9 1276.9,2250.3 1321.9,2272.1 1367,2290.4 1412,2306.1 1457.1,2320.5 1502.1,2333.6" stroke="#DD4A93" stroke-width="4.4"/>
<polyline points="1186.8,2113 1231.8,2149.7 1276.9,2179.1 1321.9,2204 1367,2224.9 1412,2243.3 1457.1,2260.3 1502.1,2274.7 1547.2,2288.6 1592.2,2302.2" stroke="#D96F3B" stroke-width="4.4"/>
</g>
<rect x="1166.5" y="2094.8" width="446" height="422.1" fill="none" stroke="#000" stroke-width="2.5"/>
<line x1="1231.8" y1="2516.9" x2="1231.8" y2="2526.4" stroke="#000" stroke-width="2.2"/>
<text x="1231.8" y="2545.6" font-size="17.7" text-anchor="middle">10</text>
<line x1="1321.9" y1="2516.9" x2="1321.9" y2="2526.4" stroke="#000" stroke-width="2.2"/>
<text x="1321.9" y="2545.6" font-size="17.7" text-anchor="middle">20</text>
<line x1="1412" y1="2516.9" x2="1412" y2="2526.4" stroke="#000" stroke-width="2.2"/>
<text x="1412" y="2545.6" font-size="17.7" text-anchor="middle">30</text>
<line x1="1502.1" y1="2516.9" x2="1502.1" y2="2526.4" stroke="#000" stroke-width="2.2"/>
<text x="1502.1" y="2545.6" font-size="17.7" text-anchor="middle">40</text>
<line x1="1592.2" y1="2516.9" x2="1592.2" y2="2526.4" stroke="#000" stroke-width="2.2"/>
<text x="1592.2" y="2545.6" font-size="17.7" text-anchor="middle">50</text>
<line x1="1157" y1="2445" x2="1166.5" y2="2445" stroke="#000" stroke-width="2.2"/>
<text x="1151" y="2451.4" font-size="17.7" text-anchor="end">0.1</text>
<line x1="1157" y1="2360.7" x2="1166.5" y2="2360.7" stroke="#000" stroke-width="2.2"/>
<text x="1151" y="2367.2" font-size="17.7" text-anchor="end">0.2</text>
<line x1="1157" y1="2276.4" x2="1166.5" y2="2276.4" stroke="#000" stroke-width="2.2"/>
<text x="1151" y="2282.8" font-size="17.7" text-anchor="end">0.3</text>
<line x1="1157" y1="2192.1" x2="1166.5" y2="2192.1" stroke="#000" stroke-width="2.2"/>
<text x="1151" y="2198.6" font-size="17.7" text-anchor="end">0.4</text>
<line x1="1157" y1="2107.8" x2="1166.5" y2="2107.8" stroke="#000" stroke-width="2.2"/>
<text x="1151" y="2114.2" font-size="17.7" text-anchor="end">0.5</text>
<text x="1389.5" y="2573.3" font-size="22.3" text-anchor="middle">Read depth (k/cell)</text>
<text x="1389.5" y="2085.2" font-size="28.8" text-anchor="middle">Sequencing Efficiency</text>
<rect x="1646.7" y="2109.6" width="495.1" height="390.1" rx="4.5" fill="#fff" stroke="#cccccc" stroke-width="1.6"/>
<line x1="1658" y1="2132.8" x2="1716.5" y2="2132.8" stroke="#DCA53C" stroke-width="4.4" stroke-linecap="square"/>
<text x="1740.5" y="2143.6" font-size="28.7">BioRad ddSEQ Sample 1</text>
<line x1="1658" y1="2175.2" x2="1716.5" y2="2175.2" stroke="#DCA53C" stroke-width="4.4" stroke-linecap="square"/>
<text x="1740.5" y="2186.1" font-size="28.7">BioRad ddSEQ Sample 2</text>
<line x1="1658" y1="2217.7" x2="1716.5" y2="2217.7" stroke="#9A6C30" stroke-width="4.4" stroke-linecap="square"/>
<text x="1740.5" y="2228.5" font-size="28.7">s3-ATAC</text>
<line x1="1658" y1="2260.2" x2="1716.5" y2="2260.2" stroke="#DD4A93" stroke-width="4.4" stroke-linecap="square"/>
<text x="1740.5" y="2271" font-size="28.7">10x Multiome</text>
<line x1="1658" y1="2302.6" x2="1716.5" y2="2302.6" stroke="#6B70AC" stroke-width="4.4" stroke-linecap="square"/>
<text x="1740.5" y="2313.4" font-size="28.7">10x v1.1 Chromium X</text>
<line x1="1658" y1="2345.1" x2="1716.5" y2="2345.1" stroke="#D96F3B" stroke-width="4.4" stroke-linecap="square"/>
<text x="1740.5" y="2355.9" font-size="28.7">10x v1</text>
<line x1="1658" y1="2387.5" x2="1716.5" y2="2387.5" stroke="#179A78" stroke-width="4.4" stroke-linecap="square"/>
<text x="1740.5" y="2398.3" font-size="28.7">10x v2</text>
<line x1="1658" y1="2430" x2="1716.5" y2="2430" stroke="#179A78" stroke-width="4.4" stroke-linecap="square"/>
<text x="1740.5" y="2440.8" font-size="28.7">10x v2 Chromium X</text>
<line x1="1658" y1="2472.4" x2="1716.5" y2="2472.4" stroke="#5E6262" stroke-width="4.4" stroke-linecap="square"/>
<text x="1740.5" y="2483.2" font-size="28.7">HyDrop-ATAC</text>
</g>
<text x="32.5" y="1485.6" font-family="'Liberation Sans', sans-serif" font-size="50" fill="#1c1c1c">b</text>
</g>
</svg></body></html>
